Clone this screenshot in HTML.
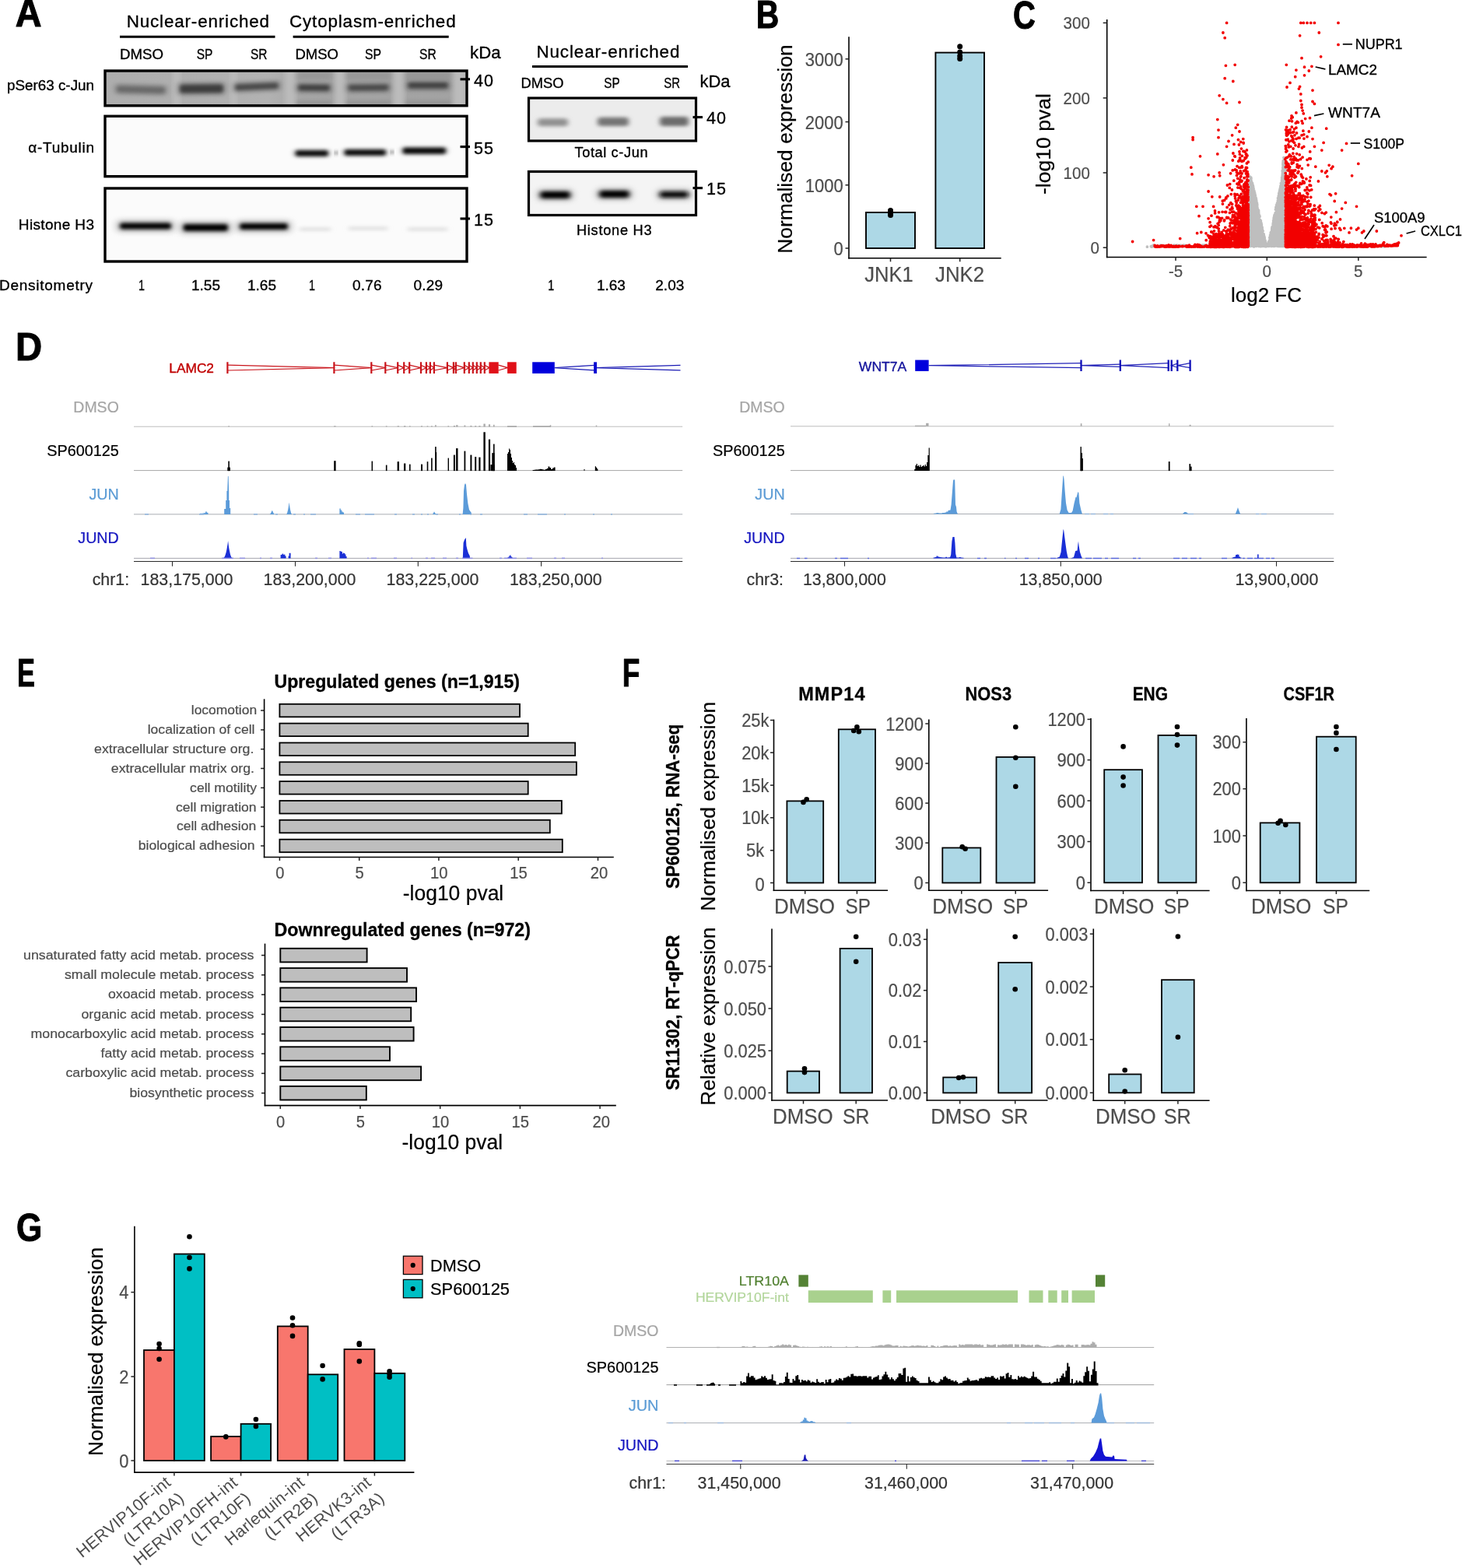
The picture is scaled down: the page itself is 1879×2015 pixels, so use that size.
<!DOCTYPE html>
<html lang="en"><head><meta charset="utf-8"><title>Figure</title>
<style>html,body{margin:0;padding:0;background:#fff}svg{display:block}text{font-family:"Liberation Sans",sans-serif}</style></head>
<body>
<svg width="1879" height="2015" viewBox="0 0 1879 2015">
<rect width="1879" height="2015" fill="#fff"/>
<text x="19.8" y="34.0" font-size="49.6" stroke="#000" stroke-width="1.0" stroke-linejoin="round" font-weight="bold" textLength="33.8" lengthAdjust="spacingAndGlyphs">A</text>
<text x="162.7" y="35.4" font-size="22.4" stroke="#000" stroke-width="0.35" stroke-linejoin="round" textLength="183.3" lengthAdjust="spacing">Nuclear-enriched</text>
<text x="372.0" y="35.4" font-size="22.4" stroke="#000" stroke-width="0.35" stroke-linejoin="round" textLength="213.6" lengthAdjust="spacing">Cytoplasm-enriched</text>
<line x1="154.0" y1="47.2" x2="353.5" y2="47.2" stroke="#000" stroke-width="3.1"/>
<line x1="376.6" y1="47.2" x2="576.7" y2="47.2" stroke="#000" stroke-width="3.1"/>
<text x="154.0" y="75.8" font-size="19" stroke="#000" stroke-width="0.35" stroke-linejoin="round" textLength="56.0" lengthAdjust="spacingAndGlyphs">DMSO</text>
<text x="252.7" y="75.8" font-size="19" stroke="#000" stroke-width="0.35" stroke-linejoin="round" textLength="20.7" lengthAdjust="spacingAndGlyphs">SP</text>
<text x="322.0" y="75.8" font-size="19" stroke="#000" stroke-width="0.35" stroke-linejoin="round" textLength="21.5" lengthAdjust="spacingAndGlyphs">SR</text>
<text x="379.5" y="75.8" font-size="19" stroke="#000" stroke-width="0.35" stroke-linejoin="round" textLength="55.5" lengthAdjust="spacingAndGlyphs">DMSO</text>
<text x="469.0" y="75.8" font-size="19" stroke="#000" stroke-width="0.35" stroke-linejoin="round" textLength="21.0" lengthAdjust="spacingAndGlyphs">SP</text>
<text x="539.0" y="75.8" font-size="19" stroke="#000" stroke-width="0.35" stroke-linejoin="round" textLength="21.7" lengthAdjust="spacingAndGlyphs">SR</text>
<text x="604.0" y="74.8" font-size="22.4" stroke="#000" stroke-width="0.35" stroke-linejoin="round" textLength="39.6" lengthAdjust="spacingAndGlyphs">kDa</text>
<defs><filter id="b1" x="-20%" y="-100%" width="140%" height="300%"><feGaussianBlur stdDeviation="2.4 2.0"/></filter><filter id="b2" x="-20%" y="-100%" width="140%" height="300%"><feGaussianBlur stdDeviation="3 2"/></filter><filter id="b3" x="-20%" y="-100%" width="140%" height="300%"><feGaussianBlur stdDeviation="4 3"/></filter><clipPath id="cA1"><rect x="135" y="91" width="465" height="45"/></clipPath><clipPath id="cA2"><rect x="135" y="149" width="465" height="78"/></clipPath><clipPath id="cA3"><rect x="135" y="242" width="465" height="94"/></clipPath><clipPath id="cA4"><rect x="679.5" y="126" width="215" height="55"/></clipPath><clipPath id="cA5"><rect x="679.5" y="220.5" width="215" height="56"/></clipPath><linearGradient id="gA1" x1="0" x2="1" y1="0" y2="0"><stop offset="0" stop-color="#adadad"/><stop offset="0.45" stop-color="#b2b2b2"/><stop offset="0.55" stop-color="#a6a6a6"/><stop offset="1" stop-color="#a2a2a2"/></linearGradient></defs>
<rect x="135.0" y="91.0" width="465.0" height="45.0" fill="url(#gA1)"/>
<g clip-path="url(#cA1)">
<rect x="222" y="88" width="10" height="52" fill="#bcbcbc" filter="url(#b2)"/>
<rect x="296" y="88" width="8" height="52" fill="#bcbcbc" filter="url(#b2)"/>
<rect x="366" y="88" width="14" height="52" fill="#bcbcbc" filter="url(#b2)"/>
<rect x="430" y="88" width="14" height="52" fill="#bcbcbc" filter="url(#b2)"/>
<rect x="505" y="88" width="15" height="52" fill="#bcbcbc" filter="url(#b2)"/>
<rect x="582" y="88" width="18" height="52" fill="#bcbcbc" filter="url(#b2)"/>
<rect x="146.0" y="107.6" width="70.0" height="15.2" rx="6" fill="#777" opacity="0.45" filter="url(#b2)" transform="rotate(1.5 181.0 115.2)"/>
<rect x="150.0" y="111.2" width="62.0" height="8.0" rx="4" fill="#666" opacity="0.95" filter="url(#b1)" transform="rotate(1.5 181.0 115.2)"/>
<rect x="227.0" y="104.8" width="64.0" height="18.4" rx="6" fill="#777" opacity="0.45" filter="url(#b2)" transform="rotate(-0.5 259.0 114)"/>
<rect x="231.0" y="108.4" width="56.0" height="11.2" rx="4" fill="#3c3c3c" opacity="1" filter="url(#b1)" transform="rotate(-0.5 259.0 114)"/>
<rect x="298.0" y="103.6" width="64.0" height="15.2" rx="6" fill="#777" opacity="0.45" filter="url(#b2)" transform="rotate(-2.5 330.0 111.2)"/>
<rect x="302.0" y="107.2" width="56.0" height="8.0" rx="4" fill="#484848" opacity="1" filter="url(#b1)" transform="rotate(-2.5 330.0 111.2)"/>
<rect x="379.0" y="105.2" width="49.0" height="15.2" rx="6" fill="#777" opacity="0.45" filter="url(#b2)" transform="rotate(0.5 403.5 112.8)"/>
<rect x="383.0" y="108.8" width="41.0" height="8.0" rx="4" fill="#404040" opacity="1" filter="url(#b1)" transform="rotate(0.5 403.5 112.8)"/>
<rect x="443.5" y="105.2" width="60.0" height="14.8" rx="6" fill="#777" opacity="0.45" filter="url(#b2)" transform="rotate(-0.5 473.5 112.6)"/>
<rect x="447.5" y="108.8" width="52.0" height="7.6" rx="4" fill="#484848" opacity="1" filter="url(#b1)" transform="rotate(-0.5 473.5 112.6)"/>
<rect x="520.0" y="102.2" width="60.0" height="15.2" rx="6" fill="#777" opacity="0.45" filter="url(#b2)" transform="rotate(0 550.0 109.8)"/>
<rect x="524.0" y="105.8" width="52.0" height="8.0" rx="4" fill="#424242" opacity="1" filter="url(#b1)" transform="rotate(0 550.0 109.8)"/>
<rect x="381" y="92" width="45" height="11" fill="#8e8e8e" opacity="0.55" filter="url(#b2)"/>
<rect x="381" y="129" width="45" height="6" fill="#8c8c8c" opacity="0.6" filter="url(#b1)"/>
<rect x="445" y="92" width="57" height="11" fill="#8e8e8e" opacity="0.55" filter="url(#b2)"/>
<rect x="445" y="129" width="57" height="6" fill="#8c8c8c" opacity="0.6" filter="url(#b1)"/>
<rect x="521" y="92" width="58" height="11" fill="#8e8e8e" opacity="0.55" filter="url(#b2)"/>
<rect x="521" y="129" width="58" height="6" fill="#8c8c8c" opacity="0.6" filter="url(#b1)"/>
</g>
<rect x="135.0" y="91.0" width="465.0" height="44.8" fill="none" stroke="#000" stroke-width="3.4"/>
<rect x="135.0" y="149.3" width="465.0" height="77.4" fill="#fbfbfb"/>
<g clip-path="url(#cA2)">
<rect x="377.0" y="191.7" width="47.5" height="10.6" rx="5" fill="#777" opacity="0.55" filter="url(#b2)"/>
<rect x="380.0" y="193.7" width="41.5" height="6.6" rx="3" fill="#000" filter="url(#b1)"/>
<rect x="440.0" y="190.7" width="58.5" height="10.6" rx="5" fill="#777" opacity="0.55" filter="url(#b2)"/>
<rect x="443.0" y="192.7" width="52.5" height="6.6" rx="3" fill="#000" filter="url(#b1)"/>
<rect x="515.0" y="188.3" width="60.5" height="11.0" rx="5" fill="#777" opacity="0.55" filter="url(#b2)"/>
<rect x="518.0" y="190.3" width="54.5" height="7.0" rx="3" fill="#000" filter="url(#b1)"/>
<circle cx="432" cy="196.5" r="2" fill="#333" filter="url(#b1)"/><circle cx="504" cy="195.5" r="2" fill="#333" filter="url(#b1)"/>
</g>
<rect x="135.0" y="149.3" width="465.0" height="77.4" fill="none" stroke="#000" stroke-width="3.4"/>
<rect x="135.0" y="242.0" width="465.0" height="94.0" fill="#fbfbfb"/>
<g clip-path="url(#cA3)">
<rect x="149.0" y="282.5" width="76.0" height="16.0" rx="6" fill="#888" opacity="0.5" filter="url(#b3)"/>
<rect x="154.0" y="286.5" width="66.0" height="8.0" rx="4" fill="#000" filter="url(#b1)"/>
<rect x="230.5" y="284.0" width="67.5" height="17.0" rx="6" fill="#888" opacity="0.5" filter="url(#b3)"/>
<rect x="235.5" y="288.0" width="57.5" height="9.0" rx="4" fill="#000" filter="url(#b1)"/>
<rect x="303.0" y="283.0" width="72.0" height="16.0" rx="6" fill="#888" opacity="0.5" filter="url(#b3)"/>
<rect x="308.0" y="287.0" width="62.0" height="8.0" rx="4" fill="#000" filter="url(#b1)"/>
<rect x="385" y="292.5" width="40" height="4" fill="#ddd" filter="url(#b2)"/>
<rect x="448" y="291.5" width="50" height="4" fill="#ddd" filter="url(#b2)"/>
<rect x="524" y="292.5" width="51" height="4" fill="#ddd" filter="url(#b2)"/>
</g>
<rect x="135.0" y="242.0" width="465.0" height="94.0" fill="none" stroke="#000" stroke-width="3.4"/>
<text x="9.0" y="115.7" font-size="19" stroke="#000" stroke-width="0.35" stroke-linejoin="round" textLength="112.0" lengthAdjust="spacingAndGlyphs">pSer63 c-Jun</text>
<text x="36.3" y="195.8" font-size="19" stroke="#000" stroke-width="0.35" stroke-linejoin="round" textLength="84.7" lengthAdjust="spacing">α-Tubulin</text>
<text x="23.8" y="294.8" font-size="19" stroke="#000" stroke-width="0.35" stroke-linejoin="round" textLength="97.2" lengthAdjust="spacing">Histone H3</text>
<text x="-1.0" y="373.0" font-size="19" stroke="#000" stroke-width="0.35" stroke-linejoin="round" textLength="120.0" lengthAdjust="spacing">Densitometry</text>
<text x="178.0" y="373.3" font-size="19" stroke="#000" stroke-width="0.35" stroke-linejoin="round" textLength="8.0" lengthAdjust="spacingAndGlyphs">1</text>
<text x="246.0" y="373.3" font-size="19" stroke="#000" stroke-width="0.35" stroke-linejoin="round" textLength="37.0" lengthAdjust="spacing">1.55</text>
<text x="318.0" y="373.3" font-size="19" stroke="#000" stroke-width="0.35" stroke-linejoin="round" textLength="37.0" lengthAdjust="spacing">1.65</text>
<text x="397.0" y="373.3" font-size="19" stroke="#000" stroke-width="0.35" stroke-linejoin="round" textLength="8.0" lengthAdjust="spacingAndGlyphs">1</text>
<text x="453.0" y="373.3" font-size="19" stroke="#000" stroke-width="0.35" stroke-linejoin="round" textLength="37.6" lengthAdjust="spacing">0.76</text>
<text x="531.4" y="373.3" font-size="19" stroke="#000" stroke-width="0.35" stroke-linejoin="round" textLength="37.6" lengthAdjust="spacing">0.29</text>
<line x1="591.5" y1="101.8" x2="604.0" y2="101.8" stroke="#000" stroke-width="3.1"/>
<text x="609.0" y="111.0" font-size="21.5" stroke="#000" stroke-width="0.35" stroke-linejoin="round" textLength="25.0" lengthAdjust="spacing">40</text>
<line x1="591.5" y1="188.6" x2="604.0" y2="188.6" stroke="#000" stroke-width="3.1"/>
<text x="609.0" y="197.8" font-size="21.5" stroke="#000" stroke-width="0.35" stroke-linejoin="round" textLength="25.0" lengthAdjust="spacing">55</text>
<line x1="591.5" y1="281.0" x2="604.0" y2="281.0" stroke="#000" stroke-width="3.1"/>
<text x="609.0" y="290.2" font-size="21.5" stroke="#000" stroke-width="0.35" stroke-linejoin="round" textLength="25.0" lengthAdjust="spacing">15</text>
<text x="689.4" y="73.8" font-size="22.4" stroke="#000" stroke-width="0.35" stroke-linejoin="round" textLength="184.0" lengthAdjust="spacing">Nuclear-enriched</text>
<line x1="684.0" y1="85.5" x2="884.0" y2="85.5" stroke="#000" stroke-width="3.1"/>
<text x="669.5" y="113.2" font-size="19" stroke="#000" stroke-width="0.35" stroke-linejoin="round" textLength="55.0" lengthAdjust="spacingAndGlyphs">DMSO</text>
<text x="776.3" y="113.2" font-size="19" stroke="#000" stroke-width="0.35" stroke-linejoin="round" textLength="20.3" lengthAdjust="spacingAndGlyphs">SP</text>
<text x="853.2" y="113.2" font-size="19" stroke="#000" stroke-width="0.35" stroke-linejoin="round" textLength="20.8" lengthAdjust="spacingAndGlyphs">SR</text>
<text x="899.5" y="112.0" font-size="22.4" stroke="#000" stroke-width="0.35" stroke-linejoin="round" textLength="39.0" lengthAdjust="spacingAndGlyphs">kDa</text>
<rect x="679.5" y="126.0" width="215.0" height="55.0" fill="#ececec"/>
<g clip-path="url(#cA4)">
<rect x="691.0" y="152.2" width="39.0" height="10.0" rx="4" fill="#919191" filter="url(#b2)"/>
<rect x="768.0" y="150.8" width="40.0" height="11.2" rx="4" fill="#747474" filter="url(#b2)"/>
<rect x="848.0" y="150.0" width="37.0" height="12.0" rx="4" fill="#6c6c6c" filter="url(#b2)"/>
</g>
<rect x="679.5" y="126.0" width="215.0" height="55.0" fill="none" stroke="#000" stroke-width="3.2"/>
<rect x="679.5" y="220.5" width="215.0" height="56.0" fill="#f4f4f4"/>
<g clip-path="url(#cA5)">
<rect x="690.5" y="242.9" width="46.0" height="15.2" rx="6" fill="#777" opacity="0.5" filter="url(#b3)"/>
<rect x="694.5" y="245.9" width="38.0" height="9.2" rx="4" fill="#000" filter="url(#b2)"/>
<rect x="766.5" y="242.1" width="46.0" height="14.8" rx="6" fill="#777" opacity="0.5" filter="url(#b3)"/>
<rect x="770.5" y="245.1" width="38.0" height="8.8" rx="4" fill="#000" filter="url(#b2)"/>
<rect x="844.0" y="243.0" width="44.5" height="14.0" rx="6" fill="#777" opacity="0.5" filter="url(#b3)"/>
<rect x="848.0" y="246.0" width="36.5" height="8.0" rx="4" fill="#111" filter="url(#b2)"/>
</g>
<rect x="679.5" y="220.5" width="215.0" height="56.0" fill="none" stroke="#000" stroke-width="3.2"/>
<line x1="890.5" y1="150.6" x2="903.0" y2="150.6" stroke="#000" stroke-width="3.1"/>
<text x="908.0" y="159.2" font-size="21.5" stroke="#000" stroke-width="0.35" stroke-linejoin="round" textLength="25.0" lengthAdjust="spacing">40</text>
<line x1="890.5" y1="241.6" x2="903.0" y2="241.6" stroke="#000" stroke-width="3.1"/>
<text x="908.0" y="250.2" font-size="21.5" stroke="#000" stroke-width="0.35" stroke-linejoin="round" textLength="25.0" lengthAdjust="spacing">15</text>
<text x="738.5" y="202.0" font-size="18.2" stroke="#000" stroke-width="0.35" stroke-linejoin="round" textLength="94.0" lengthAdjust="spacing">Total c-Jun</text>
<text x="741.0" y="302.4" font-size="18.2" stroke="#000" stroke-width="0.35" stroke-linejoin="round" textLength="96.5" lengthAdjust="spacing">Histone H3</text>
<text x="704.3" y="373.3" font-size="19" stroke="#000" stroke-width="0.35" stroke-linejoin="round" textLength="8.0" lengthAdjust="spacingAndGlyphs">1</text>
<text x="766.9" y="373.3" font-size="19" stroke="#000" stroke-width="0.35" stroke-linejoin="round" textLength="37.0" lengthAdjust="spacing">1.63</text>
<text x="842.3" y="373.3" font-size="19" stroke="#000" stroke-width="0.35" stroke-linejoin="round" textLength="37.0" lengthAdjust="spacing">2.03</text>
<text x="971.8" y="36.2" font-size="49.6" stroke="#000" stroke-width="1.0" stroke-linejoin="round" font-weight="bold" textLength="29.5" lengthAdjust="spacingAndGlyphs">B</text>
<rect x="1113.0" y="273.0" width="63.0" height="46.0" fill="#add8e6" stroke="#000" stroke-width="1.9"/>
<rect x="1202.4" y="67.6" width="62.6" height="251.4" fill="#add8e6" stroke="#000" stroke-width="1.9"/>
<line x1="1091.0" y1="47.3" x2="1091.0" y2="332.6" stroke="#000" stroke-width="1.6"/>
<line x1="1090.2" y1="331.8" x2="1286.7" y2="331.8" stroke="#000" stroke-width="1.6"/>
<line x1="1086.5" y1="75.8" x2="1091.0" y2="75.8" stroke="#222" stroke-width="1.5"/>
<text x="1083.7" y="84.7" font-size="23.415000000000003" stroke="#4d4d4d" stroke-width="0.22" stroke-linejoin="round" text-anchor="end" textLength="48.9" lengthAdjust="spacingAndGlyphs" fill="#4d4d4d">3000</text>
<line x1="1086.5" y1="156.6" x2="1091.0" y2="156.6" stroke="#222" stroke-width="1.5"/>
<text x="1083.7" y="165.5" font-size="23.415000000000003" stroke="#4d4d4d" stroke-width="0.22" stroke-linejoin="round" text-anchor="end" textLength="48.9" lengthAdjust="spacingAndGlyphs" fill="#4d4d4d">2000</text>
<line x1="1086.5" y1="237.8" x2="1091.0" y2="237.8" stroke="#222" stroke-width="1.5"/>
<text x="1083.7" y="246.7" font-size="23.415000000000003" stroke="#4d4d4d" stroke-width="0.22" stroke-linejoin="round" text-anchor="end" textLength="48.9" lengthAdjust="spacingAndGlyphs" fill="#4d4d4d">1000</text>
<line x1="1086.5" y1="319.0" x2="1091.0" y2="319.0" stroke="#222" stroke-width="1.5"/>
<text x="1083.7" y="327.9" font-size="23.415000000000003" stroke="#4d4d4d" stroke-width="0.22" stroke-linejoin="round" text-anchor="end" textLength="12.2" lengthAdjust="spacingAndGlyphs" fill="#4d4d4d">0</text>
<line x1="1144.5" y1="331.8" x2="1144.5" y2="336.3" stroke="#222" stroke-width="1.5"/>
<line x1="1233.7" y1="331.8" x2="1233.7" y2="336.3" stroke="#222" stroke-width="1.5"/>
<text x="1142.5" y="361.6" font-size="27" stroke="#4d4d4d" stroke-width="0.22" stroke-linejoin="round" text-anchor="middle" textLength="62.5" lengthAdjust="spacingAndGlyphs" fill="#4d4d4d">JNK1</text>
<text x="1233.5" y="361.6" font-size="27" stroke="#4d4d4d" stroke-width="0.22" stroke-linejoin="round" text-anchor="middle" textLength="63.0" lengthAdjust="spacingAndGlyphs" fill="#4d4d4d">JNK2</text>
<circle cx="1144.5" cy="270.5" r="3.5" fill="#000"/>
<circle cx="1144.5" cy="273.8" r="3.5" fill="#000"/>
<circle cx="1144.5" cy="276.5" r="3.5" fill="#000"/>
<circle cx="1233.7" cy="59.8" r="3.5" fill="#000"/>
<circle cx="1233.7" cy="67.0" r="3.5" fill="#000"/>
<circle cx="1233.7" cy="72.0" r="3.5" fill="#000"/>
<circle cx="1233.7" cy="75.5" r="3.5" fill="#000"/>
<text font-size="26.4" stroke="#000" stroke-width="0.22" stroke-linejoin="round" textLength="268.5" lengthAdjust="spacingAndGlyphs" transform="translate(1017.5,325.7) rotate(-90)">Normalised expression</text>
<text x="1301.9" y="36.6" font-size="49.6" stroke="#000" stroke-width="1.0" stroke-linejoin="round" font-weight="bold" textLength="28.9" lengthAdjust="spacingAndGlyphs">C</text>
<path d="M1606.8 272.2h0M1606.3 265.6h0M1607.0 234.8h0M1615.3 301.0h0M1608.3 246.7h0M1620.0 311.9h0M1608.8 237.2h0M1612.6 300.0h0M1609.6 278.9h0M1606.8 245.1h0M1612.7 279.3h0M1611.1 278.3h0M1617.7 305.3h0M1615.2 294.7h0M1609.0 270.6h0M1606.3 286.7h0M1625.0 311.6h0M1616.5 286.3h0M1606.8 289.7h0M1620.5 315.9h0M1614.4 286.7h0M1605.9 268.1h0M1609.3 237.1h0M1606.8 295.7h0M1608.4 248.9h0M1614.5 305.0h0M1607.3 267.0h0M1618.2 306.1h0M1624.5 304.3h0M1611.9 264.0h0M1613.8 306.1h0M1609.5 247.5h0M1610.9 270.2h0M1605.5 264.3h0M1614.0 277.5h0M1617.4 282.2h0M1614.6 262.5h0M1607.8 283.7h0M1606.9 232.7h0M1610.3 241.2h0M1605.4 240.2h0M1607.8 259.3h0M1606.0 305.3h0M1611.3 257.8h0M1625.2 315.9h0M1616.3 270.1h0M1607.4 235.8h0M1606.0 312.1h0M1617.7 314.6h0M1611.5 259.6h0M1609.3 296.0h0M1617.8 296.7h0M1624.3 315.2h0M1610.7 273.2h0M1606.1 251.7h0M1611.5 288.9h0M1627.2 315.5h0M1610.6 247.0h0M1610.0 245.0h0M1620.0 307.6h0M1620.6 298.5h0M1607.4 286.0h0M1609.6 297.6h0M1613.2 298.6h0M1614.8 311.8h0M1608.4 240.2h0M1608.8 301.0h0M1613.6 276.0h0M1617.7 310.6h0M1615.5 305.0h0M1611.3 252.9h0M1611.0 279.4h0M1611.5 264.3h0M1608.5 308.5h0M1613.7 267.8h0M1619.0 307.9h0M1615.2 309.2h0M1617.1 274.4h0M1605.5 298.5h0M1609.4 269.2h0M1613.0 273.2h0M1618.4 297.2h0M1607.9 277.0h0M1611.2 251.5h0M1618.5 295.0h0M1617.3 288.9h0M1616.0 274.6h0M1616.6 311.3h0M1621.7 305.5h0M1618.5 311.5h0M1608.2 266.4h0M1607.1 248.2h0M1607.1 286.8h0M1623.7 307.3h0M1609.0 291.0h0M1626.0 313.6h0M1610.5 312.3h0M1614.7 270.4h0M1609.2 265.4h0M1610.0 255.2h0M1605.8 256.4h0M1606.9 315.2h0M1623.8 314.0h0M1607.9 250.5h0M1606.3 296.7h0M1615.3 308.6h0M1608.9 309.3h0M1618.7 289.6h0M1607.5 231.8h0M1607.1 311.0h0M1620.2 298.7h0M1607.4 303.6h0M1607.0 304.2h0M1618.3 310.0h0M1608.0 241.1h0M1606.6 244.7h0M1612.7 254.0h0M1609.8 269.3h0M1616.9 301.7h0M1614.6 272.2h0M1621.4 315.0h0M1613.4 301.5h0M1614.8 257.9h0M1606.7 238.3h0M1607.1 293.2h0M1607.4 302.3h0M1612.0 248.4h0M1612.2 267.9h0M1609.1 266.7h0M1611.5 313.1h0M1611.1 313.5h0M1612.6 258.7h0M1605.4 260.9h0M1616.5 271.8h0M1610.1 272.0h0M1605.5 250.4h0M1607.5 262.5h0M1612.5 247.5h0M1622.1 305.7h0M1614.5 255.9h0M1606.4 301.7h0M1622.5 299.7h0M1608.7 273.7h0M1617.2 301.7h0M1624.2 300.9h0M1619.0 306.9h0M1621.3 289.0h0M1608.5 259.0h0M1607.9 301.8h0M1618.4 283.1h0M1620.0 287.8h0M1617.1 274.7h0M1607.2 250.5h0M1622.7 314.4h0M1616.6 288.1h0M1608.9 249.4h0M1606.8 250.8h0M1621.1 288.9h0M1605.8 267.9h0M1624.5 313.7h0M1610.3 311.7h0M1610.3 278.9h0M1608.7 273.7h0M1610.8 307.4h0M1605.5 270.8h0M1608.7 257.5h0M1612.8 302.2h0M1605.5 294.1h0M1614.1 261.9h0M1613.8 265.1h0M1607.8 301.7h0M1612.1 310.8h0M1611.2 250.5h0M1614.1 312.6h0M1620.1 308.8h0M1612.4 293.1h0M1609.3 241.1h0M1610.3 308.1h0M1626.5 316.2h0M1611.0 249.8h0M1618.7 306.4h0M1615.1 273.7h0M1614.2 257.0h0M1606.9 251.6h0M1617.1 283.2h0M1611.7 248.9h0M1614.7 266.7h0M1606.2 290.4h0M1614.5 310.0h0M1624.7 303.6h0M1608.0 240.5h0M1617.6 288.0h0M1620.5 295.4h0M1616.1 276.2h0M1606.3 297.0h0M1610.8 309.4h0M1608.4 249.2h0M1620.2 289.4h0M1608.0 232.9h0M1617.6 279.0h0M1612.4 268.0h0M1610.9 248.8h0M1617.0 287.3h0M1621.0 309.8h0M1613.3 264.4h0M1610.6 295.0h0M1612.3 312.2h0M1610.6 264.1h0M1620.9 311.9h0M1608.8 262.0h0M1610.4 314.2h0M1606.8 262.0h0M1622.5 316.3h0M1609.7 310.8h0M1614.1 256.4h0M1611.9 258.2h0M1613.7 300.5h0M1606.6 269.2h0M1614.1 309.3h0M1609.9 259.4h0M1615.0 299.6h0M1606.2 232.2h0M1622.8 307.4h0M1613.3 251.1h0M1611.5 291.1h0M1612.8 251.4h0M1605.5 294.6h0M1610.9 269.3h0M1615.4 271.0h0M1612.9 259.1h0M1610.0 294.3h0M1606.2 276.3h0M1613.0 314.8h0M1626.0 315.5h0M1607.7 271.4h0M1610.9 264.1h0M1619.9 287.2h0M1622.8 302.8h0M1611.2 248.7h0M1609.0 306.1h0M1614.6 315.9h0M1616.5 300.3h0M1625.0 308.9h0M1606.4 253.0h0M1608.2 243.6h0M1611.5 296.6h0M1619.3 282.4h0M1610.5 259.8h0M1608.7 244.9h0M1611.4 280.5h0M1605.7 256.0h0M1606.9 235.7h0M1614.6 276.1h0M1609.2 289.2h0M1612.6 312.3h0M1612.7 277.6h0M1613.7 264.1h0M1625.6 316.3h0M1605.6 307.7h0M1615.3 300.4h0M1614.9 306.0h0M1605.8 276.2h0M1620.3 308.4h0M1607.5 282.6h0M1614.1 272.0h0M1608.8 252.1h0M1617.6 309.9h0M1608.0 270.7h0M1624.2 313.6h0M1610.0 238.0h0M1627.4 314.4h0M1614.8 302.7h0M1610.5 262.6h0M1608.3 248.8h0M1622.3 307.3h0M1606.4 277.2h0M1615.2 279.0h0M1615.3 285.9h0M1615.8 266.0h0M1606.0 282.3h0M1623.2 296.8h0M1608.4 265.3h0M1607.6 266.4h0M1622.5 296.6h0M1625.4 316.2h0M1622.5 299.9h0M1609.9 314.9h0M1616.9 312.7h0M1623.8 310.3h0M1606.9 258.2h0M1617.1 309.4h0M1610.3 250.2h0M1606.3 243.0h0M1609.2 310.8h0M1621.3 307.1h0M1609.3 297.2h0M1608.1 274.3h0M1618.9 306.0h0M1607.9 315.9h0M1613.8 295.4h0M1620.3 315.1h0M1619.1 286.3h0M1606.2 240.0h0M1617.4 307.2h0M1608.5 247.0h0M1605.5 258.5h0M1607.9 258.7h0M1610.6 279.1h0M1608.6 310.9h0M1607.6 284.0h0M1605.7 284.6h0M1611.2 307.9h0M1606.4 274.4h0M1606.8 296.7h0M1605.7 276.2h0M1610.1 281.3h0M1617.2 284.3h0M1612.6 253.6h0M1606.5 306.6h0M1605.6 302.6h0M1613.2 294.0h0M1621.6 302.6h0M1611.6 284.4h0M1611.5 247.8h0M1622.7 311.6h0M1611.0 308.2h0M1620.1 288.9h0M1620.9 314.7h0M1616.4 302.1h0M1621.7 303.7h0M1615.6 291.8h0M1610.4 282.6h0M1607.2 308.5h0M1607.9 310.2h0M1621.7 292.9h0M1606.9 279.7h0M1613.9 300.1h0M1624.5 306.8h0M1607.0 304.7h0M1626.7 311.5h0M1607.9 245.1h0M1608.0 229.7h0M1620.2 300.8h0M1607.7 235.4h0M1612.9 264.7h0M1605.9 249.7h0M1612.0 291.0h0M1614.0 255.5h0M1606.1 263.7h0M1615.6 296.1h0M1613.5 290.0h0M1605.4 244.8h0M1623.2 314.6h0M1605.5 270.7h0M1616.9 298.3h0M1609.7 271.1h0M1613.5 301.4h0M1611.5 311.5h0M1612.0 245.9h0M1608.0 283.9h0M1607.3 297.5h0M1621.7 297.4h0M1614.8 262.1h0M1610.2 250.3h0M1614.3 306.1h0M1610.9 268.1h0M1617.8 294.5h0M1613.5 256.0h0M1609.0 302.4h0M1620.8 293.3h0M1609.4 266.1h0M1608.4 268.2h0M1609.9 253.7h0M1621.8 302.5h0M1609.0 240.6h0M1611.2 256.0h0M1607.8 313.2h0M1607.8 261.2h0M1610.0 284.0h0M1607.9 245.2h0M1614.7 297.8h0M1608.7 280.9h0M1614.8 293.3h0M1618.8 294.0h0M1622.2 305.8h0M1612.7 283.1h0M1607.7 264.3h0M1615.3 267.5h0M1621.1 310.3h0M1609.7 285.5h0M1616.8 314.3h0M1606.3 275.5h0M1609.2 296.9h0M1607.8 278.3h0M1618.0 291.1h0M1617.3 284.1h0M1615.0 311.9h0M1610.3 288.2h0M1614.6 295.2h0M1608.3 315.2h0M1611.8 262.5h0M1605.7 264.3h0M1615.2 289.4h0M1610.6 293.3h0M1610.5 298.7h0M1608.4 296.5h0M1616.3 277.2h0M1610.7 313.3h0M1613.6 284.1h0M1605.5 291.5h0M1612.0 248.6h0M1612.4 269.7h0M1615.4 283.9h0M1606.7 301.1h0M1608.7 301.4h0M1605.7 312.2h0M1607.8 239.4h0M1610.9 296.4h0M1609.3 306.8h0M1619.6 296.9h0M1621.0 307.0h0M1623.8 302.1h0M1610.0 288.9h0M1617.8 293.3h0M1615.6 306.0h0M1616.9 271.4h0M1618.0 304.2h0M1605.6 302.2h0M1616.3 277.2h0M1620.9 302.2h0M1614.2 264.3h0M1620.3 283.8h0M1606.1 281.4h0M1621.3 310.4h0M1613.1 314.9h0M1617.3 270.2h0M1613.3 304.1h0M1613.9 269.3h0M1617.7 295.9h0M1610.3 265.7h0M1615.3 276.4h0M1617.2 314.3h0M1620.7 297.8h0M1613.1 255.1h0M1612.4 279.4h0M1620.2 297.1h0M1606.3 291.6h0M1606.6 253.6h0M1605.6 243.7h0M1620.7 297.6h0M1619.8 283.0h0M1623.5 308.8h0M1612.5 264.5h0M1612.8 265.3h0M1620.4 310.6h0M1606.7 277.6h0M1606.3 237.3h0M1605.7 261.4h0M1619.2 311.0h0M1605.5 288.1h0M1608.3 313.5h0M1607.5 304.8h0M1606.6 296.2h0M1622.0 303.6h0M1620.1 290.4h0M1616.1 310.5h0M1611.3 313.3h0M1605.8 285.1h0M1612.7 292.2h0M1609.3 304.1h0M1614.0 278.3h0M1615.6 287.5h0M1608.8 298.3h0M1613.9 284.6h0M1614.4 297.3h0M1606.8 314.2h0M1621.8 301.0h0M1613.2 281.1h0M1615.4 306.5h0M1614.2 288.2h0M1619.4 307.2h0M1605.5 250.3h0M1615.3 279.4h0M1624.4 306.4h0M1606.4 301.6h0M1624.3 304.6h0M1621.4 308.8h0M1618.3 298.3h0M1610.1 294.1h0M1619.6 287.6h0M1611.4 294.2h0M1607.5 299.2h0M1618.9 307.3h0M1616.5 279.6h0M1609.8 243.9h0M1609.6 289.7h0M1613.9 277.4h0M1614.8 273.1h0M1607.9 283.5h0M1606.2 315.7h0M1624.5 313.3h0M1610.1 242.9h0M1607.4 231.2h0M1618.4 304.9h0M1616.1 311.8h0M1608.2 312.9h0M1611.4 277.4h0M1620.3 312.6h0M1627.9 315.8h0M1611.4 258.3h0M1620.5 315.2h0M1606.7 239.6h0M1623.0 311.1h0M1619.2 294.8h0M1607.9 255.7h0M1606.3 310.1h0M1610.6 310.6h0M1608.7 266.8h0M1607.7 310.2h0M1608.8 304.9h0M1611.6 263.6h0M1609.0 251.0h0M1609.3 270.8h0M1612.8 307.8h0M1608.1 314.6h0M1606.7 307.1h0M1611.4 244.7h0M1613.9 315.8h0M1607.7 252.6h0M1609.7 265.7h0M1609.6 295.9h0M1607.3 234.5h0M1611.8 245.1h0M1619.7 290.3h0M1625.0 304.4h0M1609.8 301.4h0M1614.1 280.1h0M1605.5 273.4h0M1615.8 273.0h0M1608.2 290.9h0M1624.4 304.5h0M1612.9 290.6h0M1614.3 294.2h0M1606.8 305.1h0M1617.4 274.3h0M1611.3 300.1h0M1606.1 235.3h0M1605.8 280.5h0M1606.5 237.7h0M1616.9 271.6h0M1619.2 304.1h0M1608.8 278.1h0M1624.7 310.9h0M1614.5 264.4h0M1614.6 311.3h0M1611.0 256.7h0M1615.6 314.9h0M1624.2 308.7h0M1624.4 302.9h0M1606.7 273.1h0M1611.2 264.6h0M1615.5 272.0h0M1605.9 239.1h0M1624.3 306.2h0M1618.1 309.8h0M1612.5 284.8h0M1608.2 280.1h0M1611.7 268.6h0M1608.3 238.4h0M1612.3 263.2h0M1612.1 248.5h0M1607.5 275.7h0M1618.7 285.1h0M1610.1 290.5h0M1616.2 275.9h0M1612.7 248.4h0M1610.6 272.7h0M1614.3 279.3h0M1605.7 258.3h0M1612.1 315.4h0M1612.3 296.1h0M1606.9 261.5h0M1615.7 292.8h0M1608.0 246.8h0M1609.0 256.9h0M1613.6 287.4h0M1619.8 303.1h0M1617.0 313.2h0M1623.7 305.1h0M1616.0 267.8h0M1614.5 276.6h0M1614.4 255.6h0M1623.8 303.0h0M1609.7 253.9h0M1608.8 278.4h0M1615.4 308.5h0M1618.0 316.4h0M1617.5 273.1h0M1613.8 280.1h0M1613.6 311.9h0M1607.7 260.3h0M1614.8 277.1h0M1618.8 305.7h0M1615.7 282.8h0M1617.8 300.0h0M1609.4 255.2h0M1624.5 315.7h0M1609.1 252.7h0M1617.3 272.0h0M1609.8 243.0h0M1613.6 316.0h0M1615.0 297.5h0M1612.6 288.7h0M1605.5 254.0h0M1617.0 276.4h0M1611.6 284.8h0M1617.8 316.3h0M1608.2 240.7h0M1607.7 241.9h0M1617.6 300.6h0M1619.7 299.2h0M1609.4 250.6h0M1607.7 307.9h0M1606.7 306.7h0M1619.0 312.9h0M1615.7 282.4h0M1612.8 307.5h0M1619.5 313.0h0M1617.0 312.0h0M1611.1 261.7h0M1612.6 305.3h0M1616.7 297.9h0M1611.1 242.2h0M1608.3 300.9h0M1609.9 252.1h0M1609.0 290.1h0M1607.6 250.9h0M1615.7 301.8h0M1613.6 291.6h0M1614.2 312.8h0M1610.3 312.1h0M1617.4 275.4h0M1611.7 296.0h0M1614.4 285.7h0M1609.5 303.2h0M1612.9 286.2h0M1608.0 277.2h0M1613.8 271.6h0M1608.4 291.1h0M1612.0 262.9h0M1608.5 251.5h0M1606.1 287.7h0M1615.0 285.9h0M1608.1 308.7h0M1609.2 244.4h0M1612.5 260.8h0M1606.3 254.6h0M1615.5 288.2h0M1606.5 248.6h0M1608.0 297.8h0M1610.3 308.9h0M1622.8 301.2h0M1622.6 301.3h0M1606.7 289.4h0M1615.4 272.6h0M1621.8 299.1h0M1611.5 275.7h0M1606.8 258.8h0M1611.0 248.3h0M1612.4 306.2h0M1608.7 277.3h0M1613.2 300.0h0M1618.2 295.0h0M1609.4 286.6h0M1623.3 301.4h0M1608.1 252.6h0M1606.8 251.9h0M1610.0 289.7h0M1613.0 268.8h0M1607.4 291.1h0M1608.0 270.6h0M1620.0 310.7h0M1606.1 296.3h0M1609.7 284.0h0M1625.1 310.0h0M1609.3 297.2h0M1614.0 276.2h0M1614.0 301.4h0M1618.6 283.1h0M1626.5 311.6h0M1616.9 271.5h0M1609.1 253.5h0M1615.7 313.8h0M1607.5 230.2h0M1612.0 286.1h0M1613.3 266.1h0M1620.9 300.9h0M1612.3 266.5h0M1613.0 268.0h0M1625.6 314.3h0M1612.3 278.0h0M1613.4 306.2h0M1606.1 243.6h0M1607.4 286.0h0M1614.1 278.8h0M1615.1 274.3h0M1608.1 242.8h0M1608.0 304.2h0M1616.8 276.4h0M1610.7 278.1h0M1608.0 272.8h0M1615.7 304.3h0M1618.2 290.9h0M1607.8 301.3h0M1610.9 260.1h0M1605.8 280.1h0M1610.4 253.6h0M1609.3 293.7h0M1613.4 295.3h0M1621.3 300.9h0M1608.3 260.2h0M1622.6 311.9h0M1618.2 298.8h0M1608.0 309.8h0M1609.9 266.8h0M1608.0 298.6h0M1609.7 276.5h0M1612.2 288.4h0M1621.5 299.3h0M1617.1 305.1h0M1609.7 300.2h0M1607.2 256.2h0M1610.5 307.0h0M1609.4 259.1h0M1616.3 278.5h0M1614.5 258.4h0M1605.6 278.7h0M1616.1 315.3h0M1606.5 239.7h0M1611.8 271.6h0M1611.5 277.8h0M1617.7 312.7h0M1618.5 295.9h0M1620.2 283.7h0M1623.9 305.1h0M1612.5 295.3h0M1606.8 256.9h0M1612.9 315.5h0M1611.1 247.7h0M1605.6 305.0h0M1616.0 266.7h0M1612.4 254.3h0M1607.3 242.7h0M1618.9 315.4h0M1613.7 296.3h0M1615.4 304.7h0M1607.0 270.2h0M1609.2 250.7h0M1619.5 304.3h0M1622.5 313.2h0M1624.3 305.4h0M1609.8 274.9h0M1613.0 294.0h0M1606.8 263.9h0M1606.5 282.9h0M1613.2 271.1h0M1619.7 291.7h0M1609.1 239.4h0M1618.0 279.5h0M1618.3 285.7h0M1622.0 295.3h0M1623.4 314.5h0M1617.6 311.2h0M1616.5 285.6h0M1606.1 238.7h0M1606.8 271.7h0M1608.9 242.6h0M1622.6 309.5h0M1613.0 307.9h0M1607.9 292.6h0M1606.9 284.7h0M1614.8 304.3h0M1606.8 277.4h0M1615.0 309.3h0M1610.6 249.3h0M1611.5 265.6h0M1610.8 244.9h0M1612.4 316.0h0M1610.5 277.8h0M1609.1 304.2h0M1622.9 300.6h0M1612.0 256.4h0M1616.7 306.7h0M1609.2 288.0h0M1618.9 306.0h0M1610.3 306.1h0M1613.8 296.7h0M1625.5 316.1h0M1608.0 314.2h0M1605.6 308.6h0M1608.9 292.8h0M1607.7 241.8h0M1613.3 309.2h0M1622.1 305.9h0M1610.9 297.9h0M1605.9 315.7h0M1612.8 305.6h0M1608.2 270.4h0M1608.6 265.1h0M1609.6 288.3h0M1608.9 293.0h0M1613.7 271.2h0M1610.4 313.6h0M1606.4 272.4h0M1614.9 276.7h0M1618.1 276.0h0M1621.5 315.0h0M1615.2 314.1h0M1614.4 261.3h0M1619.6 309.9h0M1611.3 281.6h0M1612.8 314.0h0M1605.4 293.7h0M1619.2 316.1h0M1610.9 283.2h0M1617.7 281.7h0M1610.6 281.7h0M1611.6 308.3h0M1616.4 291.5h0M1610.6 239.4h0M1617.6 274.0h0M1609.4 300.5h0M1616.1 284.2h0M1624.7 307.0h0M1614.3 301.5h0M1609.0 249.2h0M1607.8 258.7h0M1614.6 316.3h0M1616.6 298.4h0M1614.1 257.2h0M1610.1 277.9h0M1606.8 242.6h0M1620.2 303.9h0M1610.1 264.7h0M1614.9 284.9h0M1614.4 278.7h0M1614.1 286.5h0M1617.7 271.3h0M1606.0 279.9h0M1616.2 268.2h0M1616.5 306.7h0M1615.7 270.8h0M1617.3 300.8h0M1621.0 293.2h0M1608.2 246.4h0M1607.2 300.1h0M1607.8 234.5h0M1606.7 287.9h0M1606.7 288.8h0M1615.2 279.1h0M1613.2 273.2h0M1605.6 315.5h0M1611.8 250.2h0M1612.7 249.5h0M1606.6 254.0h0M1616.2 270.6h0M1606.6 254.9h0M1611.8 298.2h0M1612.2 290.5h0M1616.0 310.7h0M1615.8 305.6h0M1606.8 265.6h0M1621.1 287.3h0M1607.8 235.2h0M1623.7 312.1h0M1615.1 285.9h0M1611.4 308.1h0M1606.7 289.2h0M1606.4 301.8h0M1612.3 247.5h0M1624.0 314.8h0M1614.3 284.2h0M1610.6 275.7h0M1607.6 268.4h0M1626.9 316.2h0M1612.2 257.9h0M1616.7 304.3h0M1607.5 239.2h0M1611.7 306.9h0M1619.4 313.6h0M1613.4 311.6h0M1613.2 267.0h0M1611.2 293.4h0M1609.6 297.5h0M1618.3 297.5h0M1606.2 272.8h0M1607.7 284.8h0M1608.5 278.6h0M1613.6 260.3h0M1609.4 311.3h0M1613.1 302.4h0M1608.9 235.0h0M1617.0 274.8h0M1608.2 268.7h0M1609.2 274.8h0M1610.0 262.9h0M1610.2 238.0h0M1611.0 305.0h0M1617.1 306.7h0M1605.8 311.5h0M1616.8 297.8h0M1618.7 288.6h0M1610.8 294.1h0M1609.0 250.4h0M1606.1 262.0h0M1619.3 297.1h0M1611.1 280.5h0M1619.8 288.8h0M1611.1 292.6h0M1610.0 246.4h0M1613.1 314.4h0M1616.6 271.3h0M1623.6 308.3h0M1610.1 282.8h0M1607.6 291.1h0M1624.7 310.9h0M1611.3 302.0h0M1610.8 244.4h0M1616.9 308.3h0M1621.4 290.5h0M1614.5 297.1h0M1620.6 301.8h0M1613.3 280.1h0M1605.5 270.6h0M1605.8 236.5h0M1613.7 302.6h0M1607.5 251.0h0M1620.8 299.2h0M1608.2 288.0h0M1606.4 300.6h0M1609.7 251.0h0M1610.6 306.6h0M1619.6 307.0h0M1614.6 271.5h0M1609.5 311.6h0M1616.0 299.4h0M1611.3 258.3h0M1607.8 276.3h0M1614.2 310.1h0M1607.2 282.7h0M1615.8 312.8h0M1613.8 286.1h0M1617.6 287.5h0M1613.9 314.4h0M1606.7 301.7h0M1615.8 294.2h0M1608.8 279.5h0M1614.6 293.8h0M1614.3 313.2h0M1618.8 300.9h0M1608.7 273.0h0M1612.4 261.0h0M1609.8 254.4h0M1612.9 266.0h0M1607.9 250.0h0M1614.6 261.3h0M1610.2 308.4h0M1615.9 301.9h0M1620.3 296.6h0M1618.4 286.9h0M1613.9 309.1h0M1613.7 311.2h0M1611.6 248.5h0M1607.0 275.9h0M1615.0 299.3h0M1608.0 254.2h0M1620.4 313.6h0M1620.2 288.9h0M1613.4 261.9h0M1609.7 305.0h0M1617.8 273.5h0M1621.0 307.7h0M1608.5 257.1h0M1607.0 263.8h0M1617.1 303.2h0M1614.8 278.2h0M1611.8 302.6h0M1623.8 302.0h0M1608.9 287.0h0M1622.7 300.5h0M1620.5 305.6h0M1608.5 289.9h0M1619.5 300.7h0M1611.8 245.8h0M1621.2 314.3h0M1605.5 283.2h0M1608.6 251.3h0M1606.8 266.7h0M1618.3 299.2h0M1606.3 301.0h0M1608.0 246.8h0M1613.1 277.7h0M1610.5 298.0h0M1610.3 302.1h0M1606.1 296.6h0M1606.1 272.0h0M1620.1 291.8h0M1617.3 279.6h0M1610.7 304.7h0M1616.0 288.0h0M1609.9 292.8h0M1610.0 289.9h0M1610.0 250.5h0M1618.5 289.7h0M1606.9 245.1h0M1605.7 304.3h0M1611.6 258.6h0M1609.2 283.5h0M1606.4 242.4h0M1613.7 307.5h0M1607.8 236.2h0M1609.0 296.5h0M1616.4 315.7h0M1616.5 300.5h0M1608.4 236.4h0M1610.3 249.3h0M1605.9 308.4h0M1622.0 311.6h0M1624.3 302.3h0M1610.4 279.3h0M1607.1 255.7h0M1620.0 306.2h0M1616.7 284.1h0M1610.2 248.5h0M1607.8 279.8h0M1608.4 244.6h0M1616.1 279.3h0M1620.2 290.2h0M1621.1 290.8h0M1611.0 285.0h0M1608.7 308.4h0M1611.0 315.4h0M1610.7 261.9h0M1623.8 300.7h0M1620.2 293.3h0M1606.3 235.0h0M1611.0 310.3h0M1610.5 287.0h0M1609.8 299.2h0M1609.2 272.7h0M1607.9 297.4h0M1626.1 309.0h0M1605.5 303.2h0M1618.4 300.5h0M1617.1 282.4h0M1619.3 298.5h0M1607.2 231.5h0M1622.4 303.0h0M1614.0 253.8h0M1619.5 314.6h0M1607.2 236.8h0M1614.9 281.6h0M1620.5 309.0h0M1622.5 298.3h0M1621.3 303.1h0M1615.5 305.6h0M1609.6 311.4h0M1615.7 290.2h0M1611.3 253.6h0M1613.5 255.8h0M1607.6 266.4h0M1624.9 316.0h0M1611.2 263.7h0M1605.9 247.4h0M1626.1 309.4h0M1613.1 295.9h0M1623.5 306.6h0M1607.9 300.9h0M1612.7 283.0h0M1614.0 274.9h0M1617.8 285.1h0M1618.0 311.0h0M1614.9 308.8h0M1621.5 313.6h0M1607.5 245.7h0M1612.1 308.1h0M1605.7 250.0h0M1622.1 315.6h0M1609.5 266.0h0M1621.4 288.7h0M1611.2 249.7h0M1606.1 288.8h0M1610.3 249.9h0M1619.2 285.6h0M1619.3 289.1h0M1608.0 271.0h0M1611.8 295.8h0M1609.6 235.6h0M1612.5 263.4h0M1605.6 243.7h0M1608.8 235.3h0M1605.8 303.3h0M1608.4 313.2h0M1613.9 291.6h0M1608.6 297.5h0M1611.3 259.5h0M1611.2 298.2h0M1612.1 260.8h0M1609.9 246.3h0M1614.4 259.5h0M1620.9 301.8h0M1616.1 290.6h0M1607.6 237.2h0M1610.8 266.2h0M1608.2 232.7h0M1613.8 268.8h0M1607.1 246.6h0M1625.7 313.2h0M1611.0 241.9h0M1607.4 250.5h0M1610.2 286.2h0M1606.0 268.9h0M1610.9 271.5h0M1619.5 285.2h0M1608.8 298.9h0M1610.7 280.4h0M1609.9 294.0h0M1619.0 311.1h0M1614.8 287.7h0M1605.7 311.9h0M1610.8 269.5h0M1617.3 311.9h0M1616.9 315.8h0M1610.7 313.1h0M1612.9 263.2h0M1613.4 286.7h0M1606.0 260.2h0M1609.2 301.1h0M1605.4 281.2h0M1611.4 267.5h0M1618.5 290.6h0M1608.6 248.2h0M1608.2 313.0h0M1608.9 238.9h0M1617.6 278.9h0M1610.9 241.7h0M1614.9 306.5h0M1620.8 304.0h0M1606.6 308.9h0M1607.8 228.2h0M1612.2 252.6h0M1615.2 274.2h0M1608.1 248.5h0M1624.1 307.5h0M1607.2 307.3h0M1610.9 259.5h0M1617.6 287.5h0M1607.1 293.3h0M1621.1 298.5h0M1605.6 269.4h0M1621.2 290.4h0M1610.8 265.3h0M1614.9 313.1h0M1620.9 295.6h0M1608.4 246.6h0M1610.4 250.5h0M1606.2 238.8h0M1614.9 264.4h0M1607.2 279.0h0M1613.7 290.0h0M1614.0 313.2h0M1623.3 301.8h0M1620.4 283.7h0M1621.8 313.5h0M1610.0 295.5h0M1612.4 249.6h0M1625.2 305.3h0M1605.8 274.7h0M1609.5 289.2h0M1605.5 247.3h0M1611.6 290.6h0M1608.1 310.7h0M1613.2 273.6h0M1612.9 264.1h0M1606.7 234.1h0M1609.2 234.8h0M1620.0 289.3h0M1611.5 297.8h0M1606.6 240.4h0M1607.6 279.3h0M1609.9 290.3h0M1608.6 243.9h0M1611.4 264.7h0M1617.8 291.8h0M1606.1 291.8h0M1610.6 252.8h0M1620.3 288.8h0M1619.7 307.7h0M1610.2 254.6h0M1609.1 247.0h0M1623.4 301.0h0M1622.1 312.8h0M1612.8 291.5h0M1606.7 281.4h0M1607.5 231.0h0M1608.2 272.2h0M1607.0 261.4h0M1612.8 269.5h0M1622.0 295.9h0M1614.1 266.8h0M1616.0 283.9h0M1608.4 268.5h0M1607.0 294.1h0M1607.4 262.0h0M1607.6 313.3h0M1606.6 252.5h0M1607.9 232.9h0M1609.2 274.4h0M1609.5 295.4h0M1608.3 248.4h0M1611.5 293.2h0M1616.4 312.6h0M1616.3 291.0h0M1609.9 312.8h0M1607.9 299.8h0M1611.4 268.8h0M1609.4 293.6h0M1615.2 300.5h0M1605.7 295.3h0M1619.5 307.5h0M1611.6 259.5h0M1614.1 258.3h0M1610.7 308.4h0M1615.0 283.8h0M1611.1 309.3h0M1624.2 315.7h0M1622.4 294.5h0M1606.5 304.9h0M1613.3 297.0h0M1623.6 304.8h0M1610.4 257.2h0M1607.1 232.7h0M1624.1 312.4h0M1612.6 283.5h0M1612.7 305.2h0M1619.1 301.2h0M1617.5 270.1h0M1615.1 305.8h0M1613.9 259.3h0M1608.3 308.9h0M1606.2 279.8h0M1615.5 291.1h0M1617.6 300.4h0M1610.6 293.6h0M1626.0 315.9h0M1615.5 260.8h0M1622.0 310.2h0M1610.1 253.7h0M1613.1 292.5h0M1609.8 275.8h0M1617.1 286.7h0M1608.8 312.7h0M1623.1 304.7h0M1613.8 309.7h0M1617.1 307.4h0M1626.4 312.5h0M1617.3 310.5h0M1620.1 298.9h0M1615.3 280.8h0M1611.5 251.4h0M1615.2 272.8h0M1605.5 257.2h0M1622.1 293.9h0M1610.9 249.6h0M1619.5 307.9h0M1610.1 279.3h0M1622.2 294.0h0M1611.8 302.0h0M1607.4 232.9h0M1608.7 268.0h0M1620.3 316.3h0M1613.2 295.6h0M1611.1 244.5h0M1609.2 263.5h0M1609.2 246.3h0M1607.4 244.0h0M1612.8 272.0h0M1609.7 269.7h0M1615.7 314.1h0M1616.7 311.6h0M1621.8 313.6h0M1614.8 258.4h0M1609.0 304.4h0M1613.7 283.3h0M1618.3 286.2h0M1622.5 312.0h0M1608.8 259.5h0M1619.2 287.5h0M1613.3 311.6h0M1609.7 237.0h0M1606.0 255.7h0M1616.6 271.2h0M1613.9 307.1h0M1613.6 274.5h0M1614.4 281.4h0M1614.0 261.5h0M1613.9 308.7h0M1613.2 300.5h0M1609.1 288.7h0M1605.9 244.0h0M1606.8 299.1h0M1608.8 247.1h0M1606.8 250.3h0M1626.6 311.8h0M1618.3 309.5h0M1607.5 309.8h0M1622.8 303.8h0M1619.3 314.5h0M1608.0 241.2h0M1609.6 281.4h0M1621.1 313.8h0M1613.8 314.7h0M1615.5 261.8h0M1611.3 247.5h0M1628.1 316.1h0M1609.6 240.3h0M1613.6 292.9h0M1606.8 274.3h0M1615.7 297.7h0M1613.3 262.2h0M1608.7 242.3h0M1614.3 288.7h0M1605.5 298.8h0M1605.5 298.4h0M1615.1 286.8h0M1618.7 292.1h0M1614.9 313.0h0M1623.8 300.5h0M1612.8 294.7h0M1611.5 281.6h0M1609.1 303.8h0M1608.9 295.1h0M1618.8 308.2h0M1607.7 271.0h0M1614.0 309.4h0M1627.4 316.4h0M1615.4 278.0h0M1616.0 304.3h0M1614.8 312.1h0M1611.2 299.9h0M1606.2 269.6h0M1607.4 303.2h0M1616.2 268.8h0M1622.2 292.2h0M1613.4 310.5h0M1609.7 238.9h0M1609.7 271.6h0M1607.7 308.8h0M1616.2 300.6h0M1609.2 288.1h0M1609.3 238.9h0M1616.4 271.0h0M1611.7 259.7h0M1618.3 295.1h0M1627.8 314.9h0M1608.7 279.0h0M1606.1 245.0h0M1608.3 252.2h0M1613.9 312.0h0M1613.8 281.0h0M1612.4 313.8h0M1611.1 314.1h0M1621.4 310.0h0M1606.6 265.0h0M1615.1 307.8h0M1619.2 300.8h0M1605.7 244.8h0M1609.6 301.5h0M1607.8 310.4h0M1611.6 305.8h0M1624.8 314.9h0M1608.0 293.7h0M1613.9 286.1h0M1627.6 316.0h0M1613.8 307.6h0M1609.1 240.0h0M1619.1 298.6h0M1609.1 271.8h0M1618.8 277.0h0M1615.0 275.5h0M1607.6 269.5h0M1614.4 256.8h0M1621.0 301.7h0M1616.0 271.9h0M1607.3 256.4h0M1607.5 285.0h0M1617.3 310.9h0M1612.5 255.8h0M1606.5 237.6h0M1609.1 282.8h0M1606.8 272.2h0M1610.6 262.4h0M1621.4 316.0h0M1613.2 250.5h0M1614.8 288.5h0M1607.1 275.4h0M1607.7 271.8h0M1621.4 289.3h0M1618.9 314.4h0M1606.5 290.9h0M1619.0 291.6h0M1613.5 289.2h0M1614.0 290.7h0M1611.9 314.6h0M1607.5 291.9h0M1609.0 305.0h0M1614.3 287.0h0M1613.7 305.3h0M1610.0 273.3h0M1614.1 272.5h0M1611.9 271.8h0M1611.2 309.9h0M1612.2 262.8h0M1621.9 300.2h0M1616.7 292.4h0M1610.4 267.3h0M1613.8 254.2h0M1613.8 294.5h0M1610.9 297.2h0M1620.7 287.4h0M1620.2 289.0h0M1621.0 313.5h0M1611.7 270.4h0M1622.0 307.1h0M1615.7 264.5h0M1612.7 314.2h0M1609.7 240.8h0M1612.0 309.5h0M1625.3 306.7h0M1608.2 307.8h0M1615.7 262.4h0M1605.9 261.7h0M1614.1 295.1h0M1613.2 287.7h0M1605.9 287.3h0M1610.1 303.5h0M1619.1 278.3h0M1613.0 284.6h0M1608.3 245.7h0M1612.7 264.1h0M1613.9 307.8h0M1608.1 315.3h0M1611.0 303.7h0M1611.1 279.4h0M1611.7 296.4h0M1616.6 315.4h0M1606.7 260.8h0M1610.7 282.8h0M1623.5 302.4h0M1611.5 294.3h0M1615.7 315.9h0M1607.5 268.1h0M1607.6 234.8h0M1614.0 265.5h0M1617.3 271.0h0M1614.1 304.1h0M1610.3 305.5h0M1613.8 256.8h0M1608.1 285.7h0M1613.1 302.6h0M1613.3 264.1h0M1620.9 286.4h0M1615.8 263.1h0M1610.8 297.7h0M1616.1 301.4h0M1614.2 292.6h0M1606.1 246.4h0M1609.4 284.6h0M1616.7 282.1h0M1608.6 254.4h0M1619.8 296.8h0M1615.7 301.3h0M1618.6 294.3h0M1613.9 266.9h0M1627.2 314.0h0M1605.8 306.7h0M1615.7 301.3h0M1606.0 256.9h0M1607.0 233.1h0M1609.1 252.9h0M1611.9 309.4h0M1607.5 309.8h0M1618.3 281.7h0M1610.0 312.6h0M1612.0 293.6h0M1610.6 246.1h0M1617.3 271.7h0M1606.0 294.4h0M1622.8 305.4h0M1613.5 292.5h0M1644.0 248.4h0M1650.1 255.9h0M1640.5 292.1h0M1636.9 295.0h0M1643.5 257.1h0M1634.6 297.1h0M1641.6 270.8h0M1646.8 235.3h0M1648.8 292.0h0M1644.5 295.3h0M1638.9 279.1h0M1650.9 223.5h0M1633.9 301.2h0M1640.5 297.8h0M1646.6 267.2h0M1646.9 236.9h0M1642.1 276.2h0M1641.5 285.9h0M1637.4 292.3h0M1645.0 291.3h0M1651.9 225.8h0M1638.3 308.6h0M1638.9 290.0h0M1648.1 256.4h0M1649.5 248.6h0M1644.1 266.0h0M1648.9 210.9h0M1637.3 302.9h0M1643.3 274.3h0M1648.4 255.7h0M1645.3 285.4h0M1644.0 277.3h0M1647.1 236.9h0M1641.4 294.5h0M1651.3 245.8h0M1651.3 238.7h0M1643.8 297.3h0M1637.9 288.5h0M1649.1 225.1h0M1639.0 289.3h0M1650.6 304.8h0M1639.1 306.9h0M1650.2 214.3h0M1647.8 249.6h0M1650.7 248.6h0M1642.6 300.9h0M1644.9 269.2h0M1640.5 284.4h0M1649.5 233.2h0M1651.6 304.2h0M1651.8 310.0h0M1634.7 295.2h0M1652.0 276.1h0M1647.6 265.8h0M1639.5 283.7h0M1643.8 280.7h0M1651.1 246.7h0M1644.9 286.8h0M1643.9 248.0h0M1642.0 260.9h0M1633.1 310.8h0M1651.2 291.0h0M1651.8 255.2h0M1648.3 229.4h0M1646.0 283.8h0M1650.6 297.4h0M1649.2 232.5h0M1647.1 256.3h0M1647.3 298.5h0M1648.4 278.6h0M1633.9 299.1h0M1636.4 299.2h0M1651.1 228.0h0M1642.3 259.6h0M1651.3 244.5h0M1651.8 303.6h0M1647.6 281.6h0M1641.5 295.1h0M1642.1 291.2h0M1643.4 270.6h0M1650.2 295.0h0M1650.3 244.4h0M1645.2 308.7h0M1643.8 277.8h0M1650.6 291.1h0M1646.4 238.2h0M1647.6 230.3h0M1644.6 304.2h0M1650.8 316.2h0M1639.1 292.8h0M1651.4 221.8h0M1638.3 311.3h0M1638.4 299.3h0M1646.9 269.1h0M1643.8 259.8h0M1651.9 225.0h0M1638.6 297.8h0M1645.0 312.7h0M1648.2 269.0h0M1647.4 270.4h0M1649.0 315.0h0M1649.2 278.1h0M1635.2 307.4h0M1648.0 304.5h0M1646.5 272.5h0M1650.3 266.8h0M1650.0 266.7h0M1645.7 313.0h0M1643.2 256.6h0M1643.5 263.0h0M1645.1 310.5h0M1649.1 208.6h0M1643.8 293.6h0M1641.0 271.3h0M1651.0 291.2h0M1650.9 230.2h0M1636.8 294.0h0M1646.8 309.2h0M1640.2 309.3h0M1650.3 209.2h0M1645.0 268.4h0M1647.8 296.0h0M1633.8 309.6h0M1647.6 228.1h0M1646.6 290.5h0M1643.5 297.3h0M1651.7 239.4h0M1648.1 307.5h0M1644.7 299.2h0M1649.4 229.6h0M1645.0 279.0h0M1646.6 236.9h0M1646.7 255.3h0M1649.2 220.4h0M1644.2 302.0h0M1645.4 291.8h0M1641.1 282.1h0M1648.8 275.1h0M1650.2 309.6h0M1648.8 231.2h0M1640.4 290.0h0M1651.8 257.0h0M1637.6 298.1h0M1649.5 244.9h0M1646.0 307.7h0M1650.0 305.8h0M1650.3 256.6h0M1651.2 217.7h0M1650.2 275.3h0M1649.0 249.2h0M1648.5 295.8h0M1637.4 296.9h0M1651.5 227.2h0M1642.1 304.0h0M1650.7 274.5h0M1651.6 249.3h0M1632.7 309.6h0M1642.5 264.1h0M1639.1 314.2h0M1636.8 291.6h0M1649.4 228.9h0M1646.9 252.5h0M1641.2 262.9h0M1644.3 280.9h0M1637.6 307.3h0M1647.8 236.4h0M1647.7 253.8h0M1645.4 241.7h0M1647.5 270.2h0M1651.4 278.9h0M1641.1 275.1h0M1634.1 298.6h0M1649.0 291.6h0M1636.9 289.1h0M1642.1 295.4h0M1651.7 245.2h0M1646.7 237.9h0M1641.5 288.5h0M1646.5 274.8h0M1639.0 285.9h0M1641.2 270.4h0M1645.7 268.1h0M1635.0 303.3h0M1650.6 234.3h0M1646.2 281.6h0M1650.8 311.6h0M1638.7 304.9h0M1649.7 233.0h0M1646.8 284.9h0M1636.7 307.1h0M1647.2 266.3h0M1650.3 303.6h0M1648.2 242.0h0M1640.3 278.1h0M1638.6 314.6h0M1643.2 300.6h0M1646.5 255.8h0M1650.4 240.6h0M1638.0 311.7h0M1636.7 312.7h0M1649.5 224.8h0M1641.4 309.8h0M1646.8 287.8h0M1651.0 213.5h0M1647.0 284.8h0M1638.3 287.9h0M1637.7 294.0h0M1639.7 295.0h0M1644.5 250.6h0M1651.4 310.4h0M1651.0 211.2h0M1645.1 285.3h0M1650.2 252.1h0M1642.6 295.3h0M1650.2 232.8h0M1651.9 286.7h0M1649.6 278.1h0M1638.3 310.4h0M1630.0 316.3h0M1631.1 311.2h0M1648.3 285.8h0M1649.1 250.0h0M1639.4 276.1h0M1642.0 303.9h0M1651.8 226.5h0M1650.2 257.4h0M1649.2 281.8h0M1645.7 288.8h0M1642.6 290.8h0M1647.9 294.1h0M1651.5 215.4h0M1645.6 287.3h0M1643.8 291.3h0M1640.7 266.3h0M1650.2 276.2h0M1644.0 269.4h0M1640.2 288.7h0M1651.4 212.1h0M1649.1 309.6h0M1649.5 297.8h0M1645.0 293.2h0M1648.8 300.3h0M1651.7 283.9h0M1644.2 256.1h0M1649.5 308.8h0M1634.5 308.4h0M1639.0 295.1h0M1636.4 310.2h0M1650.9 239.4h0M1649.7 260.9h0M1635.1 291.6h0M1638.9 306.0h0M1646.4 248.1h0M1646.8 305.4h0M1638.6 307.5h0M1634.6 314.0h0M1641.0 280.1h0M1637.1 282.0h0M1645.3 251.5h0M1647.1 292.3h0M1645.0 303.4h0M1647.9 269.0h0M1651.6 288.2h0M1651.6 231.2h0M1649.4 235.9h0M1647.5 314.1h0M1643.7 280.0h0M1630.7 314.8h0M1638.9 308.6h0M1643.4 277.2h0M1649.1 214.5h0M1641.6 285.2h0M1649.5 255.5h0M1635.6 299.5h0M1644.7 292.9h0M1636.4 308.9h0M1648.9 307.5h0M1646.5 263.3h0M1647.1 267.5h0M1645.2 293.1h0M1647.3 302.9h0M1646.5 281.3h0M1639.4 295.0h0M1640.7 287.4h0M1649.3 242.3h0M1644.9 248.1h0M1648.8 289.0h0M1635.1 303.4h0M1647.4 236.8h0M1651.2 206.3h0M1647.6 262.5h0M1641.6 263.7h0M1644.4 275.3h0M1647.5 281.3h0M1650.4 207.7h0M1641.1 290.2h0M1649.7 287.6h0M1635.2 312.0h0M1647.0 279.9h0M1640.1 293.4h0M1637.2 303.0h0M1644.7 253.5h0M1641.8 294.2h0M1641.0 312.0h0M1645.4 258.0h0M1648.5 218.9h0M1636.6 283.7h0M1647.9 244.6h0M1651.9 276.2h0M1649.9 298.0h0M1636.8 313.7h0M1651.0 285.2h0M1651.7 297.6h0M1651.1 227.2h0M1644.4 266.2h0M1645.8 280.9h0M1645.4 255.9h0M1648.8 302.7h0M1648.6 295.5h0M1651.7 214.5h0M1636.6 306.1h0M1632.8 312.6h0M1642.5 296.5h0M1645.8 314.7h0M1650.5 213.7h0M1637.4 316.4h0M1641.2 311.6h0M1650.8 232.1h0M1642.2 309.0h0M1650.8 302.4h0M1634.7 296.0h0M1650.7 231.0h0M1650.2 210.0h0M1652.0 293.6h0M1639.4 293.0h0M1651.3 308.1h0M1640.8 314.4h0M1645.7 278.7h0M1648.4 248.7h0M1641.7 299.2h0M1633.4 300.4h0M1650.2 252.2h0M1634.7 294.5h0M1648.8 303.0h0M1646.3 270.5h0M1642.4 314.3h0M1651.7 239.0h0M1639.3 307.2h0M1646.4 256.0h0M1639.7 280.5h0M1641.5 304.7h0M1651.9 265.7h0M1643.4 286.5h0M1652.0 246.7h0M1650.6 251.9h0M1643.9 301.2h0M1651.6 209.3h0M1646.1 274.2h0M1650.4 278.6h0M1648.7 249.3h0M1651.1 242.8h0M1643.2 264.0h0M1636.2 303.0h0M1646.9 246.6h0M1638.9 315.5h0M1650.1 307.1h0M1645.9 282.1h0M1648.1 279.0h0M1634.9 307.5h0M1630.3 314.0h0M1649.8 295.3h0M1647.6 292.4h0M1648.3 297.0h0M1648.7 215.6h0M1651.6 249.4h0M1646.7 293.8h0M1642.3 315.1h0M1646.8 308.2h0M1651.2 211.2h0M1652.0 258.7h0M1645.1 261.5h0M1646.6 240.4h0M1638.3 287.2h0M1645.1 303.7h0M1635.9 299.1h0M1645.9 267.6h0M1645.8 272.5h0M1648.0 272.9h0M1643.4 308.8h0M1639.9 306.2h0M1642.2 275.0h0M1642.4 291.9h0M1651.6 292.7h0M1645.9 258.4h0M1649.7 254.3h0M1649.5 215.8h0M1640.4 266.2h0M1643.1 279.1h0M1643.4 273.0h0M1648.9 305.7h0M1633.4 300.5h0M1647.8 297.3h0M1637.6 309.2h0M1643.6 274.9h0M1640.9 299.7h0M1649.4 277.1h0M1642.5 262.6h0M1641.9 270.8h0M1650.8 247.2h0M1648.3 315.1h0M1646.6 263.6h0M1645.4 275.0h0M1651.1 313.2h0M1645.2 285.0h0M1651.8 316.4h0M1647.4 232.1h0M1644.3 258.7h0M1650.6 253.1h0M1641.8 313.1h0M1636.2 287.0h0M1640.2 293.1h0M1651.2 252.2h0M1642.1 312.4h0M1643.7 270.0h0M1648.0 240.2h0M1641.2 268.6h0M1635.3 307.2h0M1649.5 227.3h0M1651.6 215.0h0M1647.0 283.6h0M1649.5 242.8h0M1647.7 255.9h0M1649.5 256.6h0M1632.5 302.2h0M1642.1 300.9h0M1634.9 307.6h0M1645.6 260.2h0M1642.9 300.6h0M1650.9 270.0h0M1645.4 263.5h0M1635.9 297.5h0M1650.6 307.7h0M1651.7 209.7h0M1649.8 217.7h0M1640.5 312.8h0M1649.4 253.5h0M1640.8 292.0h0M1646.2 250.4h0M1650.3 227.4h0M1649.2 227.9h0M1651.4 242.5h0M1640.7 263.7h0M1648.1 281.1h0M1643.5 312.9h0M1651.3 301.0h0M1646.5 256.0h0M1651.9 270.5h0M1643.3 300.2h0M1651.4 231.9h0M1634.9 301.3h0M1649.6 266.3h0M1642.9 272.2h0M1646.7 261.1h0M1647.3 264.5h0M1637.0 312.4h0M1641.9 300.0h0M1642.2 315.1h0M1639.7 283.6h0M1647.8 255.4h0M1646.5 259.1h0M1648.2 305.3h0M1650.6 230.2h0M1639.0 280.2h0M1647.1 279.9h0M1642.1 307.9h0M1641.6 307.2h0M1650.5 257.8h0M1650.3 289.3h0M1645.0 270.3h0M1643.9 259.2h0M1648.2 270.9h0M1649.8 264.3h0M1650.3 301.1h0M1643.8 294.4h0M1647.6 241.0h0M1650.9 272.7h0M1649.1 213.9h0M1644.0 276.0h0M1649.8 289.9h0M1641.4 309.2h0M1651.6 263.7h0M1649.7 258.3h0M1645.3 254.6h0M1635.0 313.3h0M1640.0 301.6h0M1645.1 273.0h0M1640.0 278.1h0M1635.9 299.5h0M1642.0 260.4h0M1645.3 258.3h0M1629.6 316.1h0M1649.9 276.8h0M1635.3 294.1h0M1643.9 271.2h0M1648.2 264.1h0M1646.4 298.2h0M1649.1 280.5h0M1649.2 209.8h0M1637.1 280.6h0M1650.6 305.3h0M1651.3 233.5h0M1640.4 311.6h0M1646.5 243.5h0M1635.2 308.7h0M1650.9 275.9h0M1642.9 262.3h0M1648.9 304.5h0M1646.9 276.1h0M1651.4 224.2h0M1641.8 286.6h0M1651.3 296.6h0M1647.1 310.5h0M1645.4 264.6h0M1647.9 294.3h0M1643.4 278.6h0M1636.3 300.4h0M1646.9 235.1h0M1630.5 310.8h0M1648.6 262.9h0M1643.4 252.3h0M1639.4 311.6h0M1647.3 251.4h0M1638.5 288.5h0M1635.3 311.2h0M1650.3 236.2h0M1644.3 249.0h0M1645.5 276.7h0M1649.9 228.6h0M1647.6 279.3h0M1644.0 252.4h0M1650.8 244.6h0M1646.8 301.0h0M1644.7 260.2h0M1651.0 312.3h0M1649.1 310.2h0M1631.7 313.8h0M1649.1 272.5h0M1643.2 251.9h0M1642.1 302.3h0M1635.2 297.1h0M1640.9 295.7h0M1635.8 293.9h0M1645.2 258.8h0M1650.6 246.7h0M1649.3 268.3h0M1633.1 309.0h0M1648.3 245.2h0M1642.8 265.2h0M1643.9 272.1h0M1651.8 277.5h0M1651.0 257.9h0M1648.2 256.4h0M1643.1 283.5h0M1650.9 235.7h0M1644.6 247.4h0M1649.5 296.5h0M1646.5 270.6h0M1634.8 306.0h0M1651.3 310.8h0M1636.6 296.1h0M1644.5 298.2h0M1647.4 253.9h0M1637.9 293.1h0M1644.0 263.7h0M1646.3 279.6h0M1641.6 310.7h0M1640.5 263.7h0M1644.8 308.4h0M1646.5 264.1h0M1649.2 301.2h0M1647.5 256.9h0M1648.7 223.2h0M1645.6 253.3h0M1635.8 301.3h0M1645.2 243.3h0M1644.1 258.4h0M1651.1 225.5h0M1649.8 252.8h0M1646.1 272.5h0M1649.9 271.5h0M1645.1 294.8h0M1649.0 266.0h0M1646.1 289.6h0M1641.1 278.3h0M1648.5 314.9h0M1637.3 311.1h0M1636.8 286.5h0M1640.2 312.6h0M1648.4 221.4h0M1650.1 304.5h0M1641.9 262.3h0M1646.6 267.6h0M1648.5 260.1h0M1644.9 248.4h0M1645.5 268.8h0M1643.4 264.4h0M1649.6 243.5h0M1649.2 286.2h0M1649.9 273.2h0M1649.3 236.7h0M1645.3 300.5h0M1649.3 209.9h0M1648.2 230.3h0M1647.4 280.6h0M1639.6 305.3h0M1647.4 315.9h0M1651.1 267.6h0M1645.8 278.7h0M1634.8 298.7h0M1648.4 281.8h0M1644.8 260.3h0M1642.1 278.3h0M1651.3 225.4h0M1634.7 296.4h0M1647.3 301.4h0M1634.7 308.7h0M1650.9 264.3h0M1634.5 311.7h0M1648.1 292.1h0M1642.3 281.1h0M1636.3 286.7h0M1649.4 216.6h0M1646.2 293.0h0M1651.8 272.6h0M1637.7 313.8h0M1634.8 311.4h0M1649.3 280.9h0M1633.0 315.4h0M1645.6 259.9h0M1642.7 292.0h0M1646.8 279.0h0M1641.3 269.3h0M1649.5 234.2h0M1650.1 216.2h0M1637.1 305.6h0M1648.8 314.1h0M1651.8 236.6h0M1649.2 206.7h0M1647.5 298.6h0M1633.9 306.8h0M1649.0 274.2h0M1644.8 273.1h0M1646.9 260.9h0M1642.5 258.3h0M1646.3 263.0h0M1640.9 301.7h0M1640.6 268.7h0M1640.6 280.8h0M1649.2 261.0h0M1647.0 279.8h0M1652.0 286.0h0M1637.4 282.1h0M1650.3 220.1h0M1643.4 311.8h0M1637.5 302.5h0M1647.4 238.5h0M1639.5 285.4h0M1649.6 307.0h0M1646.3 302.6h0M1651.2 276.8h0M1651.6 218.4h0M1651.3 287.5h0M1647.6 287.8h0M1632.8 307.4h0M1647.1 234.6h0M1651.3 220.1h0M1647.1 264.2h0M1647.3 240.4h0M1645.6 260.0h0M1648.5 282.5h0M1645.5 280.3h0M1643.6 281.5h0M1649.6 243.3h0M1640.8 276.5h0M1650.3 276.3h0M1640.7 290.0h0M1646.1 303.4h0M1639.4 298.8h0M1646.1 291.4h0M1651.1 271.7h0M1638.1 303.9h0M1644.2 288.5h0M1642.0 288.2h0M1631.8 316.1h0M1642.2 270.4h0M1645.2 285.1h0M1640.1 289.9h0M1643.6 306.2h0M1638.5 278.5h0M1648.9 210.6h0M1640.6 293.1h0M1650.6 241.1h0M1645.2 309.3h0M1641.7 311.2h0M1638.7 277.2h0M1641.6 312.0h0M1651.5 282.9h0M1651.7 247.6h0M1640.5 288.3h0M1647.6 286.3h0M1637.6 283.5h0M1649.1 212.3h0M1650.9 310.7h0M1643.0 298.2h0M1650.6 253.2h0M1646.9 276.2h0M1642.8 280.7h0M1651.3 230.8h0M1647.8 312.1h0M1644.4 252.3h0M1649.7 243.4h0M1649.1 266.4h0M1649.6 304.7h0M1645.3 253.3h0M1636.0 296.9h0M1641.4 314.5h0M1651.9 242.8h0M1651.0 311.5h0M1641.0 266.5h0M1640.0 289.2h0M1650.2 273.3h0M1644.9 264.8h0M1651.6 245.4h0M1643.6 308.0h0M1642.3 257.7h0M1636.5 315.9h0M1636.6 298.8h0M1647.6 293.0h0M1651.0 308.6h0M1651.9 217.7h0M1634.9 292.6h0M1636.6 308.4h0M1635.9 299.1h0M1649.4 313.6h0M1645.8 267.8h0M1646.3 256.0h0M1651.1 314.0h0M1642.6 261.3h0M1646.8 262.6h0M1650.8 207.5h0M1646.1 251.3h0M1648.3 278.6h0M1651.1 268.3h0M1642.6 313.6h0M1647.4 240.6h0M1650.5 277.7h0M1650.8 271.5h0M1646.1 270.2h0M1646.0 253.6h0M1649.1 272.7h0M1646.1 295.5h0M1646.9 303.3h0M1644.7 290.9h0M1636.4 316.0h0M1646.4 298.6h0M1632.0 306.4h0M1645.4 281.6h0M1638.0 300.2h0M1649.4 209.7h0M1644.0 260.1h0M1641.3 298.3h0M1643.7 309.8h0M1644.6 306.8h0M1636.2 307.5h0M1647.2 312.7h0M1646.3 246.6h0M1640.9 291.6h0M1642.0 284.2h0M1645.9 245.6h0M1644.6 305.5h0M1640.0 298.0h0M1637.9 276.7h0M1632.3 314.1h0M1640.4 285.6h0M1630.8 314.3h0M1642.4 254.5h0M1644.7 261.2h0M1646.2 273.3h0M1640.0 288.9h0M1650.6 242.1h0M1648.5 228.2h0M1647.9 253.0h0M1644.8 273.8h0M1650.4 234.2h0M1637.4 310.5h0M1651.6 216.6h0M1644.4 303.4h0M1637.2 285.3h0M1651.2 314.0h0M1638.5 275.6h0M1649.3 303.4h0M1649.7 281.8h0M1645.9 293.0h0M1645.8 316.4h0M1636.4 295.0h0M1651.3 243.7h0M1633.9 316.2h0M1651.6 255.6h0M1648.6 247.7h0M1638.6 293.9h0M1651.3 288.5h0M1645.1 296.7h0M1650.1 311.2h0M1651.9 237.1h0M1650.4 203.6h0M1637.1 291.7h0M1644.4 279.0h0M1648.1 289.1h0M1639.8 266.3h0M1647.4 258.5h0M1645.9 286.2h0M1636.5 290.9h0M1637.5 279.1h0M1637.5 305.0h0M1650.6 291.0h0M1650.3 209.1h0M1649.5 267.5h0M1652.0 284.8h0M1645.5 288.2h0M1648.6 302.5h0M1639.4 314.3h0M1643.3 313.8h0M1649.9 222.1h0M1646.7 245.5h0M1642.6 266.4h0M1646.9 258.4h0M1643.7 316.2h0M1649.6 262.0h0M1643.8 297.1h0M1649.5 246.1h0M1651.7 246.6h0M1645.6 297.3h0M1638.3 299.1h0M1630.1 315.3h0M1647.1 266.0h0M1646.5 302.1h0M1648.6 275.5h0M1639.1 275.3h0M1646.0 243.2h0M1646.0 287.8h0M1648.4 265.1h0M1642.2 280.5h0M1641.5 305.9h0M1649.9 304.6h0M1642.1 297.1h0M1650.6 221.5h0M1649.2 306.2h0M1646.3 274.9h0M1642.3 260.4h0M1644.0 258.8h0M1638.0 297.8h0M1644.5 312.4h0M1637.0 292.4h0M1643.8 279.6h0M1649.5 302.1h0M1647.2 247.0h0M1639.4 310.9h0M1633.3 298.8h0M1640.7 293.7h0M1645.5 287.2h0M1650.5 284.5h0M1639.7 292.6h0M1638.3 314.5h0M1649.0 238.7h0M1641.2 269.1h0M1639.2 295.7h0M1645.1 295.7h0M1641.4 268.8h0M1648.6 265.7h0M1646.0 286.7h0M1643.2 306.7h0M1649.1 238.9h0M1630.4 312.6h0M1646.3 257.2h0M1649.5 218.7h0M1645.5 305.9h0M1649.6 299.2h0M1648.5 245.4h0M1650.4 237.3h0M1636.9 313.6h0M1644.8 251.6h0M1635.5 310.7h0M1638.5 313.4h0M1649.7 210.4h0M1647.1 270.1h0M1635.3 297.5h0M1638.7 314.7h0M1641.7 310.1h0M1650.4 245.0h0M1644.8 285.3h0M1644.7 289.2h0M1638.4 316.0h0M1645.8 250.9h0M1642.9 300.7h0M1649.5 239.0h0M1644.7 276.1h0M1647.4 295.0h0M1643.3 296.1h0M1631.6 310.4h0M1635.8 309.3h0M1640.5 309.7h0M1635.8 304.2h0M1645.6 267.1h0M1650.8 303.2h0M1646.2 264.4h0M1637.7 296.2h0M1648.3 287.6h0M1651.7 308.1h0M1649.7 207.0h0M1649.9 316.4h0M1644.0 314.5h0M1647.4 256.1h0M1647.9 309.5h0M1637.4 282.6h0M1650.5 214.1h0M1643.4 275.6h0M1641.5 272.5h0M1648.2 272.7h0M1649.2 207.9h0M1646.3 259.8h0M1648.5 316.4h0M1651.9 248.5h0M1641.7 270.2h0M1637.3 286.5h0M1646.9 281.5h0M1650.1 221.8h0M1644.8 254.7h0M1641.0 298.2h0M1636.1 288.5h0M1645.4 249.5h0M1645.0 266.5h0M1646.1 310.7h0M1647.5 232.3h0M1649.8 237.8h0M1651.0 268.6h0M1651.4 303.3h0M1646.9 244.3h0M1639.4 269.2h0M1647.5 249.6h0M1649.7 226.7h0M1647.3 264.4h0M1637.5 279.0h0M1649.0 297.0h0M1651.2 312.6h0M1638.0 315.2h0M1649.5 278.7h0M1645.4 252.6h0M1645.3 302.4h0M1650.6 224.0h0M1647.7 248.2h0M1635.4 302.9h0M1646.1 259.7h0M1649.1 209.3h0M1649.8 212.7h0M1641.6 264.3h0M1649.3 238.4h0M1649.2 270.5h0M1646.3 246.5h0M1642.0 306.6h0M1644.8 305.9h0M1639.6 292.2h0M1645.3 306.6h0M1647.6 231.2h0M1645.4 257.9h0M1639.4 303.0h0M1647.5 263.1h0M1651.4 214.0h0M1649.8 213.4h0M1642.1 273.4h0M1639.1 303.6h0M1646.8 256.8h0M1647.7 251.6h0M1638.4 300.0h0M1650.3 281.3h0M1652.0 240.2h0M1648.9 243.9h0M1650.0 243.8h0M1650.9 266.8h0M1650.4 281.4h0M1647.9 266.8h0M1648.1 275.3h0M1646.5 262.3h0M1636.2 315.6h0M1646.7 279.7h0M1648.3 281.7h0M1637.7 311.4h0M1649.8 278.8h0M1648.1 270.0h0M1639.6 294.0h0M1649.6 248.9h0M1648.2 255.5h0M1649.6 207.2h0M1643.8 275.2h0M1651.7 212.5h0M1647.7 293.2h0M1648.5 274.4h0M1647.9 263.0h0M1644.4 297.5h0M1638.2 289.7h0M1644.6 263.1h0M1642.7 262.0h0M1651.4 287.6h0M1649.0 223.0h0M1645.5 245.2h0M1645.0 281.9h0M1638.2 310.5h0M1649.6 239.9h0M1649.4 218.4h0M1645.9 280.5h0M1645.4 264.6h0M1650.4 295.7h0M1644.0 296.7h0M1644.2 274.4h0M1650.1 245.0h0M1632.0 311.0h0M1646.5 304.6h0M1651.7 251.9h0M1651.3 226.1h0M1635.3 297.0h0M1647.9 309.8h0M1650.3 220.0h0M1646.0 264.6h0M1651.1 315.1h0M1637.9 288.0h0M1641.3 304.6h0M1647.6 249.8h0M1639.1 302.5h0M1651.6 237.0h0M1641.3 276.2h0M1638.5 297.2h0M1641.7 285.2h0M1642.1 281.8h0M1640.6 312.8h0M1648.7 248.6h0M1646.6 254.8h0M1645.5 315.5h0M1646.2 260.7h0M1646.0 258.5h0M1650.5 315.1h0M1642.0 265.9h0M1650.4 229.6h0M1642.6 290.8h0M1646.5 285.2h0M1651.4 264.7h0M1650.2 278.5h0M1644.9 289.0h0M1651.2 306.2h0M1638.8 308.2h0M1651.9 241.3h0M1638.2 283.3h0M1648.9 243.8h0M1635.6 309.0h0M1649.1 296.4h0M1647.8 306.8h0M1646.5 251.9h0M1649.1 219.5h0M1641.8 291.0h0M1645.1 297.2h0M1649.0 234.5h0M1649.7 297.4h0M1650.2 217.9h0M1638.6 297.5h0M1649.0 250.0h0M1645.2 266.0h0M1645.6 307.0h0M1642.8 264.0h0M1641.4 269.9h0M1643.3 303.4h0M1642.9 290.3h0M1650.4 269.7h0M1648.0 264.9h0M1639.9 283.7h0M1647.2 304.4h0M1640.8 310.2h0M1633.2 299.5h0M1640.9 290.4h0M1633.9 311.5h0M1642.6 279.4h0M1642.7 307.8h0M1649.3 234.5h0M1644.8 266.9h0M1635.3 306.5h0M1644.9 243.7h0M1648.9 211.8h0M1648.1 237.2h0M1651.0 212.2h0M1649.8 208.3h0M1642.7 313.3h0M1645.5 306.7h0M1636.9 311.4h0M1649.8 233.3h0M1646.7 307.1h0M1646.7 267.6h0M1650.1 251.5h0M1635.1 302.2h0M1634.8 304.7h0M1647.4 267.2h0M1651.1 312.2h0M1635.2 309.3h0M1649.9 295.9h0M1633.7 302.4h0M1643.1 263.8h0M1633.8 298.0h0M1651.4 295.2h0M1650.4 313.3h0M1638.4 292.1h0M1651.8 240.3h0M1649.1 212.8h0M1640.8 270.6h0M1648.3 239.3h0M1642.9 311.1h0M1651.4 266.6h0M1645.7 279.9h0M1644.4 245.9h0M1645.4 242.1h0M1651.4 262.2h0M1641.5 295.2h0M1639.2 273.4h0M1638.7 293.0h0M1646.1 244.3h0M1651.7 215.5h0M1634.6 308.6h0M1638.8 279.9h0M1646.9 313.6h0M1649.6 213.2h0M1635.0 303.9h0M1642.9 286.2h0M1644.5 251.6h0M1639.4 308.4h0M1641.0 269.0h0M1644.2 257.1h0M1640.2 277.9h0M1642.7 316.4h0M1651.4 295.3h0M1644.1 283.3h0M1644.4 249.0h0M1642.4 271.2h0M1640.5 307.9h0M1645.2 252.9h0M1643.8 289.5h0M1646.7 247.7h0M1649.4 246.5h0M1649.5 282.8h0M1650.5 284.3h0M1648.7 302.0h0M1639.7 301.9h0M1634.1 305.6h0M1647.4 310.6h0M1650.9 313.1h0M1651.9 306.0h0M1640.1 277.6h0M1649.9 251.2h0M1650.1 293.3h0M1652.0 295.9h0M1640.5 287.4h0M1644.7 252.4h0M1649.1 291.5h0M1650.4 291.2h0M1648.1 294.3h0M1644.2 253.1h0M1642.0 262.3h0M1646.0 290.5h0M1638.8 290.1h0M1648.0 281.2h0M1647.5 312.7h0M1639.3 291.0h0M1645.8 240.7h0M1647.6 275.3h0M1642.8 289.7h0M1643.1 314.9h0M1644.9 255.0h0M1642.5 266.8h0M1647.3 295.7h0M1651.2 280.5h0M1645.1 276.3h0M1650.7 287.6h0M1649.6 233.6h0M1646.0 288.9h0M1644.1 270.2h0M1642.3 312.8h0M1649.8 273.5h0M1649.3 255.0h0M1647.4 270.3h0M1639.3 315.2h0M1651.4 284.5h0M1639.7 275.3h0M1647.0 248.2h0M1651.5 306.7h0M1637.3 284.6h0M1645.1 262.1h0M1640.3 278.7h0M1638.5 314.5h0M1642.0 281.6h0M1647.2 300.9h0M1645.8 262.8h0M1651.8 306.2h0M1649.8 231.8h0M1648.9 260.9h0M1639.2 313.4h0M1645.2 246.0h0M1649.1 245.3h0M1641.8 294.9h0M1650.9 308.7h0M1648.3 239.6h0M1648.1 275.4h0M1645.0 264.3h0M1650.8 292.5h0M1648.2 314.3h0M1636.7 306.0h0M1643.5 292.2h0M1646.7 262.4h0M1650.7 233.5h0M1649.4 294.7h0M1637.7 278.2h0M1648.6 223.1h0M1642.2 277.1h0M1646.9 298.7h0M1651.4 254.0h0M1651.4 208.2h0M1646.1 238.8h0M1645.5 258.7h0M1649.9 211.2h0M1638.0 278.6h0M1633.5 312.2h0M1640.5 287.8h0M1647.1 286.1h0M1650.9 273.0h0M1645.8 271.4h0M1641.9 301.9h0M1637.9 307.5h0M1650.1 284.5h0M1650.0 300.7h0M1650.0 295.8h0M1635.5 293.7h0M1644.7 249.4h0M1638.7 280.2h0M1641.0 310.9h0M1640.0 314.8h0M1640.4 315.8h0M1651.2 243.9h0M1649.6 280.9h0M1635.1 314.1h0M1631.8 305.1h0M1646.4 265.6h0M1651.6 263.1h0M1649.8 217.1h0M1645.9 270.6h0M1649.3 240.3h0M1639.5 295.1h0M1648.4 276.2h0M1646.5 249.4h0M1647.3 312.6h0M1638.6 316.1h0M1640.4 298.3h0M1649.6 218.4h0M1644.4 294.3h0M1636.5 295.7h0M1640.0 277.0h0M1645.8 239.1h0M1650.0 265.1h0M1643.1 289.7h0M1643.6 310.7h0M1651.0 286.6h0M1642.2 300.7h0M1646.8 239.8h0M1644.0 274.5h0M1649.5 282.7h0M1649.9 272.1h0M1643.8 303.7h0M1646.1 274.6h0M1645.4 299.0h0M1639.0 298.3h0M1649.4 249.0h0M1633.9 315.3h0M1648.7 250.1h0M1649.1 306.0h0M1648.7 285.1h0M1641.9 260.5h0M1645.4 270.8h0M1651.4 222.5h0M1649.7 288.4h0M1639.0 299.1h0M1642.2 313.1h0M1634.4 299.0h0M1644.0 307.4h0M1649.4 303.2h0M1645.0 298.2h0M1643.5 265.2h0M1651.5 310.4h0M1634.3 298.4h0M1651.4 216.2h0M1651.0 239.5h0M1650.6 274.5h0M1650.0 287.1h0M1649.5 278.0h0M1634.9 315.0h0M1635.2 293.5h0M1645.9 275.6h0M1648.0 307.7h0M1651.4 238.2h0M1646.9 237.1h0M1647.6 289.5h0M1633.6 311.3h0M1651.6 281.9h0M1633.0 304.0h0M1642.6 274.8h0M1647.0 253.6h0M1646.9 306.6h0M1651.4 223.8h0M1637.2 292.9h0M1636.5 309.5h0M1645.6 296.8h0M1644.4 284.1h0M1647.5 228.6h0M1634.8 293.0h0M1644.2 247.7h0M1643.9 296.2h0M1644.6 300.8h0M1644.2 291.1h0M1648.2 270.1h0M1648.0 232.6h0M1649.6 297.5h0M1647.5 301.1h0M1645.0 262.7h0M1649.8 206.2h0M1641.3 294.8h0M1650.3 291.5h0M1651.9 236.2h0M1648.3 272.9h0M1641.5 260.9h0M1649.5 242.3h0M1651.5 265.5h0M1647.3 253.9h0M1649.5 250.0h0M1638.2 287.0h0M1649.0 316.3h0M1648.0 250.6h0M1646.7 241.9h0M1646.8 282.7h0M1640.4 297.4h0M1647.0 269.6h0M1638.0 282.2h0M1645.0 301.3h0M1650.4 232.9h0M1651.1 267.8h0M1650.0 229.9h0M1642.0 283.9h0M1645.7 274.6h0M1644.7 275.1h0M1650.0 262.9h0M1637.5 314.4h0M1638.2 294.1h0M1643.7 248.5h0M1648.8 219.6h0M1648.6 251.9h0M1647.2 247.1h0M1634.7 304.4h0M1643.6 284.7h0M1640.9 283.3h0M1651.0 286.8h0M1651.3 241.9h0M1635.7 303.2h0M1648.1 303.8h0M1650.8 225.0h0M1639.9 305.7h0M1643.9 310.4h0M1648.8 258.5h0M1642.1 298.5h0M1646.4 263.6h0M1641.6 267.6h0M1645.3 305.3h0M1636.7 294.5h0M1649.7 264.2h0M1651.6 264.0h0M1651.0 281.1h0M1650.4 230.3h0M1651.9 263.1h0M1645.3 308.3h0M1649.4 272.3h0M1640.6 281.3h0M1640.3 286.8h0M1646.9 253.2h0M1644.9 244.0h0M1632.9 304.1h0M1639.7 299.0h0M1648.4 230.3h0M1634.0 303.6h0M1650.5 255.2h0M1638.6 311.7h0M1648.8 308.2h0M1650.2 264.1h0M1649.3 311.7h0M1634.2 313.1h0M1635.1 316.0h0M1650.6 242.2h0M1639.9 296.3h0M1647.5 304.8h0M1640.7 309.0h0M1643.0 301.9h0M1650.1 267.3h0M1647.2 294.5h0M1639.0 280.9h0M1644.8 252.2h0M1640.8 294.8h0M1649.3 315.0h0M1637.3 279.4h0M1641.6 299.6h0M1634.7 294.0h0M1642.5 290.8h0M1642.4 272.3h0M1647.7 245.6h0M1645.3 264.8h0M1644.3 300.9h0M1650.1 219.5h0M1645.4 306.9h0M1635.1 304.6h0M1643.4 270.8h0M1644.0 311.5h0M1643.9 279.3h0M1650.0 255.5h0M1638.0 280.5h0M1649.1 280.6h0M1650.3 291.5h0M1651.0 230.5h0M1650.8 235.6h0M1635.9 308.2h0M1651.6 288.7h0M1636.9 296.3h0M1634.3 300.4h0M1639.1 299.5h0M1639.3 310.9h0M1651.4 308.7h0M1648.1 219.5h0M1645.3 315.2h0M1630.6 314.3h0M1636.4 313.0h0M1643.8 278.5h0M1644.7 313.1h0M1644.0 299.5h0M1640.5 315.4h0M1642.4 310.5h0M1645.0 300.4h0M1651.2 240.0h0M1632.8 307.0h0M1642.8 303.1h0M1638.4 277.3h0M1650.6 251.1h0M1645.6 293.5h0M1644.7 252.4h0M1634.4 316.3h0M1638.7 304.9h0M1649.5 234.9h0M1650.9 217.4h0M1640.3 274.9h0M1649.6 281.0h0M1648.2 277.8h0M1646.3 257.7h0M1650.3 207.4h0M1649.9 242.8h0M1641.4 293.3h0M1651.0 227.0h0M1650.4 260.0h0M1648.6 233.0h0M1642.5 282.9h0M1642.1 268.9h0M1635.9 311.1h0M1644.3 313.5h0M1648.5 230.1h0M1650.7 254.2h0M1642.0 276.1h0M1643.1 302.7h0M1649.7 238.0h0M1649.5 238.0h0M1651.9 278.1h0M1637.7 312.2h0M1643.5 264.1h0M1631.6 309.0h0M1642.1 272.7h0M1637.8 289.1h0M1640.9 280.6h0M1637.6 293.2h0M1650.0 238.1h0M1649.3 283.5h0M1638.0 298.2h0M1650.5 222.9h0M1651.7 293.1h0M1638.3 286.8h0M1639.4 299.7h0M1640.6 305.5h0M1650.6 257.2h0M1645.8 274.3h0M1641.0 271.2h0M1636.7 284.2h0M1646.3 294.0h0M1651.7 309.9h0M1645.1 255.4h0M1645.3 290.1h0M1649.4 308.2h0M1641.8 289.7h0M1642.7 306.1h0M1646.8 278.6h0M1641.4 303.9h0M1642.8 280.9h0M1651.3 227.2h0M1649.6 240.0h0M1636.2 315.8h0M1639.1 295.9h0M1650.9 263.2h0M1648.3 315.4h0M1647.2 245.9h0M1649.5 289.8h0M1641.3 262.0h0M1649.3 226.0h0M1650.4 307.2h0M1651.2 234.2h0M1651.4 281.2h0M1650.6 292.3h0M1636.3 294.7h0M1650.1 277.3h0M1651.9 275.2h0M1639.8 304.7h0M1641.7 275.0h0M1651.9 281.9h0M1648.1 225.8h0M1648.5 245.5h0M1648.6 229.1h0M1645.6 292.4h0M1651.6 276.9h0M1642.4 269.8h0M1650.1 266.9h0M1651.1 256.6h0M1649.3 306.9h0M1641.9 309.0h0M1649.5 272.6h0M1640.8 287.8h0M1639.3 282.9h0M1645.8 268.9h0M1643.3 302.6h0M1641.1 274.9h0M1644.2 247.7h0M1640.9 274.0h0M1650.3 277.3h0M1649.3 258.0h0M1639.3 281.2h0M1641.4 316.1h0M1634.0 316.4h0M1651.5 286.1h0M1651.4 303.9h0M1641.6 314.8h0M1634.3 302.9h0M1633.9 303.1h0M1636.5 294.4h0M1645.4 308.9h0M1636.1 296.2h0M1649.2 237.6h0M1636.0 313.2h0M1651.5 247.6h0M1645.3 254.8h0M1637.7 286.1h0M1643.0 276.6h0M1648.4 313.7h0M1648.3 298.7h0M1640.7 287.8h0M1649.9 305.5h0M1645.6 260.5h0M1648.6 315.3h0M1645.9 300.3h0M1646.5 286.0h0M1650.0 291.2h0M1649.0 305.7h0M1641.3 290.6h0M1645.7 261.4h0M1639.0 311.2h0M1647.3 267.3h0M1651.7 218.9h0M1646.6 264.9h0M1642.3 301.5h0M1632.8 304.9h0M1651.7 224.1h0M1634.9 309.9h0M1648.3 311.0h0M1642.3 315.8h0M1629.8 313.3h0M1651.3 264.0h0M1649.0 209.2h0M1648.2 223.8h0M1641.0 283.4h0M1650.6 302.2h0M1639.5 309.4h0M1641.4 303.1h0M1648.5 219.8h0M1650.1 218.7h0M1650.3 207.8h0M1644.1 263.1h0M1642.6 308.0h0M1634.0 315.8h0M1642.0 294.6h0M1634.6 316.2h0M1645.5 255.9h0M1633.8 302.6h0M1641.8 315.3h0M1649.3 287.7h0M1648.1 283.8h0M1646.5 289.9h0M1644.9 244.1h0M1650.6 219.2h0M1648.2 287.1h0M1648.4 295.0h0M1647.5 272.7h0M1650.5 250.7h0M1646.9 238.9h0M1645.3 269.9h0M1648.9 276.1h0M1648.6 275.1h0M1646.3 235.5h0M1644.2 277.0h0M1643.8 274.3h0M1649.4 308.3h0M1650.8 316.0h0M1646.0 267.1h0M1641.1 263.2h0M1650.7 312.7h0M1647.6 307.6h0M1641.2 295.7h0M1644.4 255.5h0M1632.4 308.7h0M1649.0 257.8h0M1646.2 259.5h0M1641.7 278.3h0M1643.5 287.4h0M1637.0 289.8h0M1648.5 310.9h0M1647.7 296.2h0M1635.6 300.7h0M1647.3 291.9h0M1651.7 220.8h0M1647.4 269.1h0M1649.0 286.4h0M1650.7 235.3h0M1641.7 267.2h0M1638.8 284.3h0M1635.4 312.9h0M1644.5 312.7h0M1645.7 305.9h0M1633.3 315.3h0M1644.1 316.4h0M1644.3 280.2h0M1641.4 264.2h0M1650.1 291.2h0M1630.2 315.7h0M1649.9 217.8h0M1641.8 310.2h0M1646.6 269.6h0M1642.7 303.9h0M1642.1 268.2h0M1640.3 306.8h0M1639.6 287.2h0M1632.4 309.0h0M1647.0 264.5h0M1649.5 272.6h0M1643.7 250.8h0M1648.2 253.4h0M1644.6 255.2h0M1643.9 250.0h0M1638.3 313.6h0M1643.2 313.8h0M1647.9 299.4h0M1647.4 243.4h0M1650.0 257.6h0M1648.9 216.6h0M1648.7 303.9h0M1651.3 246.2h0M1650.1 293.9h0M1641.0 285.5h0M1648.2 278.5h0M1649.0 256.4h0M1638.7 275.7h0M1644.6 315.8h0M1646.3 316.1h0M1648.2 223.7h0M1641.7 271.3h0M1641.6 270.3h0M1644.3 302.0h0M1644.6 277.3h0M1651.0 230.9h0M1642.1 296.7h0M1640.6 295.5h0M1651.6 253.9h0M1641.4 270.4h0M1648.5 254.1h0M1748.7 316.4h0M1598.5 316.2h0M1568.0 314.9h0M1623.8 314.9h0M1567.6 316.7h0M1770.4 315.3h0M1527.4 315.6h0M1613.3 315.1h0M1720.9 315.2h0M1640.2 315.4h0M1672.6 315.1h0M1626.5 316.7h0M1482.3 315.2h0M1499.1 316.6h0M1679.8 315.4h0M1749.1 315.2h0M1624.8 316.4h0M1658.8 315.0h0M1491.5 315.2h0M1762.9 316.8h0M1568.0 314.9h0M1669.0 315.3h0M1746.7 316.8h0M1713.5 316.5h0M1712.4 316.6h0M1592.0 316.4h0M1481.1 316.3h0M1611.6 317.0h0M1714.5 315.8h0M1690.8 316.1h0M1663.6 314.9h0M1545.2 315.4h0M1689.7 316.8h0M1667.1 316.5h0M1669.4 315.1h0M1554.4 316.1h0M1705.0 315.7h0M1687.2 315.6h0M1572.4 315.2h0M1602.3 316.1h0M1510.4 316.8h0M1479.8 316.4h0M1582.0 316.9h0M1563.8 314.9h0M1685.8 315.6h0M1724.4 316.3h0M1610.5 316.3h0M1683.0 315.5h0M1536.1 316.2h0M1649.1 314.9h0M1526.2 315.8h0M1504.4 316.0h0M1596.7 315.5h0M1704.0 316.4h0M1497.5 316.1h0M1777.1 316.1h0M1774.7 315.3h0M1544.0 315.5h0M1548.1 315.2h0M1554.2 315.9h0M1722.4 316.5h0M1489.3 316.5h0M1670.0 315.4h0M1479.3 316.7h0M1517.9 315.4h0M1569.1 316.6h0M1762.8 316.8h0M1733.8 316.7h0M1619.9 315.0h0M1548.2 315.1h0M1512.3 315.1h0M1573.6 314.9h0M1566.4 316.7h0M1550.3 315.9h0M1734.3 314.9h0M1696.9 316.0h0M1486.4 316.8h0M1717.5 315.1h0M1767.6 316.1h0M1669.1 315.3h0M1486.5 316.4h0M1692.7 315.2h0M1487.5 316.1h0M1570.3 315.6h0M1739.5 316.1h0M1512.9 316.3h0M1694.9 316.1h0M1765.3 315.9h0M1673.6 315.0h0M1568.2 315.5h0M1607.1 315.9h0M1511.9 316.3h0M1493.7 315.4h0M1654.0 314.9h0M1576.6 316.6h0M1698.2 315.6h0M1527.7 316.5h0M1739.8 315.0h0M1603.6 316.0h0M1686.6 315.3h0M1725.6 316.1h0M1718.5 316.9h0M1683.7 316.3h0M1567.1 315.4h0M1590.1 316.6h0M1657.3 315.4h0M1749.9 315.9h0M1772.9 316.2h0M1699.3 315.6h0M1776.8 315.9h0M1680.7 315.7h0M1635.2 315.2h0M1588.5 315.7h0M1701.6 315.2h0M1537.0 316.2h0M1620.3 316.7h0M1483.1 315.8h0M1728.4 316.5h0M1583.8 315.9h0M1597.2 314.8h0M1501.8 315.3h0M1740.7 315.2h0M1563.5 316.0h0M1687.8 316.2h0M1570.6 315.6h0M1481.2 316.5h0M1591.2 315.5h0M1539.8 315.9h0M1522.5 315.5h0M1509.0 315.2h0M1636.6 315.5h0M1509.7 316.7h0M1495.2 315.7h0M1565.8 315.0h0M1566.6 315.8h0M1685.4 315.4h0M1591.9 316.8h0M1669.0 315.8h0M1541.3 316.5h0M1758.3 315.4h0M1734.2 315.6h0M1621.9 314.9h0M1550.6 315.4h0M1538.5 316.6h0M1764.5 315.5h0M1719.5 315.5h0M1652.8 315.3h0M1751.9 315.9h0M1655.6 316.5h0M1635.4 315.9h0M1692.2 315.9h0M1651.4 315.5h0M1523.3 315.3h0M1770.6 316.1h0M1482.8 315.2h0M1653.4 315.9h0M1776.0 316.8h0M1498.8 316.6h0M1774.2 316.4h0M1765.2 315.7h0M1667.3 316.3h0M1717.9 316.4h0M1725.0 315.6h0M1717.5 316.1h0M1767.6 315.5h0M1664.4 316.7h0M1706.8 316.3h0M1521.3 315.2h0M1573.3 316.2h0M1487.1 316.3h0M1513.5 315.3h0M1561.1 316.0h0M1694.2 316.9h0M1546.3 315.0h0M1736.3 316.1h0M1754.9 316.4h0M1516.6 315.6h0M1543.5 315.8h0M1563.5 316.7h0M1747.9 315.2h0M1779.2 316.9h0M1593.6 316.7h0M1763.0 316.4h0M1586.9 316.2h0M1708.9 315.6h0M1620.8 315.0h0M1524.4 316.5h0M1570.5 316.3h0M1606.9 316.4h0M1563.5 315.0h0M1678.9 315.4h0M1539.0 315.8h0M1627.1 316.8h0M1687.8 315.8h0M1610.4 316.1h0M1516.4 315.5h0M1659.6 316.9h0M1658.8 315.3h0M1769.5 316.6h0M1544.5 315.6h0M1474.4 317.2h0M1480.2 317.2h0M1606.0 226.8h0M1607.1 233.5h0M1649.9 202.7h0M1650.6 210.4h0M1649.5 217.1h0" stroke="#bebebe" stroke-width="3.7" stroke-linecap="round" fill="none"/>
<path d="M1652.5 276.7h0M1654.0 267.6h0M1661.2 275.0h0M1658.1 310.2h0M1652.5 292.1h0M1652.4 297.1h0M1662.8 313.8h0M1656.3 295.7h0M1653.4 311.7h0M1658.9 312.7h0M1653.4 311.0h0M1671.7 252.5h0M1653.1 293.6h0M1656.0 317.3h0M1654.3 287.9h0M1652.4 226.4h0M1654.6 305.9h0M1673.3 313.9h0M1653.3 299.7h0M1654.9 307.1h0M1658.4 231.7h0M1656.0 316.9h0M1655.6 262.9h0M1656.3 316.4h0M1654.3 310.8h0M1655.3 307.1h0M1660.1 281.5h0M1652.6 313.7h0M1664.4 258.0h0M1663.2 312.6h0M1660.6 315.9h0M1660.2 311.0h0M1665.2 264.7h0M1656.7 280.9h0M1672.7 253.6h0M1659.6 290.6h0M1655.4 285.0h0M1653.3 300.5h0M1652.9 315.4h0M1660.0 302.2h0M1653.9 232.3h0M1654.7 295.8h0M1657.0 312.3h0M1687.9 277.2h0M1668.0 307.9h0M1669.3 248.7h0M1672.3 312.5h0M1653.5 315.7h0M1652.9 283.3h0M1652.6 300.2h0M1655.4 280.6h0M1652.6 281.4h0M1674.6 308.0h0M1655.9 279.2h0M1654.8 264.1h0M1691.9 310.9h0M1656.8 313.6h0M1658.0 303.8h0M1677.6 280.7h0M1686.5 270.2h0M1664.6 304.3h0M1660.0 314.7h0M1655.3 244.8h0M1679.8 312.7h0M1657.1 303.2h0M1659.1 292.2h0M1654.4 257.0h0M1656.5 275.1h0M1661.3 204.9h0M1657.4 292.5h0M1662.7 310.7h0M1652.6 269.8h0M1660.6 278.2h0M1663.6 311.7h0M1667.1 288.7h0M1672.6 294.8h0M1666.4 316.5h0M1653.5 294.9h0M1660.0 304.1h0M1652.8 255.5h0M1652.8 254.8h0M1654.1 282.9h0M1658.6 310.4h0M1655.1 310.2h0M1657.6 308.8h0M1657.8 308.6h0M1653.2 283.7h0M1654.4 232.5h0M1655.9 309.4h0M1661.2 251.3h0M1655.5 280.0h0M1655.1 170.1h0M1654.8 317.1h0M1652.3 295.6h0M1659.2 308.5h0M1656.0 303.0h0M1655.5 312.1h0M1657.8 286.5h0M1652.5 256.7h0M1654.4 299.6h0M1654.0 285.9h0M1655.9 293.1h0M1656.0 297.7h0M1652.9 202.9h0M1656.2 306.6h0M1665.5 308.1h0M1663.3 302.3h0M1653.1 293.5h0M1654.6 311.7h0M1684.6 238.4h0M1656.8 270.6h0M1660.1 307.8h0M1653.2 293.1h0M1653.8 277.6h0M1658.6 311.0h0M1662.8 219.1h0M1656.9 217.0h0M1656.6 305.7h0M1669.9 296.9h0M1675.1 313.1h0M1652.6 282.3h0M1652.5 310.9h0M1656.3 245.0h0M1660.8 283.8h0M1653.3 242.2h0M1666.4 238.7h0M1664.5 295.4h0M1660.8 314.4h0M1659.5 305.6h0M1655.2 307.4h0M1652.9 270.2h0M1657.8 312.9h0M1675.1 307.1h0M1657.5 309.4h0M1654.8 310.8h0M1661.9 304.8h0M1666.2 306.7h0M1653.2 300.7h0M1652.9 313.4h0M1657.5 293.5h0M1654.0 312.5h0M1657.5 301.2h0M1656.9 286.1h0M1652.7 272.4h0M1660.8 313.4h0M1655.1 307.6h0M1670.3 302.8h0M1661.1 315.6h0M1652.6 310.8h0M1659.5 301.1h0M1666.8 268.3h0M1660.0 148.8h0M1675.0 256.3h0M1652.9 303.5h0M1653.4 290.9h0M1657.2 315.4h0M1652.9 300.1h0M1659.2 303.2h0M1656.8 289.2h0M1660.7 282.7h0M1656.1 312.8h0M1666.6 317.0h0M1653.9 312.1h0M1658.6 290.1h0M1653.0 297.3h0M1658.3 284.7h0M1652.8 280.7h0M1654.5 304.2h0M1653.2 264.9h0M1659.1 269.9h0M1657.4 314.8h0M1655.9 315.8h0M1653.0 270.8h0M1652.3 304.0h0M1652.6 276.5h0M1685.3 317.2h0M1655.5 210.8h0M1654.3 307.5h0M1683.0 244.8h0M1655.7 286.1h0M1663.4 305.6h0M1652.3 304.7h0M1660.6 221.9h0M1656.4 302.9h0M1655.6 291.2h0M1652.4 247.7h0M1674.0 317.3h0M1652.3 307.3h0M1653.4 275.8h0M1666.6 295.4h0M1672.6 310.7h0M1653.8 304.2h0M1656.5 311.8h0M1670.2 278.1h0M1654.7 310.8h0M1654.6 303.7h0M1659.8 275.0h0M1673.4 315.8h0M1653.8 304.4h0M1673.7 300.6h0M1661.2 267.2h0M1656.6 304.5h0M1662.8 288.7h0M1687.1 309.1h0M1673.9 299.0h0M1666.6 288.6h0M1658.1 262.4h0M1652.9 308.7h0M1657.0 268.7h0M1653.7 274.5h0M1652.9 305.8h0M1656.7 281.9h0M1657.5 263.5h0M1660.6 304.2h0M1657.5 304.0h0M1666.8 307.7h0M1653.7 310.1h0M1654.3 270.3h0M1660.5 310.1h0M1656.1 253.2h0M1675.1 310.9h0M1672.6 316.5h0M1698.9 307.0h0M1674.0 317.3h0M1660.5 243.6h0M1664.4 293.7h0M1653.5 310.4h0M1672.5 260.0h0M1654.0 306.0h0M1659.0 307.8h0M1654.0 259.5h0M1653.1 289.3h0M1655.9 299.9h0M1666.7 278.7h0M1664.0 272.8h0M1652.3 310.8h0M1661.5 259.4h0M1657.7 254.7h0M1652.9 309.5h0M1664.4 272.6h0M1654.1 293.9h0M1656.3 279.5h0M1655.9 307.1h0M1662.4 283.8h0M1655.4 282.0h0M1654.4 298.1h0M1653.7 306.0h0M1656.1 315.5h0M1654.9 305.7h0M1655.1 297.8h0M1668.5 263.5h0M1654.7 314.0h0M1652.9 255.6h0M1662.3 279.4h0M1669.1 303.4h0M1653.6 315.4h0M1655.9 276.0h0M1652.9 301.6h0M1652.9 311.2h0M1658.0 287.9h0M1672.4 307.0h0M1654.1 316.4h0M1653.7 317.2h0M1652.3 314.7h0M1657.7 300.6h0M1669.0 299.0h0M1652.9 313.6h0M1660.8 205.1h0M1662.0 310.5h0M1655.3 301.6h0M1656.3 308.6h0M1653.5 317.4h0M1667.2 211.5h0M1679.2 304.4h0M1660.5 311.5h0M1655.1 272.0h0M1657.6 310.5h0M1656.9 295.7h0M1653.8 301.1h0M1670.9 301.1h0M1684.9 281.1h0M1653.2 245.8h0M1660.6 301.3h0M1653.7 287.2h0M1653.8 300.3h0M1653.4 302.8h0M1676.4 291.9h0M1657.3 290.4h0M1659.8 291.6h0M1654.6 311.3h0M1658.8 241.7h0M1666.8 298.9h0M1654.7 292.6h0M1652.6 298.4h0M1663.1 219.3h0M1652.9 311.7h0M1656.9 291.1h0M1675.7 314.9h0M1653.2 299.1h0M1663.4 317.4h0M1655.6 282.4h0M1656.1 312.5h0M1652.8 276.9h0M1657.3 295.9h0M1660.4 276.7h0M1655.9 305.1h0M1670.0 315.9h0M1662.8 300.4h0M1657.6 309.9h0M1672.4 307.7h0M1655.0 316.4h0M1667.9 267.1h0M1652.6 313.6h0M1654.7 317.4h0M1657.1 263.7h0M1661.2 298.0h0M1679.5 307.7h0M1655.0 309.3h0M1658.8 300.1h0M1653.2 298.6h0M1676.2 257.6h0M1659.2 260.9h0M1657.0 298.4h0M1660.7 311.7h0M1658.6 298.1h0M1654.8 298.3h0M1653.7 288.5h0M1653.1 301.1h0M1652.7 295.8h0M1653.0 268.0h0M1652.4 270.7h0M1654.8 229.0h0M1655.1 313.7h0M1660.1 310.1h0M1664.1 299.4h0M1654.5 292.4h0M1654.0 309.3h0M1652.9 310.4h0M1654.0 313.2h0M1656.1 301.0h0M1658.6 295.1h0M1660.4 290.7h0M1656.8 262.5h0M1653.3 308.9h0M1652.4 248.7h0M1667.2 303.1h0M1665.3 294.4h0M1671.1 251.3h0M1655.1 308.8h0M1656.1 228.0h0M1656.7 305.2h0M1652.4 304.2h0M1670.6 302.5h0M1663.4 252.6h0M1671.8 280.1h0M1657.1 307.9h0M1672.1 271.0h0M1661.9 316.5h0M1659.6 284.4h0M1653.3 306.8h0M1656.5 309.8h0M1653.1 313.4h0M1663.4 302.6h0M1654.6 309.8h0M1655.0 291.8h0M1661.1 302.0h0M1661.1 293.6h0M1664.0 280.5h0M1655.3 314.7h0M1664.8 313.0h0M1670.4 306.1h0M1653.4 283.7h0M1653.7 305.2h0M1656.3 289.2h0M1657.4 286.7h0M1663.4 219.4h0M1659.1 302.1h0M1657.1 305.9h0M1664.9 295.4h0M1660.7 268.8h0M1660.7 255.3h0M1656.5 283.7h0M1667.5 298.9h0M1664.4 308.7h0M1653.5 263.0h0M1657.9 223.8h0M1658.7 309.6h0M1653.2 252.2h0M1654.3 313.0h0M1657.6 281.7h0M1658.3 316.8h0M1663.0 285.7h0M1655.0 244.4h0M1657.1 276.1h0M1652.9 307.6h0M1662.2 284.9h0M1660.8 284.1h0M1652.5 262.3h0M1652.6 310.2h0M1654.8 298.2h0M1653.0 302.0h0M1653.3 306.4h0M1655.2 314.7h0M1663.7 317.3h0M1653.9 253.7h0M1655.9 234.1h0M1654.9 297.1h0M1657.6 303.2h0M1684.4 303.4h0M1663.5 297.8h0M1655.3 264.2h0M1658.7 277.7h0M1657.3 303.3h0M1661.2 313.3h0M1656.8 311.8h0M1666.4 273.7h0M1655.8 273.7h0M1657.8 287.5h0M1654.2 275.5h0M1659.7 152.0h0M1654.4 303.3h0M1662.9 309.6h0M1662.5 263.5h0M1653.6 280.6h0M1654.7 309.0h0M1655.3 274.6h0M1659.4 304.2h0M1660.4 270.0h0M1653.8 260.4h0M1657.5 289.0h0M1666.2 311.3h0M1656.7 282.5h0M1652.4 303.9h0M1657.8 301.0h0M1657.2 265.8h0M1653.1 281.4h0M1654.6 315.7h0M1656.6 314.2h0M1656.6 312.9h0M1656.4 314.0h0M1691.4 311.4h0M1656.4 291.4h0M1660.2 314.2h0M1665.5 304.8h0M1652.9 302.0h0M1659.1 305.3h0M1661.5 307.4h0M1664.2 240.3h0M1664.2 316.3h0M1656.1 296.3h0M1655.7 312.3h0M1658.5 314.5h0M1653.6 302.6h0M1692.9 304.2h0M1676.1 285.9h0M1659.6 247.4h0M1658.4 279.4h0M1656.8 272.3h0M1671.5 317.3h0M1659.5 316.0h0M1662.2 301.8h0M1653.3 264.7h0M1654.3 251.4h0M1655.7 294.6h0M1656.4 276.8h0M1655.4 297.4h0M1654.1 306.3h0M1653.1 309.5h0M1654.6 284.4h0M1653.4 313.4h0M1677.7 288.6h0M1652.9 260.4h0M1662.3 291.0h0M1675.3 296.2h0M1652.9 300.2h0M1657.9 266.4h0M1652.8 316.1h0M1653.0 305.2h0M1671.7 274.4h0M1652.6 292.4h0M1653.7 310.8h0M1655.0 310.0h0M1654.7 310.9h0M1655.2 292.4h0M1658.1 280.5h0M1654.6 317.4h0M1658.3 307.4h0M1653.9 303.0h0M1672.9 291.8h0M1661.2 316.9h0M1657.8 283.4h0M1666.4 276.9h0M1652.6 191.4h0M1652.4 275.8h0M1656.8 242.0h0M1673.0 278.5h0M1652.9 288.1h0M1653.2 302.2h0M1653.3 307.8h0M1652.6 295.8h0M1652.9 310.1h0M1662.9 308.2h0M1658.4 260.4h0M1659.4 268.9h0M1671.3 310.1h0M1653.7 169.2h0M1669.9 307.0h0M1670.6 315.6h0M1654.1 260.7h0M1653.0 261.1h0M1654.0 275.8h0M1653.2 298.1h0M1658.3 294.6h0M1666.3 317.2h0M1661.0 262.9h0M1657.5 310.4h0M1663.5 302.0h0M1654.4 275.4h0M1662.5 268.0h0M1652.4 295.0h0M1652.5 290.1h0M1653.3 275.0h0M1652.4 284.4h0M1654.0 112.0h0M1656.8 297.2h0M1665.6 308.6h0M1677.3 308.1h0M1652.5 308.7h0M1655.5 291.9h0M1652.8 250.3h0M1662.9 278.7h0M1683.7 316.6h0M1660.4 262.2h0M1653.7 302.9h0M1653.8 243.1h0M1656.8 267.0h0M1654.3 291.6h0M1661.9 306.1h0M1654.5 315.6h0M1659.2 303.0h0M1653.8 307.0h0M1655.0 314.3h0M1658.6 313.3h0M1654.0 305.3h0M1683.7 282.5h0M1654.0 264.5h0M1672.0 306.6h0M1663.5 289.5h0M1658.0 250.4h0M1660.1 288.1h0M1671.8 300.6h0M1661.3 299.9h0M1667.0 214.6h0M1654.3 311.8h0M1653.0 316.0h0M1654.8 301.4h0M1653.8 284.6h0M1662.3 266.6h0M1657.8 277.7h0M1663.5 280.6h0M1655.0 293.5h0M1664.6 310.0h0M1658.8 314.7h0M1656.4 312.2h0M1653.1 255.0h0M1655.1 226.6h0M1661.7 292.6h0M1656.9 288.0h0M1664.0 312.1h0M1657.8 309.1h0M1653.7 311.1h0M1663.2 240.0h0M1656.3 312.7h0M1653.6 307.6h0M1655.5 256.0h0M1657.5 298.7h0M1659.2 312.6h0M1655.5 301.4h0M1652.7 307.7h0M1658.2 291.5h0M1654.5 316.0h0M1658.2 313.3h0M1652.3 222.6h0M1661.5 238.5h0M1655.0 275.7h0M1665.7 289.6h0M1652.5 308.9h0M1655.6 301.5h0M1658.3 312.3h0M1655.9 314.6h0M1665.3 310.7h0M1657.3 293.3h0M1652.6 295.4h0M1663.7 310.3h0M1659.3 281.0h0M1658.1 305.4h0M1657.3 286.4h0M1656.3 279.7h0M1662.0 278.0h0M1656.3 313.6h0M1653.6 308.0h0M1658.1 316.4h0M1654.9 313.6h0M1657.7 311.7h0M1664.5 316.3h0M1655.4 278.5h0M1664.9 303.9h0M1672.4 257.3h0M1658.1 306.6h0M1653.8 284.5h0M1652.7 288.0h0M1654.1 312.2h0M1659.0 303.9h0M1652.7 313.6h0M1663.3 304.0h0M1662.9 290.4h0M1652.3 306.1h0M1658.7 310.1h0M1653.3 83.3h0M1655.0 287.2h0M1656.4 188.9h0M1654.1 317.3h0M1659.7 284.1h0M1665.0 314.8h0M1653.6 299.6h0M1654.6 314.2h0M1653.3 316.9h0M1656.2 314.0h0M1652.5 315.3h0M1660.8 288.2h0M1655.2 271.0h0M1652.6 302.6h0M1671.3 316.6h0M1653.4 299.3h0M1655.3 316.2h0M1665.2 273.0h0M1658.5 302.6h0M1658.0 298.2h0M1658.2 307.0h0M1664.2 297.0h0M1654.2 292.8h0M1662.9 298.3h0M1655.0 295.5h0M1660.5 312.4h0M1667.6 303.0h0M1656.1 297.0h0M1662.3 312.8h0M1653.7 298.9h0M1652.4 301.7h0M1653.2 311.8h0M1655.5 252.9h0M1658.9 308.7h0M1659.4 297.6h0M1652.3 301.5h0M1660.8 270.7h0M1657.4 304.4h0M1656.4 268.8h0M1656.3 295.6h0M1662.3 259.5h0M1658.4 296.6h0M1653.0 304.6h0M1653.8 275.5h0M1660.1 314.0h0M1658.4 258.3h0M1665.6 304.6h0M1655.5 296.4h0M1656.1 212.4h0M1665.7 253.5h0M1718.7 315.0h0M1672.9 305.3h0M1654.4 291.7h0M1655.9 311.4h0M1678.3 312.4h0M1652.9 303.8h0M1664.6 271.0h0M1656.5 303.3h0M1653.3 272.1h0M1662.3 311.1h0M1660.1 253.8h0M1655.4 310.6h0M1661.9 290.0h0M1655.0 283.0h0M1653.7 299.2h0M1662.6 305.9h0M1653.2 285.7h0M1660.4 291.1h0M1669.0 304.8h0M1657.3 300.8h0M1665.9 306.6h0M1654.2 304.9h0M1664.5 279.0h0M1653.7 269.2h0M1683.1 306.3h0M1663.2 284.1h0M1659.0 310.6h0M1652.3 259.7h0M1655.1 268.2h0M1665.9 262.1h0M1661.6 280.8h0M1664.4 236.0h0M1670.0 257.0h0M1655.0 245.0h0M1652.9 312.3h0M1666.5 295.3h0M1674.0 306.6h0M1652.8 313.5h0M1667.4 270.5h0M1656.2 287.6h0M1652.5 238.5h0M1654.6 311.8h0M1657.0 299.4h0M1657.0 281.6h0M1653.7 272.4h0M1655.0 303.5h0M1668.3 279.4h0M1661.5 272.6h0M1656.1 305.9h0M1657.5 263.8h0M1653.6 283.3h0M1656.8 234.8h0M1661.0 244.5h0M1656.0 300.3h0M1654.3 311.5h0M1654.9 311.3h0M1659.2 293.9h0M1661.7 278.1h0M1677.0 296.5h0M1659.0 296.4h0M1656.8 306.2h0M1654.9 306.5h0M1657.3 301.2h0M1657.9 286.3h0M1683.1 292.9h0M1685.5 307.2h0M1658.9 293.0h0M1656.5 300.4h0M1654.2 202.4h0M1652.8 270.8h0M1656.9 305.9h0M1654.9 233.9h0M1655.1 293.3h0M1656.1 286.9h0M1658.0 296.3h0M1653.1 317.4h0M1657.4 308.7h0M1661.8 306.9h0M1652.6 313.2h0M1655.1 288.2h0M1660.9 266.7h0M1674.2 294.7h0M1652.6 286.6h0M1655.4 291.3h0M1653.6 303.6h0M1654.2 285.5h0M1673.0 305.0h0M1657.2 289.0h0M1662.5 305.4h0M1654.5 287.5h0M1654.9 298.3h0M1659.3 294.8h0M1677.8 305.8h0M1654.0 303.1h0M1668.3 262.3h0M1652.7 312.7h0M1654.2 274.5h0M1660.6 313.0h0M1663.3 260.3h0M1664.2 305.8h0M1664.3 309.5h0M1671.2 313.8h0M1655.8 307.7h0M1664.4 276.5h0M1657.6 295.9h0M1654.7 292.7h0M1652.6 281.2h0M1674.2 300.6h0M1656.7 292.8h0M1655.6 242.1h0M1654.0 298.9h0M1660.6 278.6h0M1654.9 314.4h0M1660.5 314.3h0M1667.3 269.5h0M1657.2 254.4h0M1662.9 286.0h0M1654.4 315.5h0M1653.1 315.3h0M1660.2 283.3h0M1672.8 304.3h0M1655.5 261.2h0M1663.3 205.7h0M1652.3 228.8h0M1656.0 272.0h0M1653.9 295.7h0M1662.1 281.4h0M1660.6 315.5h0M1669.6 316.6h0M1664.4 294.1h0M1659.1 310.9h0M1663.2 277.0h0M1654.3 241.5h0M1656.1 261.4h0M1654.1 304.7h0M1653.9 317.2h0M1653.4 313.4h0M1657.4 299.2h0M1653.1 246.4h0M1659.4 297.1h0M1654.5 302.6h0M1669.3 302.3h0M1657.2 244.4h0M1655.9 262.8h0M1652.8 282.6h0M1653.2 309.0h0M1652.9 256.7h0M1668.1 272.7h0M1657.1 314.8h0M1657.4 252.0h0M1683.2 232.5h0M1661.1 289.9h0M1652.3 301.2h0M1652.4 316.4h0M1660.3 276.3h0M1655.0 313.3h0M1654.5 310.7h0M1658.0 309.0h0M1654.1 289.9h0M1656.5 315.7h0M1655.7 308.7h0M1663.6 310.3h0M1659.5 285.8h0M1656.1 316.9h0M1657.7 314.9h0M1654.2 243.5h0M1653.6 226.9h0M1653.5 317.3h0M1652.5 265.4h0M1668.2 309.0h0M1655.3 306.2h0M1659.3 307.7h0M1656.7 287.7h0M1654.5 314.0h0M1659.7 287.8h0M1652.3 301.8h0M1665.5 292.2h0M1660.2 210.3h0M1653.9 303.7h0M1653.4 252.2h0M1658.5 258.4h0M1659.8 306.2h0M1661.0 309.1h0M1657.2 289.7h0M1662.8 310.1h0M1662.2 295.6h0M1659.2 315.3h0M1657.5 315.4h0M1659.3 272.8h0M1655.7 301.8h0M1659.2 294.6h0M1679.7 264.9h0M1660.4 305.8h0M1652.7 285.6h0M1654.1 283.0h0M1659.7 261.3h0M1652.7 299.2h0M1655.2 306.1h0M1654.4 266.6h0M1656.6 295.1h0M1653.2 294.7h0M1659.3 314.4h0M1655.2 309.3h0M1657.9 315.8h0M1681.0 304.0h0M1670.6 317.2h0M1662.1 251.8h0M1656.4 304.7h0M1659.1 307.7h0M1654.3 247.4h0M1659.5 298.3h0M1656.6 272.4h0M1661.8 308.7h0M1654.9 303.0h0M1652.7 302.5h0M1653.1 286.5h0M1655.1 306.8h0M1654.0 309.9h0M1654.1 255.5h0M1656.5 295.4h0M1655.0 229.7h0M1658.7 312.8h0M1689.8 279.2h0M1654.0 302.0h0M1669.2 275.3h0M1663.1 293.1h0M1653.8 287.8h0M1658.4 313.5h0M1652.7 296.7h0M1669.8 306.7h0M1659.4 315.0h0M1667.1 255.1h0M1654.8 281.6h0M1661.8 301.9h0M1667.2 316.8h0M1654.7 314.6h0M1664.6 279.5h0M1654.1 287.1h0M1657.3 294.0h0M1656.1 294.1h0M1658.1 307.1h0M1655.5 313.1h0M1659.3 268.6h0M1654.1 292.5h0M1655.8 312.4h0M1652.7 317.1h0M1661.9 314.0h0M1654.6 297.6h0M1653.8 293.1h0M1656.8 310.9h0M1660.3 288.7h0M1673.5 306.4h0M1662.8 290.0h0M1658.2 317.1h0M1654.9 302.0h0M1652.6 315.2h0M1664.5 314.8h0M1658.1 310.3h0M1657.5 303.8h0M1654.5 300.6h0M1654.6 234.6h0M1656.6 314.3h0M1661.8 313.0h0M1661.9 275.1h0M1670.3 297.1h0M1662.0 272.9h0M1664.2 291.4h0M1668.1 278.8h0M1655.7 304.9h0M1665.2 242.6h0M1655.6 244.1h0M1663.4 283.8h0M1655.2 308.9h0M1654.7 284.7h0M1656.7 310.9h0M1653.4 270.3h0M1653.8 312.8h0M1657.6 316.6h0M1655.9 311.6h0M1666.1 294.9h0M1657.1 300.0h0M1652.4 264.6h0M1658.1 273.6h0M1665.5 226.9h0M1668.8 255.7h0M1653.4 167.8h0M1681.8 288.4h0M1667.1 309.5h0M1656.3 314.9h0M1656.8 181.9h0M1660.9 300.4h0M1654.9 311.3h0M1656.2 308.4h0M1657.0 293.7h0M1655.9 292.2h0M1656.0 298.3h0M1657.0 264.8h0M1668.1 292.8h0M1662.3 307.8h0M1653.5 307.3h0M1653.3 276.3h0M1669.8 288.5h0M1654.0 314.2h0M1662.7 293.6h0M1653.4 173.5h0M1662.1 223.3h0M1681.1 274.0h0M1670.9 235.3h0M1653.5 305.9h0M1657.7 288.9h0M1653.4 309.0h0M1662.7 220.0h0M1656.8 240.3h0M1666.9 251.5h0M1653.7 304.2h0M1660.0 269.9h0M1664.8 314.5h0M1654.9 316.7h0M1657.3 314.3h0M1659.9 303.1h0M1664.0 306.9h0M1685.1 314.5h0M1652.9 298.2h0M1657.2 264.4h0M1652.5 312.4h0M1654.3 301.8h0M1664.4 286.7h0M1654.2 304.0h0M1662.5 294.8h0M1653.1 305.3h0M1652.4 300.6h0M1654.1 307.8h0M1655.2 260.4h0M1652.9 315.5h0M1653.3 302.1h0M1656.3 241.1h0M1661.4 309.2h0M1653.3 295.3h0M1664.9 310.9h0M1662.5 305.1h0M1674.5 228.3h0M1653.6 270.9h0M1658.6 304.0h0M1657.4 250.1h0M1656.9 294.2h0M1662.3 315.0h0M1658.2 309.7h0M1660.4 289.8h0M1662.0 268.7h0M1683.4 314.6h0M1654.1 299.1h0M1670.8 303.6h0M1653.9 296.8h0M1654.9 315.8h0M1663.9 300.6h0M1665.3 315.0h0M1655.2 314.6h0M1665.4 301.1h0M1658.8 316.7h0M1656.4 304.0h0M1660.9 310.4h0M1681.6 306.7h0M1657.4 299.8h0M1655.2 316.5h0M1652.6 247.4h0M1679.7 290.7h0M1653.3 312.0h0M1655.0 317.2h0M1655.2 308.6h0M1655.1 265.7h0M1658.0 106.4h0M1654.9 316.1h0M1662.4 280.6h0M1664.3 304.8h0M1664.1 315.2h0M1661.3 284.1h0M1658.2 290.6h0M1656.7 302.0h0M1656.8 291.2h0M1665.5 306.4h0M1658.0 303.9h0M1653.6 283.0h0M1652.3 257.4h0M1652.6 312.9h0M1661.9 301.8h0M1654.8 298.9h0M1671.1 288.2h0M1655.4 232.6h0M1654.2 315.3h0M1661.6 271.3h0M1663.5 303.6h0M1660.3 311.4h0M1654.5 235.9h0M1665.7 234.3h0M1657.9 282.4h0M1655.4 303.6h0M1670.8 278.7h0M1672.0 313.5h0M1656.0 246.1h0M1670.7 268.8h0M1667.6 309.3h0M1661.1 315.0h0M1656.3 312.0h0M1656.0 286.1h0M1660.2 256.5h0M1671.4 307.6h0M1655.1 302.5h0M1654.3 264.7h0M1663.4 286.7h0M1659.6 308.2h0M1654.6 276.9h0M1653.0 179.9h0M1653.4 311.5h0M1662.3 248.2h0M1653.5 237.3h0M1657.3 314.3h0M1657.8 310.6h0M1659.6 289.6h0M1665.0 245.2h0M1666.3 285.8h0M1661.5 259.6h0M1665.1 298.4h0M1672.2 224.2h0M1653.8 311.3h0M1659.0 295.4h0M1656.1 298.3h0M1653.9 302.6h0M1658.6 277.9h0M1660.9 315.1h0M1653.9 299.2h0M1662.7 308.9h0M1661.7 310.7h0M1663.7 298.1h0M1659.6 298.7h0M1669.9 310.0h0M1657.0 313.3h0M1670.5 311.4h0M1686.9 313.0h0M1686.0 314.5h0M1680.3 316.4h0M1674.2 303.6h0M1680.2 316.4h0M1688.6 314.4h0M1684.4 316.3h0M1689.4 310.0h0M1660.6 292.1h0M1682.0 304.6h0M1668.4 315.4h0M1676.2 298.2h0M1680.0 305.1h0M1654.6 311.6h0M1663.2 310.1h0M1677.4 308.5h0M1652.4 314.3h0M1663.0 312.4h0M1663.0 315.9h0M1660.6 311.1h0M1685.4 315.6h0M1688.4 306.7h0M1686.0 295.3h0M1680.6 292.0h0M1659.6 307.6h0M1665.8 316.3h0M1662.6 307.2h0M1657.3 317.0h0M1684.1 300.3h0M1653.4 315.8h0M1652.4 310.1h0M1689.3 316.5h0M1674.0 312.1h0M1679.7 308.8h0M1679.8 317.0h0M1689.0 301.9h0M1682.8 302.4h0M1666.6 290.3h0M1676.0 310.6h0M1653.8 311.2h0M1666.5 312.1h0M1665.2 298.2h0M1666.2 317.1h0M1661.7 299.0h0M1671.7 313.6h0M1685.2 274.3h0M1667.9 316.6h0M1664.4 316.9h0M1685.1 305.0h0M1664.4 307.1h0M1684.1 262.6h0M1658.8 311.7h0M1676.6 312.0h0M1672.2 311.7h0M1667.7 309.2h0M1667.1 314.5h0M1667.9 302.1h0M1658.1 311.4h0M1661.0 290.4h0M1652.6 313.7h0M1688.5 305.1h0M1661.1 304.1h0M1671.1 317.2h0M1663.0 312.6h0M1688.8 294.9h0M1673.0 306.6h0M1675.6 300.5h0M1666.2 307.1h0M1660.4 315.5h0M1662.3 312.7h0M1663.4 308.5h0M1653.8 314.2h0M1675.0 301.4h0M1681.9 312.2h0M1687.0 306.6h0M1682.1 317.0h0M1667.8 314.4h0M1683.9 303.1h0M1658.2 281.4h0M1660.0 316.7h0M1673.4 312.1h0M1686.4 305.0h0M1664.2 316.5h0M1663.3 317.3h0M1665.4 265.3h0M1684.1 309.7h0M1676.5 307.6h0M1681.8 299.4h0M1688.5 287.5h0M1665.2 286.6h0M1661.7 316.9h0M1685.2 277.6h0M1682.4 315.0h0M1669.1 299.9h0M1659.6 316.4h0M1665.6 313.6h0M1664.8 314.1h0M1654.9 307.3h0M1670.8 308.2h0M1664.5 293.5h0M1681.4 309.6h0M1666.7 297.9h0M1668.7 312.5h0M1670.9 317.3h0M1686.8 301.6h0M1656.8 315.7h0M1677.3 309.9h0M1667.5 312.7h0M1660.7 312.6h0M1661.2 315.9h0M1665.6 308.7h0M1689.5 305.3h0M1683.1 309.5h0M1680.9 307.6h0M1652.6 313.4h0M1657.2 305.9h0M1666.0 312.2h0M1658.1 281.2h0M1662.7 316.6h0M1666.2 314.2h0M1659.4 305.6h0M1687.9 316.8h0M1684.9 272.3h0M1672.8 302.8h0M1652.5 315.8h0M1682.1 305.6h0M1656.8 314.9h0M1655.1 301.6h0M1676.4 313.6h0M1673.5 310.9h0M1662.1 310.1h0M1652.6 304.8h0M1688.3 316.3h0M1668.7 308.7h0M1678.0 302.5h0M1664.6 303.4h0M1665.8 302.2h0M1671.4 309.2h0M1685.9 316.1h0M1671.0 313.7h0M1654.6 302.2h0M1659.7 316.3h0M1657.4 302.2h0M1678.8 314.0h0M1670.6 313.5h0M1663.1 284.6h0M1664.3 305.4h0M1675.6 311.6h0M1675.6 305.6h0M1673.9 301.9h0M1663.6 315.4h0M1669.6 301.8h0M1669.7 294.3h0M1658.6 309.2h0M1663.0 309.9h0M1681.0 314.0h0M1658.8 311.9h0M1663.7 315.6h0M1670.0 301.9h0M1673.4 308.8h0M1660.7 310.1h0M1680.4 313.9h0M1653.0 281.2h0M1671.3 282.5h0M1675.2 313.8h0M1659.0 289.5h0M1680.9 309.1h0M1653.0 314.4h0M1668.2 317.2h0M1670.0 311.5h0M1659.9 310.3h0M1688.1 296.3h0M1683.2 314.4h0M1661.0 311.3h0M1687.4 315.7h0M1655.1 298.1h0M1652.7 310.6h0M1689.2 309.2h0M1652.6 314.4h0M1680.5 306.2h0M1655.5 311.6h0M1670.4 316.3h0M1657.2 314.3h0M1667.3 285.8h0M1664.6 294.6h0M1653.0 311.5h0M1663.2 305.6h0M1675.1 314.6h0M1679.6 305.3h0M1684.8 305.8h0M1655.6 302.1h0M1688.2 296.0h0M1677.0 316.8h0M1684.8 311.0h0M1679.7 290.7h0M1687.5 294.8h0M1655.5 311.7h0M1684.5 308.1h0M1671.9 256.5h0M1653.4 313.3h0M1658.2 283.5h0M1674.2 315.0h0M1684.9 292.2h0M1670.4 286.3h0M1660.4 305.8h0M1689.6 315.4h0M1678.7 299.5h0M1684.8 314.9h0M1666.7 316.9h0M1671.3 297.2h0M1663.4 295.7h0M1662.2 311.5h0M1677.2 300.5h0M1687.7 313.5h0M1667.0 303.1h0M1682.2 301.7h0M1662.3 297.1h0M1681.0 308.7h0M1664.9 304.6h0M1654.9 303.9h0M1668.0 303.0h0M1674.4 313.5h0M1664.2 310.8h0M1657.4 315.0h0M1676.3 315.9h0M1686.8 310.2h0M1664.3 316.1h0M1662.7 312.9h0M1657.4 314.3h0M1688.5 288.9h0M1686.6 286.8h0M1678.7 282.5h0M1676.3 312.6h0M1658.6 307.0h0M1688.5 288.7h0M1688.9 312.0h0M1679.4 297.7h0M1685.0 309.6h0M1685.1 313.6h0M1683.3 312.2h0M1660.4 299.6h0M1682.1 307.5h0M1670.0 315.0h0M1683.9 306.6h0M1677.5 300.0h0M1653.3 301.4h0M1684.4 316.6h0M1654.1 297.0h0M1662.1 310.1h0M1687.2 315.9h0M1685.1 297.3h0M1668.7 301.5h0M1657.9 300.8h0M1682.7 304.3h0M1653.5 314.5h0M1677.2 299.3h0M1670.8 305.9h0M1669.4 308.9h0M1663.0 315.8h0M1685.0 309.7h0M1664.4 314.5h0M1664.9 310.5h0M1658.2 311.9h0M1665.4 313.0h0M1685.5 314.4h0M1680.4 287.5h0M1666.6 313.7h0M1677.7 287.9h0M1672.3 307.2h0M1656.3 314.2h0M1669.4 307.0h0M1666.6 304.0h0M1683.8 315.2h0M1672.1 317.1h0M1664.3 309.1h0M1683.4 315.9h0M1682.4 306.8h0M1671.7 316.5h0M1681.4 306.2h0M1660.9 269.6h0M1686.0 313.0h0M1660.4 302.5h0M1665.0 297.3h0M1662.7 297.9h0M1665.5 308.8h0M1664.1 307.9h0M1654.5 313.4h0M1665.6 308.7h0M1682.4 311.0h0M1688.1 316.4h0M1679.8 312.8h0M1660.3 313.9h0M1666.3 311.1h0M1670.7 301.6h0M1682.1 312.8h0M1681.2 308.6h0M1653.6 299.6h0M1685.5 307.4h0M1671.3 292.8h0M1689.1 309.0h0M1654.3 310.5h0M1659.9 311.5h0M1674.9 315.6h0M1654.7 311.0h0M1677.9 310.3h0M1688.9 313.9h0M1669.2 309.1h0M1660.5 288.4h0M1681.1 282.9h0M1666.8 310.8h0M1671.9 317.1h0M1662.0 306.9h0M1664.9 310.7h0M1667.7 315.0h0M1658.7 314.3h0M1654.4 314.7h0M1654.7 295.8h0M1676.5 310.9h0M1664.4 306.2h0M1665.1 298.9h0M1684.1 315.4h0M1671.7 313.4h0M1689.2 315.4h0M1653.7 315.5h0M1687.7 308.0h0M1679.9 311.1h0M1678.8 312.3h0M1672.0 307.1h0M1682.1 288.2h0M1676.3 299.7h0M1658.3 315.8h0M1669.5 315.3h0M1672.8 314.4h0M1686.3 317.1h0M1683.3 285.2h0M1667.5 300.9h0M1675.5 315.5h0M1671.8 316.8h0M1663.9 317.4h0M1659.1 295.3h0M1671.4 297.0h0M1669.6 314.3h0M1670.6 313.5h0M1659.7 315.6h0M1671.4 313.0h0M1656.8 308.2h0M1685.4 309.8h0M1665.0 310.9h0M1663.7 313.1h0M1681.5 312.6h0M1685.1 316.9h0M1664.1 316.1h0M1681.9 316.3h0M1673.4 310.8h0M1679.9 310.3h0M1663.1 286.8h0M1670.5 316.3h0M1672.7 310.6h0M1670.9 304.8h0M1665.8 307.3h0M1662.0 304.5h0M1682.2 310.1h0M1686.8 312.6h0M1666.4 302.9h0M1681.3 312.2h0M1669.0 308.3h0M1654.3 310.4h0M1684.1 316.8h0M1655.2 310.9h0M1675.2 313.2h0M1667.9 289.2h0M1689.6 276.2h0M1658.7 314.1h0M1662.2 293.0h0M1675.5 309.6h0M1655.5 301.4h0M1689.0 315.4h0M1684.0 315.4h0M1658.6 296.5h0M1677.6 312.0h0M1661.4 285.1h0M1665.2 304.0h0M1676.3 313.0h0M1688.9 312.5h0M1662.0 315.5h0M1653.6 311.9h0M1687.3 304.4h0M1665.3 314.4h0M1682.5 299.9h0M1664.0 315.2h0M1662.1 300.5h0M1670.2 306.3h0M1677.7 301.2h0M1677.2 315.3h0M1684.4 308.9h0M1678.1 305.9h0M1684.3 300.2h0M1686.8 299.7h0M1661.8 303.7h0M1665.5 303.4h0M1673.2 309.2h0M1655.8 316.1h0M1657.1 317.1h0M1684.9 292.7h0M1665.4 311.8h0M1673.8 305.6h0M1655.5 280.2h0M1653.4 316.9h0M1679.4 314.0h0M1676.3 309.5h0M1670.3 310.5h0M1682.9 312.7h0M1681.0 308.8h0M1685.5 317.0h0M1653.4 309.9h0M1669.4 316.1h0M1658.1 315.8h0M1685.8 309.5h0M1667.9 309.3h0M1668.6 311.0h0M1655.0 274.6h0M1674.3 304.6h0M1686.1 317.1h0M1654.5 315.5h0M1658.7 315.9h0M1667.0 299.4h0M1674.5 304.7h0M1671.0 290.8h0M1685.3 316.7h0M1677.6 286.2h0M1683.1 309.7h0M1667.2 317.2h0M1662.5 317.2h0M1654.9 302.3h0M1671.2 313.4h0M1679.0 314.1h0M1686.6 315.4h0M1659.7 315.6h0M1688.1 295.4h0M1659.9 290.2h0M1653.5 305.5h0M1669.5 315.5h0M1674.7 315.5h0M1672.1 303.7h0M1668.1 293.6h0M1685.9 316.1h0M1665.5 317.4h0M1663.6 316.8h0M1670.4 315.0h0M1687.1 301.3h0M1665.6 310.1h0M1683.1 317.2h0M1666.1 315.3h0M1660.2 315.6h0M1660.6 289.5h0M1661.3 307.1h0M1661.3 289.9h0M1685.9 310.6h0M1687.8 304.5h0M1686.0 310.4h0M1655.2 317.4h0M1683.9 284.0h0M1668.0 295.0h0M1686.3 314.2h0M1680.8 302.2h0M1677.4 315.4h0M1654.2 313.9h0M1662.4 310.4h0M1665.6 312.8h0M1664.1 316.6h0M1662.8 306.6h0M1662.8 294.5h0M1685.0 311.7h0M1663.4 307.0h0M1685.7 300.2h0M1660.2 315.7h0M1654.1 288.0h0M1662.8 312.9h0M1681.1 314.6h0M1683.1 314.6h0M1682.9 303.3h0M1656.4 314.4h0M1682.1 306.0h0M1668.1 316.7h0M1658.6 313.7h0M1670.8 307.0h0M1684.9 305.8h0M1673.2 310.2h0M1653.9 309.9h0M1668.4 296.9h0M1661.0 313.7h0M1661.7 307.0h0M1682.4 317.1h0M1666.8 306.1h0M1680.0 302.7h0M1658.5 304.7h0M1669.2 295.1h0M1659.6 298.9h0M1686.7 308.3h0M1658.6 313.7h0M1666.1 295.6h0M1658.7 312.5h0M1666.1 310.2h0M1661.0 317.3h0M1670.8 307.2h0M1681.8 304.5h0M1658.4 266.5h0M1652.9 315.9h0M1676.0 307.2h0M1666.9 306.1h0M1669.3 314.2h0M1664.1 312.3h0M1656.3 304.9h0M1658.6 309.0h0M1687.1 300.4h0M1683.0 316.0h0M1660.8 314.8h0M1677.8 275.7h0M1660.3 310.9h0M1663.1 304.6h0M1652.7 293.1h0M1663.6 316.1h0M1683.3 304.4h0M1681.9 295.9h0M1669.3 312.3h0M1682.1 311.0h0M1661.4 308.1h0M1668.7 303.0h0M1685.0 301.5h0M1654.9 309.7h0M1678.8 315.7h0M1659.0 296.9h0M1662.4 305.9h0M1677.2 307.6h0M1655.2 315.6h0M1683.2 313.0h0M1663.6 311.0h0M1653.6 305.1h0M1681.3 282.2h0M1664.1 305.8h0M1687.5 297.4h0M1669.6 285.3h0M1672.7 309.4h0M1673.9 316.0h0M1667.0 310.8h0M1681.9 309.5h0M1665.3 280.7h0M1655.2 316.1h0M1665.4 277.0h0M1669.8 312.8h0M1683.2 315.4h0M1682.4 317.4h0M1674.6 288.5h0M1675.0 315.2h0M1660.3 300.9h0M1662.3 290.0h0M1668.4 317.1h0M1679.7 304.0h0M1666.2 311.1h0M1686.7 317.1h0M1668.5 313.6h0M1675.8 311.8h0M1664.3 311.2h0M1664.3 315.1h0M1662.7 313.5h0M1662.6 313.4h0M1678.0 315.4h0M1688.1 317.3h0M1663.3 304.5h0M1676.9 314.3h0M1662.9 304.9h0M1666.4 300.9h0M1686.4 316.5h0M1677.6 315.4h0M1673.5 294.3h0M1676.1 296.1h0M1665.0 314.7h0M1672.6 313.5h0M1672.0 315.1h0M1660.1 308.3h0M1656.5 315.4h0M1655.7 305.8h0M1658.2 314.8h0M1684.5 310.4h0M1669.8 314.0h0M1671.7 302.3h0M1665.8 316.6h0M1659.2 305.4h0M1670.3 290.0h0M1660.6 305.0h0M1666.9 314.7h0M1679.2 314.1h0M1660.6 311.9h0M1668.3 317.3h0M1689.3 312.8h0M1665.9 316.8h0M1657.8 316.1h0M1655.0 309.8h0M1676.6 298.1h0M1662.1 300.9h0M1659.7 315.8h0M1685.0 303.7h0M1654.6 315.3h0M1658.4 307.7h0M1668.4 287.7h0M1683.8 314.6h0M1662.5 310.8h0M1667.5 301.4h0M1659.5 296.9h0M1674.4 312.9h0M1688.6 313.7h0M1681.3 283.2h0M1685.8 274.9h0M1668.9 302.4h0M1683.6 314.5h0M1669.3 291.4h0M1681.7 314.3h0M1681.4 316.9h0M1667.1 309.2h0M1673.9 308.1h0M1677.2 316.3h0M1659.9 310.9h0M1666.4 306.0h0M1657.3 310.5h0M1668.1 315.9h0M1686.4 289.7h0M1688.5 315.1h0M1653.2 305.6h0M1686.2 313.7h0M1663.4 300.8h0M1673.1 308.7h0M1679.0 310.4h0M1683.1 309.6h0M1670.4 293.4h0M1670.6 305.7h0M1672.2 289.7h0M1655.1 314.7h0M1658.5 296.6h0M1688.9 315.9h0M1663.0 315.2h0M1675.0 305.1h0M1661.9 299.6h0M1669.3 310.9h0M1666.0 311.8h0M1688.7 314.6h0M1665.5 277.4h0M1663.9 317.2h0M1685.0 312.8h0M1676.6 314.4h0M1657.0 315.6h0M1681.1 310.0h0M1677.2 304.3h0M1673.8 306.1h0M1659.5 316.0h0M1668.7 298.7h0M1660.7 302.2h0M1683.4 304.1h0M1656.3 316.7h0M1682.7 315.6h0M1653.1 308.9h0M1678.5 299.8h0M1679.1 308.6h0M1665.8 290.5h0M1662.3 311.8h0M1656.5 309.1h0M1678.1 310.5h0M1680.8 308.0h0M1684.7 306.8h0M1680.9 314.7h0M1687.6 308.9h0M1672.9 313.1h0M1684.0 307.6h0M1673.1 308.2h0M1681.8 270.4h0M1659.7 283.8h0M1662.9 312.2h0M1679.9 300.5h0M1665.1 314.3h0M1672.2 311.3h0M1667.4 314.4h0M1652.7 289.7h0M1665.4 292.2h0M1675.8 317.0h0M1659.0 313.2h0M1659.7 317.0h0M1681.1 311.0h0M1658.0 310.5h0M1677.8 299.0h0M1668.6 315.7h0M1653.7 308.8h0M1672.1 263.0h0M1672.2 305.6h0M1661.1 314.8h0M1659.4 298.5h0M1673.9 314.8h0M1665.8 315.1h0M1653.1 299.4h0M1681.2 314.2h0M1665.2 290.0h0M1662.2 305.4h0M1686.7 314.4h0M1681.7 314.2h0M1689.1 316.5h0M1658.8 305.6h0M1665.2 311.7h0M1684.5 316.4h0M1660.7 308.0h0M1661.1 311.8h0M1660.5 307.5h0M1681.9 288.9h0M1663.6 301.8h0M1663.9 293.9h0M1688.2 305.2h0M1667.7 313.7h0M1659.2 295.6h0M1687.3 305.2h0M1686.8 313.9h0M1655.4 311.3h0M1689.8 308.6h0M1683.7 307.1h0M1667.7 311.1h0M1661.3 313.0h0M1688.4 291.3h0M1675.3 305.2h0M1664.4 307.3h0M1686.2 317.4h0M1688.9 316.2h0M1667.5 304.0h0M1661.3 287.8h0M1681.1 316.6h0M1681.6 315.7h0M1682.3 313.7h0M1671.1 313.0h0M1657.8 312.4h0M1688.4 313.8h0M1682.5 300.4h0M1674.2 308.0h0M1688.7 312.0h0M1682.7 311.2h0M1664.5 259.0h0M1657.5 286.0h0M1680.2 316.2h0M1679.3 283.5h0M1681.0 291.7h0M1678.5 304.4h0M1686.4 290.3h0M1666.1 316.2h0M1666.5 317.0h0M1686.3 312.3h0M1689.0 317.0h0M1669.5 308.4h0M1666.2 305.1h0M1685.7 310.0h0M1664.5 301.9h0M1656.1 314.4h0M1670.8 297.6h0M1674.3 311.7h0M1675.8 289.7h0M1666.4 316.0h0M1672.5 316.7h0M1661.5 306.8h0M1669.2 316.1h0M1652.3 280.2h0M1684.0 307.5h0M1673.3 311.3h0M1688.7 268.7h0M1687.9 307.2h0M1677.0 290.6h0M1661.0 311.0h0M1673.6 314.0h0M1674.5 308.9h0M1687.0 311.6h0M1667.6 309.8h0M1653.3 295.9h0M1684.9 303.2h0M1662.0 308.1h0M1657.9 310.0h0M1672.0 306.2h0M1656.8 290.5h0M1655.7 304.5h0M1683.0 265.2h0M1661.2 314.0h0M1685.8 305.5h0M1656.5 308.3h0M1663.5 301.2h0M1656.2 304.6h0M1667.3 316.4h0M1661.8 301.2h0M1687.9 282.5h0M1653.8 295.5h0M1675.8 313.0h0M1653.7 304.8h0M1672.4 315.6h0M1672.4 317.3h0M1687.8 298.3h0M1679.8 265.7h0M1659.0 311.2h0M1688.2 293.5h0M1676.4 317.0h0M1670.9 309.7h0M1672.5 314.6h0M1660.6 314.4h0M1661.5 283.4h0M1658.6 315.8h0M1689.2 316.7h0M1653.5 312.9h0M1673.2 306.8h0M1684.9 291.9h0M1652.8 301.1h0M1660.5 308.2h0M1683.3 316.8h0M1672.7 289.9h0M1667.7 307.4h0M1681.1 313.4h0M1656.3 305.7h0M1653.1 290.4h0M1670.4 309.7h0M1657.6 310.1h0M1668.8 307.0h0M1655.8 314.6h0M1672.6 302.5h0M1687.6 312.9h0M1676.2 274.1h0M1683.7 313.5h0M1661.9 310.7h0M1671.1 316.7h0M1675.2 298.6h0M1659.0 308.0h0M1672.5 315.7h0M1684.5 316.6h0M1681.6 317.4h0M1685.8 314.8h0M1678.5 306.6h0M1677.6 302.6h0M1662.5 312.0h0M1674.5 305.0h0M1667.6 313.6h0M1675.8 317.2h0M1672.6 312.8h0M1678.0 314.0h0M1654.4 305.6h0M1664.3 317.4h0M1653.9 286.5h0M1671.2 316.6h0M1654.7 309.6h0M1663.0 314.8h0M1667.0 271.7h0M1668.6 310.9h0M1652.4 230.0h0M1652.3 253.9h0M1661.5 170.2h0M1666.4 307.6h0M1655.2 172.8h0M1657.2 244.9h0M1660.4 290.7h0M1660.9 246.0h0M1660.7 287.5h0M1660.6 176.0h0M1722.5 281.9h0M1679.2 293.7h0M1676.8 258.4h0M1652.3 253.3h0M1675.4 297.1h0M1719.9 312.4h0M1671.6 204.5h0M1676.9 309.9h0M1665.3 308.3h0M1680.4 280.0h0M1665.0 186.8h0M1699.2 286.7h0M1663.1 237.2h0M1665.2 304.6h0M1652.3 187.6h0M1698.9 273.4h0M1666.6 197.6h0M1659.8 293.0h0M1681.2 212.1h0M1667.6 269.6h0M1670.2 288.0h0M1662.7 313.0h0M1668.9 215.5h0M1660.4 226.9h0M1677.0 256.2h0M1655.9 269.0h0M1669.6 185.5h0M1652.7 308.5h0M1656.3 188.3h0M1655.5 253.7h0M1659.0 226.2h0M1662.7 295.3h0M1666.5 170.9h0M1689.6 286.1h0M1675.9 178.1h0M1675.5 265.3h0M1679.9 312.1h0M1668.2 298.8h0M1665.3 312.1h0M1658.6 261.1h0M1721.7 293.3h0M1683.5 294.9h0M1654.7 286.7h0M1673.5 270.8h0M1654.5 297.2h0M1674.1 158.4h0M1663.3 266.4h0M1694.8 266.5h0M1673.3 273.2h0M1684.2 299.9h0M1653.3 171.3h0M1673.6 312.2h0M1705.3 298.1h0M1663.8 312.4h0M1655.3 179.1h0M1675.3 271.6h0M1666.5 289.0h0M1654.0 291.4h0M1680.1 259.5h0M1680.9 311.0h0M1662.2 272.0h0M1652.7 243.2h0M1655.7 260.2h0M1679.7 313.3h0M1704.3 273.1h0M1660.8 310.8h0M1674.1 286.3h0M1670.1 292.9h0M1655.3 273.6h0M1656.9 260.8h0M1657.7 214.7h0M1688.9 270.0h0M1658.6 313.9h0M1678.4 291.7h0M1722.4 314.9h0M1670.2 198.9h0M1659.2 279.5h0M1657.9 316.9h0M1714.0 303.7h0M1695.7 292.9h0M1685.7 301.8h0M1657.3 268.2h0M1662.2 288.9h0M1655.9 315.7h0M1652.6 304.1h0M1656.6 170.7h0M1672.8 270.4h0M1653.7 285.1h0M1709.0 249.6h0M1695.2 301.2h0M1672.0 301.2h0M1671.6 272.9h0M1668.9 314.8h0M1657.2 291.3h0M1666.0 293.3h0M1661.1 267.2h0M1667.9 289.7h0M1660.3 253.8h0M1670.7 236.5h0M1670.9 310.4h0M1660.5 241.4h0M1675.7 188.4h0M1677.0 269.5h0M1670.0 298.9h0M1668.3 289.2h0M1659.9 299.1h0M1711.1 216.7h0M1659.1 262.1h0M1653.6 163.4h0M1658.1 166.7h0M1657.3 260.0h0M1674.3 267.2h0M1696.8 269.1h0M1664.5 284.0h0M1661.8 273.8h0M1685.2 316.8h0M1659.1 224.9h0M1654.4 179.7h0M1660.5 155.8h0M1657.4 198.8h0M1689.0 301.4h0M1667.9 222.3h0M1705.9 290.9h0M1694.4 232.9h0M1718.5 312.1h0M1663.7 251.2h0M1670.0 311.6h0M1668.4 157.3h0M1666.9 305.1h0M1662.5 311.9h0M1658.6 251.5h0M1655.6 261.5h0M1664.7 243.1h0M1658.4 301.7h0M1664.0 304.2h0M1667.7 285.9h0M1688.1 309.4h0M1666.4 296.6h0M1655.1 305.8h0M1667.7 270.9h0M1670.4 248.7h0M1704.4 308.4h0M1655.8 185.9h0M1653.9 228.9h0M1655.0 260.7h0M1654.8 306.4h0M1676.0 233.9h0M1655.3 288.6h0M1657.6 294.7h0M1683.1 238.0h0M1711.0 287.2h0M1654.9 289.2h0M1669.7 240.5h0M1679.7 247.9h0M1717.2 312.7h0M1660.8 270.3h0M1670.0 275.5h0M1657.7 287.9h0M1673.3 313.6h0M1685.2 314.0h0M1662.7 169.6h0M1656.1 257.5h0M1656.7 308.4h0M1670.1 177.2h0M1659.7 231.0h0M1690.4 310.1h0M1676.9 300.5h0M1661.8 306.8h0M1695.0 305.2h0M1661.8 181.3h0M1662.1 255.6h0M1668.9 220.5h0M1663.5 165.8h0M1652.5 166.8h0M1666.0 178.4h0M1655.5 310.3h0M1680.0 291.3h0M1658.4 170.5h0M1669.5 303.6h0M1668.5 260.0h0M1653.2 252.6h0M1669.4 305.3h0M1695.1 300.3h0M1667.7 293.6h0M1661.3 271.6h0M1657.8 276.5h0M1703.9 313.0h0M1680.0 205.3h0M1673.1 155.6h0M1680.9 261.8h0M1663.9 228.1h0M1706.9 312.0h0M1652.8 227.6h0M1654.9 270.4h0M1653.5 211.4h0M1654.6 308.2h0M1656.6 303.7h0M1690.8 214.2h0M1674.9 251.3h0M1662.9 302.0h0M1656.3 311.1h0M1654.0 289.4h0M1667.4 313.4h0M1667.8 273.7h0M1659.1 311.8h0M1662.0 179.2h0M1677.5 252.8h0M1659.0 303.6h0M1679.9 313.7h0M1663.9 287.0h0M1656.3 313.9h0M1659.0 252.1h0M1665.3 203.9h0M1657.1 288.8h0M1660.4 306.5h0M1658.5 263.5h0M1661.5 292.8h0M1680.5 253.2h0M1700.2 290.7h0M1668.7 260.8h0M1700.7 304.4h0M1688.3 287.8h0M1679.8 240.8h0M1658.7 247.7h0M1663.6 305.6h0M1660.0 307.5h0M1674.1 282.0h0M1670.0 309.8h0M1666.2 278.6h0M1668.2 277.1h0M1654.6 313.5h0M1660.4 308.6h0M1652.9 195.1h0M1656.2 298.5h0M1653.8 275.2h0M1666.4 303.3h0M1660.0 225.4h0M1673.8 227.8h0M1674.8 295.5h0M1655.0 316.8h0M1672.9 225.9h0M1675.1 266.9h0M1662.1 314.7h0M1663.5 309.8h0M1658.8 204.9h0M1668.9 177.2h0M1689.3 264.2h0M1703.9 312.7h0M1677.7 265.5h0M1667.3 309.8h0M1665.3 158.2h0M1675.8 172.8h0M1680.7 314.8h0M1661.9 181.9h0M1676.3 281.7h0M1663.7 283.1h0M1660.9 285.5h0M1664.2 256.1h0M1655.4 302.6h0M1671.0 266.8h0M1664.9 267.9h0M1658.9 259.0h0M1658.9 246.4h0M1659.1 275.5h0M1653.2 281.4h0M1663.6 250.8h0M1680.1 315.6h0M1659.6 296.9h0M1702.4 274.7h0M1703.6 295.2h0M1670.4 309.4h0M1676.4 301.5h0M1667.5 301.1h0M1665.8 284.3h0M1691.9 288.4h0M1679.6 303.1h0M1665.5 267.4h0M1659.3 276.9h0M1652.7 303.6h0M1659.8 231.0h0M1668.6 239.2h0M1654.1 296.8h0M1701.7 313.2h0M1655.9 250.5h0M1663.9 173.8h0M1688.8 280.9h0M1663.5 276.8h0M1664.7 218.9h0M1673.2 312.4h0M1683.7 194.9h0M1678.0 308.3h0M1695.0 312.3h0M1652.6 209.6h0M1674.4 232.9h0M1666.4 313.4h0M1653.0 225.7h0M1679.2 296.5h0M1679.4 294.0h0M1663.7 236.7h0M1674.2 259.3h0M1655.1 218.9h0M1680.8 249.2h0M1671.0 264.0h0M1719.5 310.3h0M1672.4 236.4h0M1664.3 294.5h0M1660.4 305.4h0M1682.8 283.3h0M1727.8 293.3h0M1667.3 310.8h0M1653.6 257.8h0M1654.7 232.3h0M1671.9 315.2h0M1689.3 269.9h0M1656.8 279.9h0M1673.4 190.0h0M1661.8 197.2h0M1705.3 219.8h0M1670.4 213.3h0M1653.7 208.9h0M1688.3 299.8h0M1687.8 299.5h0M1686.0 300.2h0M1667.5 255.0h0M1654.7 310.7h0M1660.3 275.5h0M1705.7 313.9h0M1675.4 311.4h0M1653.6 308.9h0M1694.7 270.8h0M1666.1 260.6h0M1670.7 311.5h0M1652.9 207.6h0M1653.7 251.2h0M1655.9 311.7h0M1653.5 269.2h0M1720.0 314.1h0M1663.2 292.2h0M1660.8 299.7h0M1655.1 167.3h0M1682.0 288.4h0M1674.4 273.1h0M1678.9 229.9h0M1653.3 234.4h0M1678.0 314.3h0M1666.7 205.9h0M1673.2 290.6h0M1684.3 204.0h0M1657.2 294.9h0M1684.7 253.5h0M1722.9 295.4h0M1661.3 311.3h0M1652.5 273.3h0M1662.9 311.8h0M1657.0 155.2h0M1678.0 294.9h0M1696.4 264.4h0M1673.9 252.8h0M1658.2 253.5h0M1652.3 283.1h0M1656.1 308.5h0M1676.5 286.7h0M1659.4 200.9h0M1671.5 251.3h0M1696.2 310.5h0M1663.5 313.0h0M1677.2 244.5h0M1652.9 280.8h0M1653.7 169.4h0M1669.8 300.7h0M1674.9 168.2h0M1691.4 298.3h0M1652.7 277.0h0M1658.0 220.7h0M1659.8 174.6h0M1701.9 291.6h0M1652.9 179.7h0M1688.7 312.1h0M1676.8 313.0h0M1659.5 291.9h0M1655.5 231.6h0M1706.1 308.4h0M1654.9 289.9h0M1684.4 299.9h0M1660.3 163.2h0M1669.9 287.1h0M1690.8 311.9h0M1656.5 239.1h0M1665.0 239.4h0M1683.9 264.3h0M1655.9 211.0h0M1657.3 310.1h0M1658.9 280.3h0M1665.5 309.8h0M1671.2 289.4h0M1685.7 243.8h0M1669.8 250.8h0M1716.6 248.8h0M1653.9 297.1h0M1659.4 303.4h0M1657.8 310.0h0M1668.9 188.4h0M1659.9 180.7h0M1690.2 282.7h0M1689.7 306.0h0M1670.0 254.7h0M1657.9 260.1h0M1681.6 286.5h0M1690.5 290.1h0M1678.8 310.0h0M1672.0 312.9h0M1652.8 256.0h0M1716.8 315.4h0M1663.5 204.2h0M1687.1 284.5h0M1668.5 268.7h0M1672.5 303.3h0M1657.2 263.6h0M1673.0 226.7h0M1658.3 301.5h0M1654.0 193.9h0M1652.8 317.2h0M1663.2 201.5h0M1726.8 310.7h0M1660.4 309.5h0M1654.9 299.6h0M1681.9 258.2h0M1674.9 235.3h0M1666.5 297.8h0M1683.0 304.7h0M1652.6 190.1h0M1686.8 300.2h0M1716.0 293.5h0M1667.0 296.3h0M1695.7 282.4h0M1658.7 288.9h0M1658.9 287.2h0M1704.2 289.9h0M1670.8 235.8h0M1653.5 236.7h0M1681.0 314.0h0M1702.6 295.4h0M1662.1 191.0h0M1725.0 317.4h0M1658.3 264.8h0M1658.9 221.3h0M1660.7 269.4h0M1662.2 209.1h0M1666.9 286.2h0M1690.9 294.4h0M1654.1 214.7h0M1693.5 316.2h0M1660.1 219.1h0M1676.3 274.4h0M1674.1 202.1h0M1668.5 288.0h0M1656.6 284.9h0M1684.2 227.8h0M1660.7 298.1h0M1724.4 316.8h0M1661.5 279.6h0M1674.8 315.9h0M1673.7 316.0h0M1656.6 270.3h0M1679.5 307.3h0M1672.2 316.8h0M1655.5 287.4h0M1653.8 174.2h0M1668.4 205.9h0M1664.1 261.5h0M1659.4 238.8h0M1687.9 295.6h0M1660.2 208.9h0M1682.9 203.7h0M1662.0 288.0h0M1665.5 257.0h0M1673.3 216.6h0M1670.9 300.7h0M1680.2 243.4h0M1686.3 313.5h0M1661.9 178.2h0M1661.6 305.3h0M1653.0 209.6h0M1652.8 280.3h0M1663.8 305.1h0M1663.7 224.8h0M1653.7 283.8h0M1673.0 262.3h0M1667.8 296.7h0M1664.6 294.8h0M1664.2 309.7h0M1687.1 308.5h0M1653.0 289.2h0M1652.4 214.7h0M1655.5 307.8h0M1660.8 282.3h0M1679.7 301.3h0M1671.0 278.9h0M1682.6 305.0h0M1710.8 279.1h0M1670.7 267.6h0M1672.1 316.8h0M1693.8 292.1h0M1656.4 281.6h0M1676.3 235.1h0M1656.9 278.6h0M1676.3 278.5h0M1738.5 317.2h0M1771.2 316.3h0M1697.9 313.9h0M1699.3 316.6h0M1765.0 316.2h0M1732.5 315.9h0M1716.4 316.1h0M1735.2 314.0h0M1782.1 316.0h0M1786.3 315.5h0M1726.7 317.1h0M1708.8 317.2h0M1713.7 316.8h0M1763.8 314.7h0M1764.5 313.8h0M1792.1 313.9h0M1721.1 317.2h0M1753.8 316.8h0M1796.0 315.7h0M1792.1 315.5h0M1763.3 315.8h0M1741.7 315.8h0M1780.7 316.2h0M1778.1 312.4h0M1779.0 315.5h0M1754.5 317.1h0M1750.5 316.9h0M1715.1 314.7h0M1717.8 317.0h0M1782.7 315.5h0M1784.7 316.0h0M1787.4 315.5h0M1785.5 315.2h0M1726.6 316.8h0M1701.8 316.5h0M1697.8 315.0h0M1717.7 316.9h0M1731.5 316.6h0M1789.9 315.9h0M1728.0 316.5h0M1745.6 315.2h0M1748.3 316.2h0M1762.2 316.6h0M1737.7 317.0h0M1702.1 314.1h0M1762.9 316.9h0M1781.1 315.8h0M1734.6 315.7h0M1722.0 316.1h0M1774.4 315.5h0M1707.8 317.1h0M1771.3 315.8h0M1729.1 314.6h0M1749.6 313.0h0M1709.7 315.5h0M1796.3 315.5h0M1711.6 316.6h0M1724.4 316.4h0M1701.3 317.2h0M1700.1 317.1h0M1726.7 315.7h0M1752.8 317.1h0M1754.3 313.2h0M1793.8 315.6h0M1765.3 316.9h0M1783.2 315.8h0M1758.1 314.9h0M1738.4 316.9h0M1696.0 316.2h0M1762.5 316.0h0M1698.9 316.8h0M1719.6 317.1h0M1701.9 317.0h0M1782.9 314.3h0M1755.7 316.9h0M1725.4 315.0h0M1704.8 317.1h0M1792.1 315.5h0M1793.1 315.5h0M1700.6 316.9h0M1782.8 314.3h0M1755.8 316.5h0M1737.4 316.8h0M1791.3 315.4h0M1701.6 316.4h0M1730.4 316.9h0M1792.0 314.8h0M1740.0 314.8h0M1709.8 317.0h0M1795.1 315.6h0M1770.1 316.4h0M1701.3 314.4h0M1767.7 316.5h0M1712.5 316.0h0M1771.3 316.4h0M1694.0 316.8h0M1748.9 316.9h0M1773.0 316.0h0M1713.3 316.5h0M1704.7 316.0h0M1795.3 315.5h0M1708.9 316.4h0M1716.2 317.1h0M1744.3 317.0h0M1763.4 316.3h0M1713.9 314.9h0M1748.8 315.7h0M1774.9 316.3h0M1713.9 316.9h0M1745.2 316.0h0M1703.1 316.9h0M1691.6 315.7h0M1790.4 315.0h0M1753.2 316.7h0M1725.2 316.8h0M1689.9 317.0h0M1741.5 316.8h0M1756.5 317.1h0M1731.5 314.7h0M1713.6 313.0h0M1690.1 313.9h0M1794.7 313.4h0M1797.6 312.0h0M1744.1 315.6h0M1709.4 315.6h0M1708.2 315.4h0M1772.9 315.5h0M1773.8 316.2h0M1777.3 314.0h0M1758.8 316.1h0M1715.2 316.7h0M1766.9 316.0h0M1749.2 317.1h0M1691.5 316.6h0M1778.7 311.7h0M1705.2 313.5h0M1720.2 313.7h0M1734.7 315.7h0M1751.5 316.2h0M1697.0 317.1h0M1787.8 316.0h0M1756.3 314.3h0M1758.8 316.4h0M1766.3 315.4h0M1721.4 317.1h0M1723.2 316.3h0M1713.2 316.8h0M1740.2 316.8h0M1759.8 314.5h0M1747.9 315.7h0M1715.0 315.1h0M1782.6 316.1h0M1691.6 316.7h0M1716.8 317.2h0M1707.5 315.6h0M1742.8 316.3h0M1743.6 317.1h0M1796.3 313.0h0M1738.2 314.0h0M1762.7 316.5h0M1702.5 313.0h0M1694.0 316.7h0M1725.0 316.0h0M1731.5 317.2h0M1732.1 317.2h0M1753.4 314.6h0M1761.8 314.0h0M1750.9 316.5h0M1751.6 317.2h0M1723.9 316.6h0M1748.3 315.0h0M1766.2 316.5h0M1796.4 314.8h0M1697.7 316.5h0M1721.7 316.7h0M1755.9 315.5h0M1768.0 314.0h0M1751.7 317.1h0M1753.2 315.2h0M1725.7 313.7h0M1697.5 316.3h0M1714.3 316.4h0M1715.6 316.5h0M1710.1 314.7h0M1789.4 315.3h0M1708.3 316.5h0M1711.9 314.7h0M1781.0 316.2h0M1705.6 316.2h0M1717.6 317.1h0M1708.6 317.2h0M1783.3 316.1h0M1697.6 316.9h0M1692.7 315.8h0M1772.5 315.9h0M1796.1 313.2h0M1752.6 317.1h0M1770.9 316.7h0M1793.1 314.3h0M1762.8 316.9h0M1777.0 315.0h0M1791.7 315.3h0M1730.2 315.2h0M1735.7 316.2h0M1771.3 316.5h0M1751.0 315.7h0M1796.0 315.4h0M1726.3 316.6h0M1707.8 317.2h0M1761.3 315.8h0M1735.0 317.1h0M1733.6 317.1h0M1757.4 317.2h0M1719.6 317.2h0M1744.2 314.8h0M1763.8 316.9h0M1704.7 316.2h0M1699.4 316.4h0M1693.9 317.1h0M1785.3 315.6h0M1724.5 317.2h0M1768.8 316.0h0M1767.1 316.8h0M1731.3 316.9h0M1690.8 316.7h0M1746.9 316.6h0M1767.8 316.3h0M1740.9 317.0h0M1733.6 317.0h0M1736.4 316.2h0M1705.0 314.7h0M1714.3 316.2h0M1717.1 289.2h0M1695.6 315.5h0M1706.1 309.1h0M1715.5 315.4h0M1714.2 317.1h0M1706.4 310.8h0M1701.4 309.3h0M1700.1 301.7h0M1703.2 313.4h0M1711.1 294.2h0M1715.3 287.2h0M1720.2 307.5h0M1689.4 301.5h0M1718.8 285.5h0M1703.4 316.4h0M1705.5 315.9h0M1698.8 315.5h0M1717.4 272.7h0M1716.8 306.2h0M1718.7 285.2h0M1703.1 311.8h0M1698.8 315.3h0M1716.5 313.0h0M1702.6 291.7h0M1709.8 316.8h0M1705.7 314.4h0M1715.2 306.9h0M1704.1 299.1h0M1719.5 310.9h0M1712.5 316.0h0M1721.1 317.1h0M1710.9 311.6h0M1692.1 316.3h0M1702.3 316.0h0M1714.7 289.8h0M1704.2 315.5h0M1690.1 306.9h0M1702.6 302.9h0M1699.3 313.7h0M1710.4 285.9h0M1704.0 298.4h0M1689.6 308.6h0M1715.2 310.5h0M1691.6 304.5h0M1722.0 312.0h0M1693.2 308.0h0M1690.8 268.6h0M1710.2 309.5h0M1691.2 311.9h0M1688.7 316.2h0M1705.2 313.4h0M1704.9 302.8h0M1690.2 280.0h0M1710.1 307.4h0M1690.0 276.4h0M1701.6 314.5h0M1712.6 309.4h0M1695.7 316.8h0M1593.5 270.2h0M1586.3 285.2h0M1601.4 246.4h0M1604.0 300.7h0M1593.9 295.8h0M1596.1 274.9h0M1602.5 226.9h0M1604.2 276.3h0M1604.3 314.6h0M1604.1 312.2h0M1600.1 302.6h0M1600.0 251.0h0M1602.2 316.3h0M1586.9 249.4h0M1600.3 315.0h0M1590.8 229.3h0M1602.0 312.6h0M1604.0 303.3h0M1603.0 305.9h0M1602.1 271.6h0M1601.6 312.9h0M1599.7 299.0h0M1603.9 299.9h0M1602.5 309.7h0M1600.8 253.8h0M1601.5 260.6h0M1600.6 307.7h0M1602.4 251.5h0M1593.9 241.4h0M1591.0 310.1h0M1604.2 284.9h0M1599.8 306.4h0M1602.9 280.6h0M1596.6 313.6h0M1602.3 306.9h0M1602.6 276.6h0M1604.2 306.4h0M1596.2 316.1h0M1601.4 215.5h0M1585.2 283.1h0M1596.4 290.1h0M1601.6 317.3h0M1603.8 297.3h0M1592.6 303.6h0M1600.6 314.1h0M1599.4 249.0h0M1583.0 316.6h0M1602.9 300.0h0M1601.0 246.6h0M1597.7 292.2h0M1603.3 285.8h0M1600.7 284.9h0M1604.3 304.2h0M1602.3 303.1h0M1600.7 273.3h0M1600.5 311.5h0M1600.9 293.7h0M1604.1 292.9h0M1600.1 288.4h0M1598.5 277.2h0M1603.9 307.2h0M1602.7 289.3h0M1593.0 305.1h0M1602.8 295.7h0M1592.6 280.2h0M1592.8 222.9h0M1602.7 238.0h0M1603.4 293.4h0M1603.2 314.8h0M1602.3 283.2h0M1598.2 313.2h0M1602.1 220.6h0M1599.7 269.2h0M1560.5 314.6h0M1604.1 267.9h0M1595.6 307.3h0M1595.8 284.1h0M1602.2 284.4h0M1596.3 297.6h0M1600.3 311.7h0M1603.9 316.3h0M1595.7 260.2h0M1601.1 314.9h0M1591.6 295.6h0M1599.8 281.3h0M1603.0 239.4h0M1600.0 291.0h0M1602.1 293.9h0M1588.7 312.9h0M1603.1 283.5h0M1597.9 298.7h0M1597.1 296.3h0M1603.1 307.6h0M1602.4 305.0h0M1603.5 250.3h0M1602.2 312.0h0M1603.7 299.5h0M1604.0 301.3h0M1603.5 299.5h0M1603.6 310.1h0M1587.9 316.8h0M1600.7 268.5h0M1596.9 313.7h0M1602.4 294.2h0M1597.5 245.9h0M1600.3 313.9h0M1604.1 293.7h0M1593.6 309.7h0M1598.2 278.0h0M1604.3 312.0h0M1600.8 310.8h0M1603.8 287.7h0M1603.5 290.5h0M1576.9 317.2h0M1602.9 315.1h0M1601.0 274.1h0M1597.0 307.3h0M1602.3 295.6h0M1600.3 315.9h0M1591.8 271.3h0M1597.4 315.6h0M1600.2 313.9h0M1590.7 312.4h0M1603.8 297.4h0M1600.8 301.3h0M1597.6 294.5h0M1601.5 257.7h0M1603.1 296.7h0M1604.0 273.1h0M1603.2 294.1h0M1598.1 315.7h0M1603.9 298.0h0M1599.5 311.9h0M1602.2 235.4h0M1598.9 312.7h0M1599.4 309.3h0M1596.0 223.0h0M1602.9 280.2h0M1596.8 313.2h0M1587.6 254.8h0M1604.1 310.3h0M1597.6 304.0h0M1603.6 317.3h0M1592.8 236.8h0M1601.3 279.2h0M1602.5 299.3h0M1599.5 237.7h0M1591.5 274.3h0M1600.4 306.3h0M1584.1 279.1h0M1587.0 308.6h0M1601.1 300.6h0M1601.5 256.1h0M1600.9 279.8h0M1600.7 250.3h0M1595.1 307.8h0M1571.4 262.1h0M1596.1 285.1h0M1601.3 313.9h0M1603.8 305.4h0M1599.2 258.5h0M1601.9 283.2h0M1599.6 251.3h0M1597.4 308.3h0M1589.6 316.2h0M1601.9 317.1h0M1599.4 316.8h0M1603.9 293.1h0M1593.4 265.7h0M1600.8 263.3h0M1599.8 258.4h0M1603.8 317.1h0M1598.4 308.0h0M1599.9 279.0h0M1600.6 308.1h0M1589.0 304.2h0M1601.3 297.1h0M1604.1 295.6h0M1599.4 312.8h0M1598.1 300.9h0M1589.3 304.4h0M1603.9 245.1h0M1602.6 226.7h0M1598.7 305.8h0M1600.7 271.7h0M1593.5 314.0h0M1602.5 315.4h0M1600.6 308.9h0M1602.6 287.3h0M1586.0 311.6h0M1600.5 302.2h0M1600.0 306.7h0M1603.3 308.2h0M1591.5 298.5h0M1603.2 244.5h0M1603.7 293.0h0M1603.3 314.0h0M1601.0 259.0h0M1596.4 296.9h0M1602.3 307.2h0M1604.1 310.7h0M1594.6 305.1h0M1594.4 227.3h0M1598.4 308.3h0M1601.4 314.5h0M1603.0 305.8h0M1604.1 262.6h0M1600.7 305.6h0M1599.3 300.7h0M1602.4 304.2h0M1601.3 307.6h0M1602.0 300.1h0M1594.2 270.7h0M1594.0 299.9h0M1588.6 316.5h0M1594.6 286.1h0M1604.2 264.4h0M1602.3 291.2h0M1604.0 288.0h0M1598.8 305.6h0M1602.2 272.5h0M1602.5 296.6h0M1602.4 306.7h0M1600.0 263.9h0M1595.9 304.1h0M1603.5 312.3h0M1585.3 315.3h0M1595.6 311.8h0M1602.8 275.1h0M1602.8 302.2h0M1589.9 287.1h0M1601.4 223.0h0M1592.6 234.3h0M1600.5 314.4h0M1602.4 312.4h0M1602.6 313.4h0M1598.6 274.8h0M1604.2 269.5h0M1595.9 297.7h0M1583.7 315.1h0M1604.1 314.6h0M1603.5 276.2h0M1599.2 314.4h0M1595.3 282.0h0M1599.9 309.2h0M1599.5 316.5h0M1601.4 294.2h0M1598.3 296.1h0M1603.1 285.3h0M1600.7 286.3h0M1582.3 249.6h0M1602.3 276.7h0M1603.1 305.9h0M1604.0 273.6h0M1603.0 266.9h0M1599.6 268.4h0M1598.2 312.4h0M1597.5 270.0h0M1601.4 273.8h0M1602.3 315.3h0M1600.7 316.0h0M1602.0 243.3h0M1594.2 278.2h0M1601.7 313.6h0M1600.5 315.6h0M1596.8 271.5h0M1603.9 307.1h0M1600.4 304.1h0M1598.2 317.1h0M1597.1 286.8h0M1603.0 315.8h0M1603.6 313.4h0M1601.1 313.3h0M1604.3 304.7h0M1595.6 291.9h0M1602.8 308.4h0M1601.6 302.2h0M1599.4 312.8h0M1599.5 289.0h0M1594.1 269.7h0M1596.8 292.8h0M1604.1 252.8h0M1598.9 291.6h0M1602.0 315.6h0M1603.7 249.7h0M1601.1 303.6h0M1592.5 299.0h0M1602.3 303.4h0M1600.8 290.7h0M1597.9 317.0h0M1597.1 282.3h0M1591.2 305.7h0M1602.6 264.4h0M1591.3 280.5h0M1602.6 297.6h0M1600.0 309.0h0M1599.8 291.7h0M1601.3 309.7h0M1594.6 315.4h0M1601.0 290.6h0M1581.8 312.7h0M1588.8 288.3h0M1604.1 307.0h0M1603.6 257.3h0M1598.8 254.4h0M1604.1 301.6h0M1594.2 313.9h0M1602.2 290.5h0M1593.9 311.1h0M1603.0 317.0h0M1600.0 288.3h0M1604.1 314.2h0M1601.1 289.6h0M1604.1 256.2h0M1600.2 290.4h0M1599.0 304.5h0M1599.7 303.9h0M1597.4 297.4h0M1604.0 304.6h0M1604.0 254.2h0M1603.9 301.3h0M1597.5 302.6h0M1604.2 311.7h0M1601.6 309.8h0M1595.2 311.1h0M1588.8 285.0h0M1603.0 302.4h0M1599.8 313.1h0M1592.2 313.8h0M1598.4 297.7h0M1594.8 315.6h0M1603.6 294.3h0M1602.8 310.0h0M1602.4 276.2h0M1600.4 313.7h0M1599.0 313.1h0M1604.3 309.1h0M1601.8 298.8h0M1602.9 313.5h0M1595.4 314.9h0M1600.5 270.8h0M1602.1 287.0h0M1602.7 287.9h0M1603.9 224.0h0M1589.5 225.5h0M1598.5 300.5h0M1599.3 271.0h0M1593.0 298.6h0M1602.2 312.1h0M1602.5 283.0h0M1603.9 290.7h0M1604.1 274.4h0M1603.0 301.0h0M1594.2 278.7h0M1603.7 286.2h0M1603.0 290.5h0M1601.0 298.1h0M1599.1 302.6h0M1596.5 290.0h0M1602.8 311.4h0M1598.9 295.1h0M1603.4 301.9h0M1591.2 302.6h0M1602.5 290.1h0M1604.0 305.5h0M1591.4 317.1h0M1603.6 305.8h0M1603.0 317.0h0M1600.6 291.0h0M1604.2 281.3h0M1600.2 289.4h0M1602.9 289.3h0M1567.7 253.0h0M1602.0 277.0h0M1601.6 290.5h0M1598.4 301.8h0M1603.1 278.3h0M1601.1 296.9h0M1602.2 295.5h0M1599.5 267.2h0M1598.1 295.0h0M1594.6 276.2h0M1596.6 315.2h0M1590.8 300.9h0M1602.7 278.5h0M1603.3 290.3h0M1604.0 285.7h0M1596.5 280.8h0M1600.4 274.4h0M1603.1 299.6h0M1600.1 308.8h0M1590.9 241.1h0M1602.3 280.5h0M1600.5 281.6h0M1600.1 272.6h0M1594.2 232.0h0M1600.8 278.6h0M1595.2 309.8h0M1589.4 315.1h0M1601.2 315.9h0M1593.2 279.4h0M1604.0 306.4h0M1598.1 311.1h0M1603.3 307.4h0M1601.7 298.0h0M1602.9 308.3h0M1591.6 316.8h0M1603.2 311.5h0M1600.8 288.5h0M1600.9 234.4h0M1600.9 315.0h0M1603.7 291.9h0M1603.8 276.9h0M1598.0 309.8h0M1587.4 218.0h0M1602.0 313.7h0M1601.1 308.3h0M1595.6 314.2h0M1600.8 303.1h0M1595.5 303.4h0M1601.4 304.5h0M1601.6 280.2h0M1602.1 296.4h0M1601.5 284.7h0M1602.3 233.7h0M1603.9 314.8h0M1602.9 311.4h0M1603.7 312.8h0M1584.5 307.1h0M1593.2 251.8h0M1601.3 275.0h0M1597.2 289.0h0M1599.8 291.4h0M1603.9 289.2h0M1599.5 256.4h0M1596.8 298.7h0M1599.4 308.8h0M1602.9 313.2h0M1599.7 308.0h0M1603.0 280.8h0M1592.7 314.3h0M1583.4 305.6h0M1601.4 285.4h0M1591.9 264.2h0M1594.7 290.8h0M1600.4 316.4h0M1592.1 308.6h0M1599.1 316.5h0M1595.5 312.0h0M1604.0 307.9h0M1598.5 292.4h0M1602.6 302.8h0M1604.3 312.4h0M1603.8 226.8h0M1603.2 287.5h0M1599.0 315.8h0M1596.7 271.4h0M1596.9 315.2h0M1604.0 287.5h0M1587.8 281.1h0M1604.2 286.6h0M1603.8 311.7h0M1601.7 284.0h0M1602.1 309.5h0M1597.3 306.0h0M1601.9 315.6h0M1602.6 277.5h0M1604.3 297.0h0M1602.6 287.7h0M1602.9 299.4h0M1598.9 240.4h0M1603.6 297.9h0M1603.6 311.1h0M1603.1 301.3h0M1596.1 222.9h0M1592.6 315.3h0M1603.8 294.1h0M1600.5 314.3h0M1600.7 241.5h0M1601.0 301.2h0M1602.2 289.9h0M1587.6 292.7h0M1602.1 284.0h0M1600.3 291.3h0M1601.7 315.3h0M1596.9 307.5h0M1604.0 305.0h0M1603.1 282.4h0M1604.2 266.4h0M1599.7 315.1h0M1597.5 303.2h0M1599.6 308.1h0M1603.5 306.4h0M1598.7 298.0h0M1597.2 277.7h0M1601.9 316.8h0M1593.6 313.6h0M1603.4 307.6h0M1598.1 302.3h0M1601.6 313.3h0M1596.6 279.6h0M1599.2 252.5h0M1604.1 269.0h0M1596.6 299.5h0M1596.2 232.3h0M1604.1 278.9h0M1602.7 317.2h0M1595.5 254.3h0M1596.3 295.6h0M1600.0 315.4h0M1598.7 308.6h0M1595.5 315.7h0M1603.2 309.3h0M1600.4 307.4h0M1601.9 298.6h0M1603.5 296.1h0M1604.2 301.8h0M1599.6 296.7h0M1604.2 296.9h0M1592.2 304.7h0M1602.7 267.3h0M1594.8 271.3h0M1601.1 311.1h0M1603.7 289.4h0M1603.5 287.1h0M1603.6 301.2h0M1598.9 288.2h0M1602.4 292.6h0M1592.6 276.7h0M1601.2 317.0h0M1603.9 311.8h0M1604.2 285.6h0M1599.2 316.8h0M1586.7 300.4h0M1592.4 312.0h0M1598.6 238.4h0M1598.2 308.7h0M1590.2 307.0h0M1601.7 298.6h0M1602.6 256.8h0M1601.0 315.2h0M1602.3 278.0h0M1592.4 316.4h0M1597.3 261.0h0M1604.3 295.6h0M1592.2 289.7h0M1590.2 282.8h0M1602.9 263.1h0M1600.9 314.7h0M1593.3 313.0h0M1603.9 286.4h0M1600.0 296.3h0M1602.5 304.3h0M1601.5 248.3h0M1600.2 258.7h0M1600.1 306.4h0M1603.6 297.5h0M1602.0 286.0h0M1602.6 215.7h0M1600.1 277.7h0M1603.2 266.1h0M1602.1 314.1h0M1601.3 312.1h0M1601.2 248.8h0M1601.8 311.6h0M1597.6 305.7h0M1599.8 271.4h0M1602.8 310.9h0M1603.7 287.4h0M1604.0 244.2h0M1604.0 263.4h0M1596.5 277.7h0M1584.0 304.5h0M1598.0 292.9h0M1604.3 295.5h0M1598.6 307.6h0M1602.6 315.3h0M1604.2 312.8h0M1602.4 297.6h0M1597.9 313.7h0M1591.0 264.4h0M1601.2 315.1h0M1603.6 291.0h0M1602.1 245.2h0M1599.5 284.6h0M1594.6 298.3h0M1601.6 288.2h0M1603.8 312.5h0M1603.8 275.2h0M1599.3 312.4h0M1593.4 313.5h0M1603.2 306.6h0M1596.5 291.3h0M1576.7 279.4h0M1596.4 281.3h0M1597.3 296.6h0M1588.2 279.5h0M1600.6 290.8h0M1600.9 305.9h0M1598.6 266.8h0M1598.8 316.6h0M1601.8 302.6h0M1582.6 308.0h0M1602.6 316.2h0M1604.2 305.7h0M1601.5 294.6h0M1604.1 232.0h0M1594.9 312.7h0M1601.2 281.1h0M1603.8 310.6h0M1603.0 295.6h0M1597.4 271.6h0M1603.8 305.1h0M1603.8 308.3h0M1596.2 299.3h0M1602.5 302.8h0M1598.2 315.5h0M1595.5 257.2h0M1601.3 313.2h0M1598.5 269.7h0M1584.0 268.1h0M1603.0 312.9h0M1589.2 260.4h0M1598.5 316.5h0M1603.7 293.4h0M1587.8 280.1h0M1599.9 292.1h0M1601.0 264.5h0M1601.1 255.2h0M1601.3 299.8h0M1581.1 286.9h0M1601.5 310.8h0M1601.6 316.9h0M1601.6 304.7h0M1595.7 307.0h0M1597.3 292.7h0M1599.6 273.2h0M1593.4 314.0h0M1602.6 317.1h0M1599.8 316.6h0M1602.5 250.5h0M1601.7 303.3h0M1602.7 273.4h0M1600.6 299.1h0M1594.2 313.1h0M1604.2 253.0h0M1596.3 279.2h0M1595.9 296.9h0M1603.8 312.0h0M1597.9 313.9h0M1599.6 303.2h0M1590.8 276.2h0M1602.1 314.4h0M1600.3 289.0h0M1604.1 299.2h0M1603.5 306.9h0M1597.2 244.6h0M1603.8 305.9h0M1600.6 236.2h0M1592.8 272.5h0M1603.4 277.6h0M1598.5 317.0h0M1601.6 297.6h0M1603.3 313.2h0M1602.2 297.3h0M1602.7 297.0h0M1592.8 300.0h0M1601.8 285.3h0M1593.2 314.5h0M1595.2 249.3h0M1591.6 312.1h0M1592.6 306.5h0M1602.1 308.5h0M1596.3 289.3h0M1603.5 307.8h0M1599.8 267.0h0M1599.5 286.6h0M1602.4 263.0h0M1599.4 291.6h0M1602.6 293.8h0M1602.3 303.5h0M1589.7 301.3h0M1603.2 302.9h0M1603.0 282.6h0M1603.1 282.6h0M1601.1 302.7h0M1599.7 311.4h0M1602.3 313.7h0M1599.1 248.9h0M1604.0 309.1h0M1603.7 296.5h0M1595.0 313.4h0M1595.2 303.5h0M1600.4 291.6h0M1590.0 236.2h0M1584.0 293.0h0M1588.1 273.7h0M1599.9 292.2h0M1602.4 313.3h0M1601.2 309.8h0M1604.3 240.3h0M1603.1 220.6h0M1600.7 309.6h0M1601.7 315.4h0M1600.2 307.4h0M1604.3 311.0h0M1601.5 246.5h0M1603.0 267.4h0M1601.3 305.9h0M1601.8 297.4h0M1602.3 291.0h0M1597.0 255.4h0M1601.5 293.0h0M1603.5 297.1h0M1593.3 312.1h0M1602.8 304.6h0M1600.2 303.9h0M1582.7 294.1h0M1593.5 310.5h0M1602.9 295.8h0M1604.3 282.7h0M1602.3 282.0h0M1600.6 265.0h0M1603.2 237.2h0M1583.9 303.0h0M1600.1 302.4h0M1596.5 279.1h0M1604.2 306.2h0M1599.4 248.4h0M1602.3 274.7h0M1595.6 298.8h0M1598.1 278.4h0M1598.7 264.8h0M1604.0 266.7h0M1604.0 292.4h0M1602.0 296.6h0M1594.8 308.5h0M1600.7 277.9h0M1600.4 294.7h0M1603.9 301.8h0M1595.6 317.1h0M1596.6 305.5h0M1603.3 276.9h0M1598.3 280.2h0M1597.2 278.3h0M1579.7 263.3h0M1604.0 315.6h0M1598.9 306.4h0M1602.2 247.9h0M1602.9 302.7h0M1586.4 285.8h0M1599.6 311.7h0M1595.9 303.1h0M1587.9 304.9h0M1601.8 302.5h0M1591.8 279.0h0M1599.5 317.1h0M1603.4 306.5h0M1597.7 306.0h0M1602.1 302.2h0M1604.3 269.9h0M1602.5 222.1h0M1591.9 292.6h0M1599.6 282.1h0M1599.6 294.5h0M1598.1 292.8h0M1595.3 297.1h0M1602.3 312.7h0M1602.5 304.2h0M1602.3 295.4h0M1599.4 306.2h0M1601.1 284.2h0M1569.0 312.0h0M1604.0 284.0h0M1596.5 278.9h0M1602.2 316.0h0M1602.0 267.5h0M1603.1 286.8h0M1602.1 251.1h0M1604.3 291.6h0M1602.6 280.7h0M1600.4 302.5h0M1582.1 300.5h0M1598.9 289.1h0M1602.4 292.7h0M1601.4 290.2h0M1598.5 314.9h0M1602.7 293.6h0M1593.6 301.9h0M1595.7 293.6h0M1595.2 242.6h0M1602.3 304.0h0M1604.1 273.0h0M1600.6 258.4h0M1603.8 300.9h0M1594.9 311.6h0M1600.3 258.2h0M1596.5 311.5h0M1601.3 304.7h0M1601.4 315.9h0M1559.7 313.1h0M1561.7 311.3h0M1601.0 315.4h0M1596.7 316.0h0M1566.5 308.8h0M1603.4 309.3h0M1574.1 307.9h0M1601.8 307.4h0M1587.1 306.6h0M1565.5 314.2h0M1574.3 314.7h0M1599.8 312.6h0M1580.7 316.4h0M1584.9 312.3h0M1590.9 315.5h0M1602.9 310.3h0M1565.1 287.3h0M1581.5 315.1h0M1586.4 312.2h0M1582.0 302.2h0M1588.8 312.3h0M1556.1 317.4h0M1557.4 315.7h0M1579.1 315.9h0M1590.1 314.5h0M1572.0 313.0h0M1599.8 310.2h0M1585.7 301.3h0M1569.4 302.8h0M1589.6 317.4h0M1601.7 316.7h0M1604.2 298.6h0M1566.8 305.0h0M1591.1 317.3h0M1564.0 309.2h0M1591.5 310.6h0M1556.4 317.1h0M1572.9 315.9h0M1580.4 308.3h0M1598.0 316.2h0M1583.4 315.8h0M1571.9 306.2h0M1563.7 311.9h0M1577.9 311.4h0M1590.2 310.6h0M1595.6 301.7h0M1566.5 309.8h0M1581.2 312.5h0M1581.9 311.4h0M1600.4 313.8h0M1584.1 305.0h0M1600.2 305.7h0M1557.6 298.4h0M1590.6 316.0h0M1596.7 308.3h0M1569.2 316.6h0M1569.7 316.4h0M1560.8 314.8h0M1560.5 313.6h0M1598.3 309.0h0M1597.2 317.3h0M1584.2 313.2h0M1575.3 302.5h0M1580.8 313.3h0M1570.1 298.5h0M1558.9 313.5h0M1596.3 316.8h0M1581.4 312.4h0M1599.2 313.6h0M1561.1 304.7h0M1561.8 307.1h0M1580.9 313.9h0M1600.7 296.3h0M1561.6 309.7h0M1571.7 316.6h0M1601.0 312.7h0M1593.9 313.4h0M1569.5 315.3h0M1563.7 305.1h0M1580.5 309.6h0M1587.4 310.0h0M1597.6 313.9h0M1555.1 315.1h0M1600.5 313.2h0M1595.8 313.7h0M1560.5 296.8h0M1569.8 310.8h0M1583.5 311.6h0M1578.0 315.0h0M1587.7 314.2h0M1603.8 309.9h0M1574.3 315.6h0M1568.3 309.8h0M1580.8 313.3h0M1563.9 316.1h0M1568.2 315.0h0M1566.4 305.5h0M1601.1 317.2h0M1603.9 314.8h0M1600.0 301.9h0M1573.9 310.1h0M1593.7 309.2h0M1598.5 317.2h0M1569.0 314.3h0M1598.4 315.1h0M1578.8 314.9h0M1563.4 310.1h0M1568.6 311.5h0M1587.7 312.6h0M1593.3 303.3h0M1585.3 312.3h0M1568.1 310.2h0M1590.2 313.5h0M1588.8 316.2h0M1567.3 317.3h0M1594.8 314.3h0M1599.0 307.2h0M1574.5 303.6h0M1590.3 313.6h0M1580.2 306.8h0M1584.2 311.9h0M1557.0 314.5h0M1600.4 310.6h0M1591.2 311.7h0M1555.3 303.7h0M1558.5 315.5h0M1590.6 313.7h0M1591.3 312.7h0M1593.3 308.8h0M1560.1 307.1h0M1557.5 316.4h0M1587.3 314.8h0M1600.8 313.7h0M1596.7 306.0h0M1596.3 316.5h0M1594.6 310.3h0M1579.1 315.9h0M1576.3 312.8h0M1560.7 317.4h0M1577.4 316.4h0M1596.0 300.6h0M1565.7 316.5h0M1564.5 316.9h0M1595.7 316.3h0M1557.8 304.5h0M1568.3 316.1h0M1560.5 311.7h0M1597.0 302.5h0M1584.2 305.5h0M1603.9 301.2h0M1591.9 305.3h0M1584.7 314.4h0M1559.0 310.7h0M1600.0 315.0h0M1555.3 310.1h0M1582.2 316.3h0M1558.6 317.2h0M1584.6 314.3h0M1574.8 306.6h0M1567.8 312.7h0M1564.7 309.5h0M1559.1 310.1h0M1594.0 313.3h0M1583.4 315.8h0M1598.3 309.9h0M1585.1 315.7h0M1561.4 316.8h0M1602.2 298.2h0M1580.3 316.2h0M1563.5 314.1h0M1585.3 314.0h0M1556.7 314.4h0M1574.6 307.9h0M1570.4 315.6h0M1578.7 308.7h0M1599.7 317.3h0M1593.7 289.3h0M1576.0 313.1h0M1566.7 300.5h0M1555.7 316.5h0M1555.1 285.7h0M1569.7 316.8h0M1601.9 313.8h0M1577.8 306.6h0M1577.6 301.4h0M1592.5 310.1h0M1596.1 313.9h0M1586.2 305.3h0M1555.3 313.9h0M1600.4 317.2h0M1601.5 311.2h0M1567.9 314.9h0M1573.7 282.8h0M1590.6 313.4h0M1577.3 316.5h0M1595.0 308.6h0M1579.2 301.0h0M1588.0 315.3h0M1569.0 308.5h0M1574.8 292.3h0M1570.2 314.3h0M1587.3 299.8h0M1578.1 310.9h0M1604.2 313.4h0M1579.8 305.3h0M1591.9 312.4h0M1571.2 308.9h0M1570.0 313.9h0M1594.5 316.7h0M1573.0 307.6h0M1593.7 311.6h0M1594.6 297.5h0M1570.8 301.0h0M1570.6 304.8h0M1562.4 301.1h0M1596.3 315.1h0M1555.3 312.6h0M1556.9 315.2h0M1596.0 310.8h0M1567.4 308.8h0M1566.2 289.4h0M1558.2 310.7h0M1588.0 314.1h0M1600.3 314.9h0M1586.7 315.5h0M1583.9 315.5h0M1587.9 311.0h0M1575.7 304.7h0M1566.4 309.0h0M1560.0 300.9h0M1575.0 316.5h0M1593.0 312.0h0M1572.9 316.8h0M1555.0 312.8h0M1603.8 316.2h0M1572.8 316.2h0M1574.4 313.1h0M1603.2 316.1h0M1563.8 315.3h0M1584.0 306.4h0M1556.2 307.6h0M1561.1 313.3h0M1582.8 315.1h0M1599.7 314.8h0M1603.7 314.2h0M1576.7 315.3h0M1574.9 304.9h0M1559.7 315.3h0M1576.0 297.3h0M1555.6 316.2h0M1590.8 317.1h0M1557.0 313.6h0M1593.0 305.5h0M1560.7 316.1h0M1575.7 315.3h0M1563.2 300.6h0M1559.6 316.3h0M1602.1 316.8h0M1577.3 309.4h0M1579.1 305.3h0M1586.4 313.7h0M1580.8 307.1h0M1576.0 314.3h0M1586.1 298.2h0M1560.0 291.8h0M1568.2 315.4h0M1572.0 317.4h0M1596.7 315.6h0M1592.4 313.8h0M1569.3 312.7h0M1583.2 306.5h0M1586.9 317.1h0M1562.0 313.9h0M1600.3 311.0h0M1601.2 307.9h0M1583.3 312.9h0M1566.6 311.7h0M1557.2 315.5h0M1593.9 309.2h0M1557.4 312.1h0M1596.9 313.1h0M1593.1 314.4h0M1560.0 316.5h0M1556.3 311.6h0M1574.4 317.0h0M1583.8 304.3h0M1572.0 303.0h0M1566.1 302.8h0M1589.1 316.2h0M1597.9 317.4h0M1569.7 315.1h0M1594.8 316.0h0M1591.5 315.2h0M1576.8 296.6h0M1578.4 295.2h0M1566.3 313.0h0M1578.4 317.2h0M1577.5 315.9h0M1604.3 315.2h0M1601.2 314.0h0M1580.8 317.3h0M1559.2 314.4h0M1588.1 312.0h0M1599.2 314.6h0M1577.1 317.2h0M1598.0 317.2h0M1562.0 311.9h0M1561.5 312.4h0M1576.0 314.5h0M1588.3 313.8h0M1596.1 299.3h0M1581.4 316.6h0M1562.1 303.2h0M1595.2 304.8h0M1560.0 313.4h0M1571.9 313.3h0M1560.0 311.5h0M1561.1 310.9h0M1570.0 299.7h0M1584.6 286.8h0M1575.4 316.4h0M1563.1 309.2h0M1592.0 314.1h0M1596.0 309.2h0M1568.0 310.9h0M1592.3 317.3h0M1577.4 314.5h0M1591.9 302.9h0M1572.8 314.8h0M1569.6 316.8h0M1566.5 317.3h0M1575.6 311.7h0M1585.3 297.2h0M1555.6 311.9h0M1594.4 316.5h0M1564.5 315.3h0M1585.5 313.6h0M1587.7 317.4h0M1588.6 315.2h0M1565.1 304.2h0M1596.8 309.9h0M1569.6 309.1h0M1564.0 315.2h0M1587.5 307.3h0M1568.1 314.5h0M1581.9 312.4h0M1597.6 317.3h0M1575.4 312.5h0M1595.7 311.5h0M1567.5 305.0h0M1561.3 304.2h0M1593.6 313.4h0M1595.5 311.3h0M1592.1 302.7h0M1564.8 308.7h0M1558.2 316.1h0M1559.5 312.8h0M1562.7 310.6h0M1559.8 311.9h0M1594.3 313.9h0M1585.2 300.1h0M1555.2 305.9h0M1596.1 311.4h0M1598.9 306.4h0M1584.1 316.6h0M1574.1 306.8h0M1572.3 315.3h0M1560.1 303.3h0M1564.2 312.2h0M1564.4 315.6h0M1572.8 295.9h0M1598.0 308.8h0M1565.6 310.1h0M1593.7 288.3h0M1569.4 308.8h0M1579.7 317.1h0M1590.6 308.2h0M1560.8 315.8h0M1563.5 317.4h0M1588.3 308.8h0M1569.6 317.0h0M1556.5 311.4h0M1564.4 292.4h0M1563.0 312.5h0M1588.8 315.1h0M1562.2 291.2h0M1556.8 312.1h0M1588.6 314.0h0M1569.0 317.1h0M1588.6 313.6h0M1558.9 306.7h0M1578.1 316.8h0M1580.6 316.3h0M1582.7 316.2h0M1577.3 312.5h0M1556.7 315.8h0M1582.7 314.4h0M1590.6 316.2h0M1598.5 302.0h0M1567.5 315.0h0M1570.9 308.8h0M1560.6 310.8h0M1598.0 311.2h0M1582.8 314.9h0M1567.8 311.3h0M1581.3 316.9h0M1560.1 313.5h0M1590.4 314.6h0M1571.5 316.1h0M1581.8 310.2h0M1572.2 313.5h0M1571.6 315.7h0M1556.5 290.1h0M1563.2 311.0h0M1601.3 315.5h0M1590.7 301.6h0M1572.9 311.4h0M1578.8 316.5h0M1555.9 316.3h0M1572.6 313.1h0M1553.1 280.8h0M1588.1 310.4h0M1601.4 285.4h0M1597.2 305.1h0M1587.3 201.2h0M1591.3 237.0h0M1596.7 287.1h0M1587.5 309.6h0M1583.6 262.3h0M1577.1 266.4h0M1594.3 267.1h0M1587.4 302.6h0M1573.4 283.8h0M1594.5 260.3h0M1593.6 288.3h0M1591.8 207.2h0M1567.7 225.8h0M1573.0 317.4h0M1569.7 300.2h0M1593.9 289.4h0M1580.3 241.4h0M1562.7 307.4h0M1591.3 268.0h0M1601.5 261.4h0M1598.6 303.1h0M1603.8 247.2h0M1603.2 222.3h0M1587.2 251.9h0M1597.9 194.4h0M1567.6 280.3h0M1592.9 297.6h0M1598.1 288.9h0M1593.8 205.0h0M1600.1 269.7h0M1602.3 305.9h0M1594.3 287.5h0M1598.6 194.4h0M1604.1 314.1h0M1603.1 317.1h0M1597.6 298.5h0M1581.7 299.4h0M1602.4 266.3h0M1556.8 298.0h0M1601.4 198.5h0M1602.8 295.4h0M1581.8 260.6h0M1592.6 287.3h0M1603.0 264.6h0M1594.9 307.7h0M1583.0 305.2h0M1599.5 291.7h0M1591.0 276.6h0M1581.9 294.2h0M1595.2 284.3h0M1598.5 219.7h0M1580.7 236.6h0M1584.2 218.9h0M1598.8 238.5h0M1555.0 303.6h0M1589.8 302.8h0M1588.7 264.0h0M1603.3 312.5h0M1566.9 317.2h0M1594.8 239.8h0M1599.7 293.6h0M1579.7 296.0h0M1602.4 259.4h0M1598.4 297.3h0M1570.3 310.7h0M1578.0 305.3h0M1554.9 291.3h0M1599.9 300.7h0M1572.4 211.8h0M1593.7 273.4h0M1602.5 199.9h0M1595.6 300.7h0M1559.6 265.4h0M1579.1 311.8h0M1591.1 309.7h0M1591.4 179.6h0M1590.0 213.7h0M1597.8 269.0h0M1596.2 253.5h0M1586.0 299.9h0M1593.5 232.8h0M1599.3 294.2h0M1584.3 206.0h0M1600.9 237.3h0M1600.4 317.3h0M1602.9 305.2h0M1601.3 275.8h0M1577.9 251.9h0M1566.7 313.9h0M1596.6 256.0h0M1595.8 298.5h0M1596.5 289.9h0M1564.3 278.9h0M1597.1 266.9h0M1597.1 252.7h0M1576.4 299.3h0M1598.2 244.3h0M1603.7 288.2h0M1600.3 269.7h0M1595.7 302.1h0M1600.7 240.9h0M1590.7 314.1h0M1564.8 316.4h0M1598.2 304.1h0M1590.3 310.5h0M1602.9 314.3h0M1592.3 314.5h0M1589.8 265.4h0M1586.7 277.0h0M1591.7 316.7h0M1585.0 315.3h0M1597.7 277.7h0M1576.6 280.1h0M1578.4 303.8h0M1571.4 301.1h0M1576.4 306.2h0M1598.1 311.5h0M1575.6 272.5h0M1586.8 295.1h0M1593.8 230.8h0M1587.4 315.3h0M1598.1 183.3h0M1596.5 310.8h0M1592.4 284.7h0M1580.7 299.7h0M1588.4 258.4h0M1598.0 268.5h0M1579.5 310.4h0M1597.6 287.9h0M1587.3 287.5h0M1604.2 294.7h0M1543.8 298.5h0M1597.5 308.2h0M1603.4 316.5h0M1589.4 283.1h0M1589.7 296.5h0M1565.8 279.1h0M1602.1 301.9h0M1595.8 207.3h0M1601.3 310.3h0M1600.3 278.9h0M1574.3 307.7h0M1587.1 290.4h0M1588.0 284.2h0M1600.4 280.4h0M1598.9 278.0h0M1602.8 251.1h0M1603.1 263.8h0M1590.2 250.0h0M1604.2 316.2h0M1592.8 269.8h0M1592.1 254.5h0M1603.1 300.3h0M1596.9 293.3h0M1541.0 277.7h0M1580.5 273.4h0M1575.9 254.9h0M1598.8 286.3h0M1583.5 266.3h0M1591.4 287.9h0M1599.8 282.8h0M1603.1 226.5h0M1589.2 218.8h0M1574.8 272.5h0M1602.8 231.0h0M1599.9 292.3h0M1597.4 263.6h0M1579.7 310.7h0M1584.9 197.0h0M1597.6 304.5h0M1587.9 308.7h0M1596.5 207.2h0M1591.3 297.1h0M1601.6 307.7h0M1588.5 302.0h0M1600.9 217.9h0M1597.1 302.8h0M1603.0 292.0h0M1593.2 293.0h0M1580.7 290.5h0M1598.2 206.5h0M1577.4 301.4h0M1550.0 299.8h0M1587.6 254.9h0M1571.1 272.3h0M1601.6 305.6h0M1597.2 288.4h0M1599.6 301.6h0M1599.8 254.4h0M1604.0 294.8h0M1574.6 314.3h0M1570.9 300.7h0M1581.8 282.2h0M1600.0 309.8h0M1594.8 222.3h0M1597.9 293.3h0M1603.2 299.1h0M1553.6 303.6h0M1572.0 315.4h0M1586.5 276.6h0M1600.3 203.9h0M1589.9 292.4h0M1595.5 298.0h0M1593.4 198.3h0M1587.1 278.4h0M1602.4 314.1h0M1600.4 259.4h0M1596.2 213.7h0M1603.3 232.8h0M1593.6 202.9h0M1603.0 199.9h0M1582.1 282.9h0M1581.1 269.2h0M1590.2 296.7h0M1573.8 307.1h0M1601.0 300.9h0M1563.3 313.4h0M1578.5 309.3h0M1590.4 268.2h0M1581.6 222.8h0M1603.1 289.1h0M1589.5 221.5h0M1594.2 219.9h0M1600.9 257.0h0M1566.6 272.8h0M1561.5 270.9h0M1583.4 244.0h0M1562.6 302.1h0M1602.9 271.7h0M1597.4 303.0h0M1584.5 272.2h0M1587.2 302.6h0M1538.6 299.7h0M1604.1 313.5h0M1603.5 313.8h0M1583.5 272.1h0M1576.0 316.1h0M1591.7 287.4h0M1568.1 282.2h0M1575.8 253.8h0M1595.5 296.8h0M1592.4 186.0h0M1587.2 249.7h0M1585.7 297.3h0M1578.7 280.0h0M1601.9 304.3h0M1602.5 275.4h0M1601.5 256.1h0M1602.4 209.9h0M1571.3 258.2h0M1599.0 236.8h0M1597.1 286.5h0M1601.8 202.3h0M1594.9 304.5h0M1598.9 301.9h0M1592.7 206.1h0M1601.6 197.6h0M1577.3 313.9h0M1585.5 272.2h0M1590.6 311.8h0M1566.2 294.0h0M1592.5 303.7h0M1599.0 256.5h0M1599.7 241.8h0M1583.0 286.4h0M1581.3 297.6h0M1554.2 305.6h0M1586.8 309.7h0M1598.1 294.4h0M1603.9 315.4h0M1561.9 290.6h0M1601.9 269.0h0M1574.2 311.1h0M1599.2 270.8h0M1596.7 257.7h0M1602.4 299.2h0M1569.0 308.8h0M1604.2 208.2h0M1550.2 308.7h0M1598.6 270.9h0M1592.8 289.8h0M1585.8 232.2h0M1604.3 277.1h0M1592.7 215.3h0M1597.7 311.8h0M1596.4 313.8h0M1597.7 316.3h0M1597.9 284.1h0M1586.8 200.7h0M1590.8 222.8h0M1600.3 305.0h0M1575.6 254.9h0M1594.9 226.6h0M1599.2 277.2h0M1573.0 315.5h0M1588.9 304.8h0M1594.4 268.4h0M1552.5 302.6h0M1602.3 274.9h0M1561.6 273.9h0M1589.8 300.2h0M1596.1 288.4h0M1559.8 311.3h0M1577.4 238.0h0M1570.6 280.3h0M1566.5 297.1h0M1601.9 283.4h0M1591.2 257.2h0M1602.3 282.9h0M1572.8 315.2h0M1603.1 285.4h0M1598.7 267.2h0M1557.0 277.2h0M1584.8 286.3h0M1593.8 273.1h0M1573.6 257.4h0M1597.6 312.3h0M1597.5 279.0h0M1603.5 254.6h0M1602.9 251.3h0M1599.1 228.7h0M1595.6 298.6h0M1584.8 298.8h0M1596.5 214.9h0M1602.4 192.9h0M1594.6 182.5h0M1600.3 302.2h0M1601.1 299.7h0M1601.0 260.6h0M1577.5 311.7h0M1591.5 179.6h0M1598.2 184.1h0M1596.4 200.3h0M1590.8 315.8h0M1600.2 308.5h0M1594.4 215.3h0M1567.4 283.1h0M1595.9 290.7h0M1599.0 284.1h0M1599.8 195.1h0M1568.8 283.5h0M1567.0 285.6h0M1570.6 313.8h0M1595.6 233.2h0M1561.7 311.4h0M1588.5 283.6h0M1599.2 270.1h0M1592.4 312.7h0M1584.4 276.5h0M1586.3 304.7h0M1603.9 257.6h0M1600.0 240.5h0M1603.8 308.5h0M1602.6 302.9h0M1561.9 291.7h0M1585.8 292.9h0M1549.2 316.5h0M1531.6 317.1h0M1550.3 315.5h0M1501.1 316.9h0M1539.3 314.3h0M1484.8 316.6h0M1525.3 315.9h0M1513.4 316.9h0M1484.2 315.3h0M1535.9 314.3h0M1485.3 317.0h0M1496.7 317.1h0M1541.9 317.0h0M1533.0 316.9h0M1493.5 316.5h0M1553.8 315.9h0M1543.1 316.1h0M1536.8 314.8h0M1508.3 316.5h0M1534.8 315.8h0M1549.4 315.9h0M1514.2 316.8h0M1525.6 317.2h0M1519.2 316.7h0M1527.9 317.1h0M1512.6 316.8h0M1539.3 317.0h0M1542.4 317.2h0M1502.8 317.1h0M1505.4 316.9h0M1547.5 317.0h0M1502.3 316.9h0M1514.1 317.2h0M1485.8 316.8h0M1496.5 317.0h0M1486.5 317.0h0M1505.1 315.5h0M1508.9 317.1h0M1491.7 316.1h0M1505.4 316.5h0M1551.0 317.0h0M1530.8 317.0h0M1496.5 317.1h0M1535.9 317.1h0M1542.4 315.6h0M1552.2 317.2h0M1498.9 317.0h0M1533.7 317.1h0M1510.8 317.1h0M1523.8 316.5h0M1554.9 316.8h0M1545.2 317.2h0M1497.2 317.2h0M1541.5 314.8h0M1551.6 316.8h0M1503.6 316.6h0M1484.3 316.8h0M1490.6 317.0h0M1524.0 316.5h0M1493.2 315.6h0M1488.1 317.2h0M1528.5 315.1h0M1528.3 317.0h0M1537.0 315.8h0M1513.8 316.9h0M1541.2 317.0h0M1536.8 316.7h0M1550.9 316.6h0M1511.5 316.2h0M1515.2 316.1h0M1542.6 315.9h0M1539.5 316.9h0M1511.0 317.2h0M1495.5 316.0h0M1502.7 316.9h0M1541.6 317.1h0M1538.5 316.5h0M1537.7 316.6h0M1499.0 315.6h0M1500.6 316.9h0M1502.0 314.9h0M1507.4 317.2h0M1516.2 316.7h0M1553.9 317.0h0M1492.7 316.7h0M1487.8 315.8h0M1520.5 316.6h0M1541.7 316.4h0M1544.3 316.6h0M1520.0 316.3h0M1576.6 29.4h0M1571.9 42.0h0M1574.2 48.7h0M1575.4 84.3h0M1587.2 83.3h0M1574.2 100.7h0M1584.8 104.5h0M1567.2 122.8h0M1571.9 127.6h0M1576.6 132.4h0M1593.0 131.5h0M1564.8 153.6h0M1566.0 167.1h0M1566.0 176.7h0M1564.8 197.9h0M1533.1 176.7h0M1533.1 179.6h0M1542.5 200.8h0M1530.8 215.2h0M1532.0 223.9h0M1590.7 160.3h0M1588.3 164.2h0M1593.0 169.0h0M1583.6 173.8h0M1597.8 178.6h0M1579.0 181.5h0M1586.0 185.4h0M1595.4 191.1h0M1576.6 188.3h0M1593.0 195.0h0M1600.1 202.7h0M1553.1 224.8h0M1553.1 246.0h0M1537.8 265.3h0M1546.0 265.3h0M1557.8 252.8h0M1560.1 226.8h0M1567.2 221.9h0M1455.6 310.5h0M1482.6 308.6h0M1516.7 306.6h0M1671.8 29.4h0M1675.3 29.4h0M1680.0 29.4h0M1684.7 29.4h0M1689.4 29.4h0M1720.0 29.4h0M1670.6 45.8h0M1695.3 42.0h0M1720.0 57.4h0M1673.0 74.7h0M1697.6 72.8h0M1665.9 90.1h0M1676.5 86.2h0M1685.9 85.3h0M1682.3 91.0h0M1664.7 98.7h0M1676.5 96.8h0M1670.6 111.3h0M1669.4 114.1h0M1671.8 120.9h0M1687.0 116.1h0M1671.8 129.5h0M1673.0 134.4h0M1687.0 130.5h0M1673.0 138.2h0M1689.4 133.4h0M1674.1 142.1h0M1665.9 144.9h0M1675.3 145.9h0M1661.2 150.7h0M1677.6 152.6h0M1683.5 151.7h0M1667.1 156.5h0M1665.9 164.2h0M1685.9 164.2h0M1704.7 165.2h0M1682.3 169.0h0M1673.0 173.8h0M1687.0 178.6h0M1680.0 175.7h0M1701.1 183.4h0M1730.5 184.4h0M1724.6 193.1h0M1689.4 188.3h0M1698.8 193.1h0M1663.5 183.4h0M1658.8 188.3h0M1656.5 200.8h0M1651.8 204.6h0M1745.8 210.4h0M1737.6 225.8h0M1708.2 212.3h0M1712.9 214.2h0M1703.5 221.9h0M1743.5 265.3h0M1698.8 220.0h0M1705.8 226.8h0M1743.5 295.1h0M1736.4 293.2h0M1750.5 298.9h0M1769.3 297.0h0M1801.0 302.8h0M1729.3 260.4h0M1724.6 268.1h0M1715.2 258.5h0M1710.5 250.8h0M1745.8 293.2h0M1752.8 297.0h0M1734.0 298.9h0" stroke="#f20000" stroke-width="3.8" stroke-linecap="round" fill="none"/>
<line x1="1422.7" y1="25.0" x2="1422.7" y2="331.3" stroke="#000" stroke-width="1.6"/>
<line x1="1421.9" y1="330.5" x2="1833.6" y2="330.5" stroke="#000" stroke-width="1.6"/>
<line x1="1417.7" y1="29.4" x2="1422.7" y2="29.4" stroke="#222" stroke-width="1.5"/>
<text x="1400.8" y="37.2" font-size="21.840000000000003" stroke="#4d4d4d" stroke-width="0.22" stroke-linejoin="round" text-anchor="end" textLength="34.2" lengthAdjust="spacingAndGlyphs" fill="#4d4d4d">300</text>
<line x1="1417.7" y1="125.9" x2="1422.7" y2="125.9" stroke="#222" stroke-width="1.5"/>
<text x="1400.8" y="133.7" font-size="21.840000000000003" stroke="#4d4d4d" stroke-width="0.22" stroke-linejoin="round" text-anchor="end" textLength="34.2" lengthAdjust="spacingAndGlyphs" fill="#4d4d4d">200</text>
<line x1="1417.7" y1="222.0" x2="1422.7" y2="222.0" stroke="#222" stroke-width="1.5"/>
<text x="1400.8" y="229.8" font-size="21.840000000000003" stroke="#4d4d4d" stroke-width="0.22" stroke-linejoin="round" text-anchor="end" textLength="34.2" lengthAdjust="spacingAndGlyphs" fill="#4d4d4d">100</text>
<line x1="1417.7" y1="318.2" x2="1422.7" y2="318.2" stroke="#222" stroke-width="1.5"/>
<text x="1412.8" y="326.0" font-size="21.840000000000003" stroke="#4d4d4d" stroke-width="0.22" stroke-linejoin="round" text-anchor="end" textLength="11.4" lengthAdjust="spacingAndGlyphs" fill="#4d4d4d">0</text>
<line x1="1511.0" y1="330.5" x2="1511.0" y2="335.0" stroke="#222" stroke-width="1.5"/>
<text x="1511.0" y="355.9" font-size="21.840000000000003" stroke="#4d4d4d" stroke-width="0.22" stroke-linejoin="round" text-anchor="middle" textLength="18.2" lengthAdjust="spacingAndGlyphs" fill="#4d4d4d">-5</text>
<line x1="1628.3" y1="330.5" x2="1628.3" y2="335.0" stroke="#222" stroke-width="1.5"/>
<text x="1628.3" y="355.9" font-size="21.840000000000003" stroke="#4d4d4d" stroke-width="0.22" stroke-linejoin="round" text-anchor="middle" textLength="11.4" lengthAdjust="spacingAndGlyphs" fill="#4d4d4d">0</text>
<line x1="1745.8" y1="330.5" x2="1745.8" y2="335.0" stroke="#222" stroke-width="1.5"/>
<text x="1745.8" y="355.9" font-size="21.840000000000003" stroke="#4d4d4d" stroke-width="0.22" stroke-linejoin="round" text-anchor="middle" textLength="11.4" lengthAdjust="spacingAndGlyphs" fill="#4d4d4d">5</text>
<text x="1627.5" y="388.0" font-size="26.4" stroke="#000" stroke-width="0.22" stroke-linejoin="round" text-anchor="middle" textLength="91.0" lengthAdjust="spacingAndGlyphs">log2 FC</text>
<text font-size="26.4" stroke="#000" stroke-width="0.22" stroke-linejoin="round" textLength="130.0" lengthAdjust="spacingAndGlyphs" transform="translate(1349.5,250.0) rotate(-90)">-log10 pval</text>
<text x="1741.8" y="62.8" font-size="19" stroke="#000" stroke-width="0.35" stroke-linejoin="round" textLength="60.8" lengthAdjust="spacingAndGlyphs">NUPR1</text>
<line x1="1725.8" y1="56.8" x2="1738.0" y2="56.8" stroke="#000" stroke-width="1.7"/>
<text x="1707.0" y="96.0" font-size="19" stroke="#000" stroke-width="0.35" stroke-linejoin="round" textLength="63.0" lengthAdjust="spacingAndGlyphs">LAMC2</text>
<line x1="1690.7" y1="86.0" x2="1703.4" y2="88.8" stroke="#000" stroke-width="1.7"/>
<text x="1707.0" y="151.0" font-size="19" stroke="#000" stroke-width="0.35" stroke-linejoin="round" textLength="67.0" lengthAdjust="spacing">WNT7A</text>
<line x1="1689.0" y1="148.6" x2="1701.4" y2="146.0" stroke="#000" stroke-width="1.7"/>
<text x="1752.5" y="191.0" font-size="19" stroke="#000" stroke-width="0.35" stroke-linejoin="round" textLength="52.5" lengthAdjust="spacingAndGlyphs">S100P</text>
<line x1="1735.8" y1="184.0" x2="1748.0" y2="184.0" stroke="#000" stroke-width="1.7"/>
<text x="1766.0" y="285.5" font-size="19" stroke="#000" stroke-width="0.35" stroke-linejoin="round" textLength="65.6" lengthAdjust="spacingAndGlyphs">S100A9</text>
<line x1="1754.0" y1="307.0" x2="1766.0" y2="289.0" stroke="#000" stroke-width="1.7"/>
<text x="1826.0" y="303.0" font-size="19" stroke="#000" stroke-width="0.35" stroke-linejoin="round" textLength="53.0" lengthAdjust="spacingAndGlyphs">CXLC1</text>
<line x1="1807.6" y1="300.0" x2="1819.0" y2="297.0" stroke="#000" stroke-width="1.7"/>
<text x="20.1" y="463.1" font-size="49.6" stroke="#000" stroke-width="1.0" stroke-linejoin="round" font-weight="bold" textLength="34.2" lengthAdjust="spacingAndGlyphs">D</text>
<text x="217.3" y="478.6" font-size="16.4" stroke="#c00000" stroke-width="0.35" stroke-linejoin="round" textLength="57.7" lengthAdjust="spacingAndGlyphs" fill="#c00000">LAMC2</text>
<path d="M292.4 469.2L429.4 472.6L292.4 476.0M429.4 469.2L477.3 472.6L429.4 476.0M477.3 469.2L495.3 472.6L477.3 476.0M495.3 469.2L511.2 472.6L495.3 476.0M511.2 469.2L519.2 472.6L511.2 476.0M519.2 469.2L526.2 472.6L519.2 476.0M526.2 469.2L541.0 472.6L526.2 476.0M541.0 469.2L547.9 472.6L541.0 476.0M547.9 469.2L552.9 472.6L547.9 476.0M552.9 469.2L557.9 472.6L552.9 476.0M557.9 469.2L574.9 472.6L557.9 476.0M574.9 469.2L582.9 472.6L574.9 476.0M582.9 469.2L585.9 472.6L582.9 476.0M585.9 469.2L596.8 472.6L585.9 476.0M596.8 469.2L602.8 472.6L596.8 476.0M602.8 469.2L607.8 472.6L602.8 476.0M607.8 469.2L612.8 472.6L607.8 476.0M612.8 469.2L617.8 472.6L612.8 476.0M617.8 469.2L622.8 472.6L617.8 476.0M622.8 469.2L629.0 472.6L622.8 476.0M640.5 469.2L652.5 472.6L640.5 476.0" stroke="#c9141b" stroke-width="1.25" fill="none" stroke-linejoin="miter"/>
<path d="M292.4 465.3V479.9M429.4 465.3V479.9M477.3 465.3V479.9M495.3 465.3V479.9M511.2 465.3V479.9M519.2 465.3V479.9M526.2 465.3V479.9M541.0 465.3V479.9M547.9 465.3V479.9M552.9 465.3V479.9M557.9 465.3V479.9M574.9 465.3V479.9M582.9 465.3V479.9M585.9 465.3V479.9M596.8 465.3V479.9M602.8 465.3V479.9M607.8 465.3V479.9M612.8 465.3V479.9M617.8 465.3V479.9M622.8 465.3V479.9" stroke="#c9141b" stroke-width="2.2" fill="none"/>
<rect x="628.4" y="465.3" width="12.3" height="14.6" fill="#e01018"/>
<rect x="652.1" y="465.3" width="11.6" height="14.6" fill="#e01018"/>
<rect x="684.2" y="465.3" width="28.6" height="14.6" fill="#0000dc"/>
<path d="M764 469.4L712.8 472.6L764 475.8M874.5 469.4L766 472.6L874.5 475.8" stroke="#1a1ab4" stroke-width="1.25" fill="none"/>
<rect x="763.1" y="465.3" width="4.0" height="14.6" fill="#0a0ad2"/>
<line x1="172.0" y1="548.2" x2="877.2" y2="548.2" stroke="#bdbdbd" stroke-width="1"/>
<line x1="172.0" y1="604.6" x2="877.2" y2="604.6" stroke="#a6a6a6" stroke-width="1"/>
<line x1="172.0" y1="660.9" x2="877.2" y2="660.9" stroke="#a9adb3" stroke-width="1"/>
<line x1="172.0" y1="717.4" x2="877.2" y2="717.4" stroke="#a6a6ae" stroke-width="1"/>
<line x1="172.0" y1="721.5" x2="877.2" y2="721.5" stroke="#2a2a2a" stroke-width="1.2"/>
<line x1="221.5" y1="721.5" x2="221.5" y2="727.7" stroke="#2a2a2a" stroke-width="1.1"/>
<line x1="379.5" y1="721.5" x2="379.5" y2="727.7" stroke="#2a2a2a" stroke-width="1.1"/>
<line x1="537.3" y1="721.5" x2="537.3" y2="727.7" stroke="#2a2a2a" stroke-width="1.1"/>
<line x1="695.6" y1="721.5" x2="695.6" y2="727.7" stroke="#2a2a2a" stroke-width="1.1"/>
<text x="94.3" y="529.8" font-size="19.5" stroke="#a6a6a6" stroke-width="0.22" stroke-linejoin="round" textLength="58.5" lengthAdjust="spacingAndGlyphs" fill="#a6a6a6">DMSO</text>
<text x="60.2" y="586.0" font-size="19.5" stroke="#000" stroke-width="0.22" stroke-linejoin="round" textLength="92.6" lengthAdjust="spacingAndGlyphs">SP600125</text>
<text x="114.4" y="641.9" font-size="19.5" stroke="#5b9bd5" stroke-width="0.22" stroke-linejoin="round" textLength="38.4" lengthAdjust="spacingAndGlyphs" fill="#5b9bd5">JUN</text>
<text x="100.3" y="698.1" font-size="19.5" stroke="#1515c0" stroke-width="0.22" stroke-linejoin="round" textLength="52.5" lengthAdjust="spacingAndGlyphs" fill="#1515c0">JUND</text>
<text x="118.7" y="752.0" font-size="21.3" stroke="#333" stroke-width="0.22" stroke-linejoin="round" textLength="47.5" lengthAdjust="spacingAndGlyphs" fill="#333">chr1:</text>
<text x="240.0" y="752.0" font-size="21.3" stroke="#333" stroke-width="0.22" stroke-linejoin="round" text-anchor="middle" textLength="118.8" lengthAdjust="spacingAndGlyphs" fill="#333">183,175,000</text>
<text x="398.0" y="752.0" font-size="21.3" stroke="#333" stroke-width="0.22" stroke-linejoin="round" text-anchor="middle" textLength="118.8" lengthAdjust="spacingAndGlyphs" fill="#333">183,200,000</text>
<text x="556.0" y="752.0" font-size="21.3" stroke="#333" stroke-width="0.22" stroke-linejoin="round" text-anchor="middle" textLength="118.8" lengthAdjust="spacingAndGlyphs" fill="#333">183,225,000</text>
<text x="714.3" y="752.0" font-size="21.3" stroke="#333" stroke-width="0.22" stroke-linejoin="round" text-anchor="middle" textLength="118.8" lengthAdjust="spacingAndGlyphs" fill="#333">183,250,000</text>
<rect x="293.30" y="547.3" width="1.6" height="1.2" fill="#ababab"/>
<rect x="429.20" y="547.3" width="2.4" height="1.2" fill="#ababab"/>
<rect x="477.50" y="547.3" width="1.6" height="1.2" fill="#ababab"/>
<rect x="495.90" y="547.3" width="1.6" height="1.2" fill="#ababab"/>
<rect x="510.60" y="547.3" width="2.4" height="1.2" fill="#ababab"/>
<rect x="519.00" y="547.3" width="1.6" height="1.2" fill="#ababab"/>
<rect x="526.00" y="547.3" width="1.6" height="1.2" fill="#ababab"/>
<rect x="519.80" y="547.3" width="1.6" height="1.2" fill="#ababab"/>
<rect x="541.00" y="547.3" width="2" height="1.2" fill="#ababab"/>
<rect x="548.70" y="547.3" width="1.6" height="1.2" fill="#ababab"/>
<rect x="554.10" y="547.2" width="1.6" height="1.3" fill="#ababab"/>
<rect x="559.10" y="546.1" width="1.6" height="2.4" fill="#ababab"/>
<rect x="575.50" y="547.2" width="1.6" height="1.3" fill="#ababab"/>
<rect x="582.90" y="546.9" width="2.0" height="1.6" fill="#ababab"/>
<rect x="586.10" y="546.2" width="2.4" height="2.3" fill="#ababab"/>
<rect x="596.50" y="546.5" width="1.8" height="2.0" fill="#ababab"/>
<rect x="604.40" y="546.9" width="2" height="1.6" fill="#ababab"/>
<rect x="610.20" y="547.1" width="2" height="1.4" fill="#ababab"/>
<rect x="615.30" y="547.1" width="2.2" height="1.4" fill="#ababab"/>
<rect x="621.40" y="544.6" width="2.4" height="3.9" fill="#ababab"/>
<rect x="627.90" y="545.3" width="2.2" height="3.2" fill="#ababab"/>
<rect x="634.00" y="545.8" width="1.6" height="2.7" fill="#ababab"/>
<path d="M652.0 548.2H664.0M685.0 548.2H708.0" stroke="#ababab" stroke-width="1.8" opacity="1" fill="none"/>
<rect x="706.75" y="546.2" width="1.5" height="2.0" fill="#ababab"/>
<rect x="765.75" y="546.6" width="1.5" height="1.6" fill="#ababab"/>
<rect x="293.30" y="592.6" width="1.6" height="12.5" fill="#000"/>
<rect x="429.20" y="592.2" width="2.4" height="12.9" fill="#000"/>
<rect x="477.55" y="592.6" width="1.5" height="12.5" fill="#000"/>
<rect x="495.90" y="597.6" width="1.6" height="7.5" fill="#000"/>
<rect x="510.60" y="593.2" width="2.4" height="11.9" fill="#000"/>
<rect x="519.00" y="595.6" width="1.6" height="9.5" fill="#000"/>
<rect x="526.00" y="596.6" width="1.6" height="8.5" fill="#000"/>
<rect x="519.90" y="595.6" width="1.4" height="9.5" fill="#000"/>
<rect x="541.00" y="596.6" width="2" height="8.5" fill="#000"/>
<rect x="548.70" y="593.2" width="1.6" height="11.9" fill="#000"/>
<rect x="554.10" y="588.6" width="1.6" height="16.5" fill="#000"/>
<rect x="559.10" y="574.1" width="1.6" height="31.0" fill="#000"/>
<rect x="575.60" y="588.6" width="1.4" height="16.5" fill="#000"/>
<rect x="582.90" y="584.6" width="2.0" height="20.5" fill="#000"/>
<rect x="586.10" y="576.1" width="2.4" height="29.0" fill="#000"/>
<rect x="596.50" y="579.6" width="1.8" height="25.5" fill="#000"/>
<rect x="604.40" y="584.6" width="2" height="20.5" fill="#000"/>
<rect x="610.20" y="587.0" width="2" height="18.1" fill="#000"/>
<rect x="615.30" y="587.6" width="2.2" height="17.5" fill="#000"/>
<rect x="621.40" y="555.3" width="2.4" height="49.8" fill="#000"/>
<rect x="627.90" y="564.6" width="2.2" height="40.5" fill="#000"/>
<rect x="634.00" y="570.6" width="1.6" height="34.5" fill="#000"/>
<rect x="292.30" y="600.6" width="3.6" height="4.5" fill="#000"/>
<rect x="632.30" y="582.1" width="3.4" height="23.0" fill="#000"/>
<rect x="630.50" y="597.1" width="5" height="8.0" fill="#000"/>
<rect x="560.00" y="581.1" width="1.2" height="24.0" fill="#000"/>
<path d="M652.0 605.1V583.1H653.0V581.1H654.0V576.6H655.0V578.1H656.0V583.1H657.0V588.1H658.0V592.1H659.0V595.1H660.0V594.1H661.0V597.1H662.0V598.1H663.0V601.1H664.0V605.1Z" fill="#000"/>
<path d="M684.6 605.1V603.9H686.4V603.7H688.2V603.5H690.0V603.5H691.9V603.3H693.7V602.7H695.5V603.1H697.3V603.5H699.1V603.7H700.9V602.9H702.7V602.1H704.5V599.5H706.4V601.1H708.2V603.1H710.0V601.6H711.8V600.6H713.6V605.1Z" fill="#000"/>
<path d="M764.8 605.1V599.3H766.0V600.7H767.2V602.5H768.4V605.1Z" fill="#000"/>
<rect x="750.30" y="603.2" width="1.4" height="1.4" fill="#000"/>
<path d="M288.2 660.9V653.9H290.2V642.9H291.4V630.9H292.2L292.9 611.9L293.6 611.9L294.2 630.9V642.9H295.0V652.9H296.2V660.9Z" fill="#5b9bd9"/>
<path d="M257.0 660.9V659.7H258.8V659.7H260.5V659.5H262.2V659.3H264.0V657.5H265.8V658.7H267.5V660.9Z" fill="#5b9bd9"/>
<path d="M346.8 660.9L346.8 660.9L347.0 660.7L347.2 660.5L347.4 660.2L347.7 659.9L347.9 659.5L348.1 659.2L348.3 658.8L348.5 658.4L348.7 658.0L348.9 657.5L349.2 657.1L349.4 656.6L349.6 656.2L349.8 655.7L350.0 656.2L350.2 656.6L350.4 657.1L350.7 657.5L350.9 658.0L351.1 658.4L351.3 658.8L351.5 659.2L351.7 659.5L351.9 659.9L352.2 660.2L352.4 660.5L352.6 660.7L352.8 660.9Z" fill="#5b9bd9"/>
<path d="M368.0 660.9L368.0 660.9L368.3 660.8L368.5 660.4L368.8 660.0L369.0 659.3L369.3 658.5L369.5 657.6L369.8 656.5L370.1 655.3L370.3 654.0L370.6 652.6L370.8 651.1L371.1 649.4L371.3 647.6L371.6 645.7L371.9 647.6L372.1 649.4L372.4 651.1L372.6 652.6L372.9 654.0L373.1 655.3L373.4 656.5L373.7 657.6L373.9 658.5L374.2 659.3L374.4 660.0L374.7 660.4L374.9 660.8L375.2 660.9Z" fill="#5b9bd9"/>
<path d="M436.4 660.9V653.5H437.8V655.4H439.2V657.4H440.6V658.4H442.0V660.9Z" fill="#5b9bd9"/>
<path d="M556.0 660.9L556.0 660.9L556.1 660.7L556.3 660.6L556.4 660.3L556.6 660.1L556.7 659.9L556.9 659.6L557.0 659.3L557.1 659.1L557.3 658.8L557.4 658.5L557.6 658.2L557.7 657.9L557.9 657.6L558.0 657.3L558.2 657.6L558.3 657.9L558.5 658.2L558.7 658.5L558.9 658.8L559.0 659.1L559.2 659.3L559.4 659.6L559.5 659.9L559.7 660.1L559.9 660.3L560.1 660.6L560.2 660.7L560.4 660.9Z" fill="#5b9bd9"/>
<path d="M594.6 660.9L595.4 652.9L596 630.9L597 622.9L598 620.9L599 622.9L600 634.9L601.4 646.9L603 654.9L605.8 658.9L606 660.9Z" fill="#5b9bd9"/>
<path d="M186.0 660.9H191.0M256.0 660.9H262.0M326.0 660.9H331.0M354.0 660.9H357.0M377.0 660.9H380.0M390.0 660.9H392.0M399.0 660.9H406.0M457.0 660.9H463.0M469.0 660.9H481.0M507.0 660.9H510.0M530.0 660.9H533.0M541.0 660.9H543.0M549.0 660.9H551.0M560.0 660.9H563.0M590.0 660.9H592.0M604.0 660.9H606.0M617.0 660.9H620.0M673.0 660.9H678.0M691.0 660.9H703.0M725.0 660.9H727.0M762.0 660.9H764.0M785.0 660.9H787.0" stroke="#8fb4de" stroke-width="1.8" opacity="0.85" fill="none"/>
<path d="M285.7 717.4L285.7 717.4L286.2 717.4L286.8 717.3L287.3 717.0L287.8 716.5L288.3 715.9L288.9 714.9L289.4 713.7L289.9 712.2L290.5 710.3L291.0 708.1L291.5 705.4L292.0 702.4L292.6 698.9L293.1 695.0L293.6 698.9L294.0 702.4L294.5 705.4L295.0 708.1L295.5 710.3L295.9 712.2L296.4 713.7L296.9 714.9L297.3 715.9L297.8 716.5L298.3 717.0L298.8 717.3L299.2 717.4L299.7 717.4Z" fill="#1a2fd6"/>
<path d="M360.6 717.4V713.0H361.8V712.4H362.9V711.4H364.1V712.8H365.3V712.4H366.4V714.4H367.6V717.4Z" fill="#1a2fd6"/>
<path d="M370.6 717.4V714.4H371.6V710.8H372.6V710.8H373.6V717.4Z" fill="#1a2fd6"/>
<path d="M436.4 717.4V708.0H437.5V708.4H438.7V709.0H439.9V711.4H441.0V710.4H442.1V711.0H443.3V712.4H444.5V715.0H445.6V717.4Z" fill="#1a2fd6"/>
<path d="M594.8 717.4L595.6 697.4L597 693.4L598.8 691.0L599.4 701.4L600.6 706.4L602 710.9L603.8 714.4L604 717.4Z" fill="#1a2fd6"/>
<path d="M652.5 717.4V716.2H653.5V715.4H654.5V714.2H655.5V713.2H656.5V715.0H657.5V716.0H658.5V717.4Z" fill="#1a2fd6"/>
<path d="M193.0 717.4H199.0M285.0 717.4H300.0M308.0 717.4H315.0M334.0 717.4H336.0M347.0 717.4H350.0M405.0 717.4H408.0M422.0 717.4H426.0M472.0 717.4H474.0M477.0 717.4H484.0M506.0 717.4H510.0M528.5 717.4H530.0M547.0 717.4H550.0M554.0 717.4H559.0M569.0 717.4H574.0M586.0 717.4H589.0M594.0 717.4H607.5M642.0 717.4H645.0M648.0 717.4H664.0M677.0 717.4H684.0M712.0 717.4H715.0M722.0 717.4H726.0M773.0 717.4H775.0" stroke="#8c8ce6" stroke-width="1.8" opacity="0.8" fill="none"/>
<text x="1103.8" y="476.6" font-size="16.4" stroke="#14149c" stroke-width="0.35" stroke-linejoin="round" textLength="61.5" lengthAdjust="spacingAndGlyphs" fill="#14149c">WNT7A</text>
<rect x="1176.2" y="462.6" width="17.4" height="14.3" fill="#0000dc"/>
<path d="M1389.5 466.7L1193.6 469.7L1389.5 472.7M1439.8 468.1L1389.5 469.7L1439.8 471.3M1501.7 466.7L1439.8 469.7L1501.7 472.7M1513.3 467.1L1505.7 469.7L1513.3 472.3M1529.6 466.7L1513.3 469.7L1529.6 472.7" stroke="#2222b8" stroke-width="1.2" fill="none"/>
<path d="M1389.5 462.5V476.9M1439.8 462.5V476.9M1501.7 462.5V476.9M1505.7 462.5V476.9M1513.3 462.5V476.9M1529.6 462.5V476.9" stroke="#1010b8" stroke-width="2.3" fill="none"/>
<line x1="1016.0" y1="547.8" x2="1714.3" y2="547.8" stroke="#bdbdbd" stroke-width="1"/>
<line x1="1016.0" y1="604.6" x2="1714.3" y2="604.6" stroke="#a6a6a6" stroke-width="1"/>
<line x1="1016.0" y1="660.5" x2="1714.3" y2="660.5" stroke="#a9adb3" stroke-width="1"/>
<line x1="1016.0" y1="717.4" x2="1714.3" y2="717.4" stroke="#a6a6ae" stroke-width="1"/>
<line x1="1016.0" y1="721.5" x2="1714.3" y2="721.5" stroke="#2a2a2a" stroke-width="1.2"/>
<line x1="1085.5" y1="721.5" x2="1085.5" y2="727.7" stroke="#2a2a2a" stroke-width="1.1"/>
<line x1="1363.3" y1="721.5" x2="1363.3" y2="727.7" stroke="#2a2a2a" stroke-width="1.1"/>
<line x1="1640.5" y1="721.5" x2="1640.5" y2="727.7" stroke="#2a2a2a" stroke-width="1.1"/>
<text x="950.2" y="529.8" font-size="19.5" stroke="#a6a6a6" stroke-width="0.22" stroke-linejoin="round" textLength="58.5" lengthAdjust="spacingAndGlyphs" fill="#a6a6a6">DMSO</text>
<text x="916.0" y="586.0" font-size="19.5" stroke="#000" stroke-width="0.22" stroke-linejoin="round" textLength="92.7" lengthAdjust="spacingAndGlyphs">SP600125</text>
<text x="970.3" y="641.9" font-size="19.5" stroke="#5b9bd5" stroke-width="0.22" stroke-linejoin="round" textLength="38.4" lengthAdjust="spacingAndGlyphs" fill="#5b9bd5">JUN</text>
<text x="956.2" y="698.1" font-size="19.5" stroke="#1515c0" stroke-width="0.22" stroke-linejoin="round" textLength="52.5" lengthAdjust="spacingAndGlyphs" fill="#1515c0">JUND</text>
<text x="959.5" y="752.0" font-size="21.3" stroke="#333" stroke-width="0.22" stroke-linejoin="round" textLength="47.5" lengthAdjust="spacingAndGlyphs" fill="#333">chr3:</text>
<text x="1085.4" y="752.0" font-size="21.3" stroke="#333" stroke-width="0.22" stroke-linejoin="round" text-anchor="middle" textLength="107.0" lengthAdjust="spacingAndGlyphs" fill="#333">13,800,000</text>
<text x="1363.2" y="752.0" font-size="21.3" stroke="#333" stroke-width="0.22" stroke-linejoin="round" text-anchor="middle" textLength="107.0" lengthAdjust="spacingAndGlyphs" fill="#333">13,850,000</text>
<text x="1640.9" y="752.0" font-size="21.3" stroke="#333" stroke-width="0.22" stroke-linejoin="round" text-anchor="middle" textLength="107.0" lengthAdjust="spacingAndGlyphs" fill="#333">13,900,000</text>
<path d="M1176.0 547.4H1190.0" stroke="#ababab" stroke-width="1.4" opacity="1" fill="none"/>
<rect x="1190.10" y="543.8" width="3.4" height="4.0" fill="#ababab"/>
<rect x="1388.70" y="544.2" width="1.8" height="3.6" fill="#ababab"/>
<rect x="1502.00" y="544.2" width="1.4" height="3.6" fill="#ababab"/>
<rect x="1528.60" y="545.8" width="2" height="2.0" fill="#ababab"/>
<path d="M1175.2 605.1V603.1H1176.4V598.1H1177.7V596.1H1178.9V599.1H1180.1V598.1H1181.3V600.1H1182.5V597.6H1183.8V600.1H1185.0V599.1H1186.2V598.1H1187.5V599.6H1188.7V597.1H1189.9V599.1H1191.1V594.1H1192.3V585.1H1193.6V575.6H1194.8V605.1Z" fill="#000"/>
<rect x="1388.50" y="574.1" width="1.4" height="31.0" fill="#000"/>
<rect x="1388.80" y="582.1" width="2.2" height="23.0" fill="#000"/>
<rect x="1388.90" y="589.1" width="3" height="16.0" fill="#000"/>
<rect x="1501.80" y="593.1" width="1.8" height="12.0" fill="#000"/>
<rect x="1528.40" y="596.1" width="1.8" height="9.0" fill="#000"/>
<rect x="1529.20" y="599.6" width="2.4" height="5.5" fill="#000"/>
<path d="M1200.0 660.5V659.7H1201.8V659.5H1203.6V658.9H1205.4V659.3H1207.2V659.5H1209.0V659.5H1210.8V659.1H1212.6V658.9H1214.4V658.5H1216.2V657.5H1218.0V660.5Z" fill="#5b9bd9"/>
<path d="M1217.6 660.5L1218.6 656.0L1221.5 655.5L1222.6 648.5L1224 630.5L1225 617.5L1226 616.0L1227.2 617.0L1228 648.5L1229 651.5L1229.6 657.5L1231 660.5Z" fill="#5b9bd9"/>
<path d="M1361.6 660.5L1363.4 654.5L1365 630.5L1366.2 612.5L1366.9 611.0L1367.6 616.5L1368.6 630.5L1370 646.5L1371.6 655.5L1373.6 659.0L1377 659.0L1378.6 656.5L1380.6 646.5L1382.6 638.5L1383.4 639.5L1385.4 632.0L1386.4 633.5L1387.4 646.5L1389.4 655.5L1391 660.5Z" fill="#5b9bd9"/>
<path d="M1520.6 660.5V659.1H1521.8V658.1H1523.0V657.9H1524.2V658.3H1525.4V659.3H1526.6V660.5Z" fill="#5b9bd9"/>
<path d="M1587.4 660.5L1587.4 660.5L1587.7 660.2L1587.9 659.8L1588.2 659.3L1588.4 658.8L1588.7 658.2L1588.9 657.6L1589.2 657.0L1589.5 656.3L1589.7 655.7L1590.0 654.9L1590.2 654.2L1590.5 653.5L1590.7 652.7L1591.0 651.9L1591.2 652.7L1591.5 653.5L1591.7 654.2L1592.0 654.9L1592.2 655.7L1592.5 656.3L1592.7 657.0L1592.9 657.6L1593.2 658.2L1593.4 658.8L1593.7 659.3L1593.9 659.8L1594.2 660.2L1594.4 660.5Z" fill="#5b9bd9"/>
<path d="M1394.0 660.5H1400.0M1402.0 660.5H1408.0M1418.0 660.5H1424.0M1427.0 660.5H1431.0M1526.0 660.5H1534.0M1614.0 660.5H1618.0M1621.0 660.5H1628.0" stroke="#8fb4de" stroke-width="1.6" opacity="0.8" fill="none"/>
<path d="M1199.6 717.4V716.6H1201.5V716.0H1203.5V714.4H1205.4V715.4H1207.4V716.0H1209.3V716.2H1211.3V716.4H1213.2V716.6H1215.2V715.8H1217.1V716.4H1219.1V716.2H1221.0V715.8H1223.0V716.2H1224.9V715.8H1226.9V716.0H1228.8V716.6H1230.8V716.4H1232.8V716.0H1234.7V716.4H1236.6V716.8H1238.6V717.4Z" fill="#1a2fd6"/>
<path d="M1220.8 717.4L1222.2 712.4L1223.4 695.4L1224.4 689.9L1226.6 689.9L1227.4 697.4L1228.2 711.4L1229.6 717.4Z" fill="#1a2fd6"/>
<path d="M1357 717.4L1361.8 715.4L1363.6 709.4L1365.4 691.4L1366.6 679.9L1367.2 681.4L1368.2 689.4L1369.4 698.4L1370.8 708.4L1372 714.4L1373 717.4Z" fill="#1a2fd6"/>
<path d="M1376 717.4L1380 715.9L1382.2 707.9L1384.6 707.4L1385.4 699.4L1386 695.4L1386.6 701.4L1388 709.4L1389.6 714.4L1391 717.4Z" fill="#1a2fd6"/>
<path d="M1583.5 717.4V716.4H1585.0V716.0H1586.5V715.4H1588.0V713.0H1589.5V712.4H1591.0V712.8H1592.5V715.4H1594.0V716.4H1595.5V717.4Z" fill="#1a2fd6"/>
<rect x="1616.00" y="712.4" width="1.6" height="5.0" fill="#1a2fd6"/>
<path d="M1024.0 717.4H1028.0M1034.0 717.4H1037.5M1073.0 717.4H1076.0M1080.0 717.4H1090.0M1115.0 717.4H1117.0M1256.0 717.4H1260.0M1265.0 717.4H1268.0M1291.0 717.4H1292.5M1305.0 717.4H1307.0M1317.0 717.4H1322.0M1334.0 717.4H1336.0M1350.0 717.4H1357.0M1395.0 717.4H1403.0M1405.0 717.4H1416.0M1420.0 717.4H1424.0M1428.0 717.4H1438.0M1456.0 717.4H1460.0M1463.0 717.4H1466.0M1508.0 717.4H1516.0M1519.0 717.4H1526.0M1530.0 717.4H1538.0M1541.0 717.4H1544.0M1570.0 717.4H1577.0M1597.0 717.4H1600.0M1603.0 717.4H1610.0M1612.0 717.4H1624.0M1627.0 717.4H1632.0M1634.0 717.4H1638.0" stroke="#4a5ae0" stroke-width="1.5" opacity="0.85" fill="none"/>
<text x="22.0" y="881.9" font-size="49.6" stroke="#000" stroke-width="1.0" stroke-linejoin="round" font-weight="bold" textLength="23.0" lengthAdjust="spacingAndGlyphs">E</text>
<text x="352.5" y="884.4" font-size="23.5" stroke="#000" stroke-width="0.3" stroke-linejoin="round" font-weight="bold" textLength="315.5" lengthAdjust="spacingAndGlyphs">Upregulated genes (n=1,915)</text>
<rect x="359.4" y="904.8" width="308.6" height="16.5" fill="#bebebe" stroke="#000" stroke-width="1.8"/>
<line x1="335.1" y1="913.0" x2="339.6" y2="913.0" stroke="#222" stroke-width="1.5"/>
<text x="245.8" y="918.2" font-size="17.4" stroke="#4d4d4d" stroke-width="0.22" stroke-linejoin="round" textLength="84.3" lengthAdjust="spacingAndGlyphs" fill="#4d4d4d">locomotion</text>
<rect x="359.4" y="929.6" width="319.3" height="16.5" fill="#bebebe" stroke="#000" stroke-width="1.8"/>
<line x1="335.1" y1="937.9" x2="339.6" y2="937.9" stroke="#222" stroke-width="1.5"/>
<text x="189.7" y="943.1" font-size="17.4" stroke="#4d4d4d" stroke-width="0.22" stroke-linejoin="round" textLength="137.8" lengthAdjust="spacingAndGlyphs" fill="#4d4d4d">localization of cell</text>
<rect x="359.4" y="954.5" width="379.8" height="16.5" fill="#bebebe" stroke="#000" stroke-width="1.8"/>
<line x1="335.1" y1="962.7" x2="339.6" y2="962.7" stroke="#222" stroke-width="1.5"/>
<text x="121.0" y="967.9" font-size="17.4" stroke="#4d4d4d" stroke-width="0.22" stroke-linejoin="round" textLength="205.4" lengthAdjust="spacingAndGlyphs" fill="#4d4d4d">extracellular structure org.</text>
<rect x="359.4" y="979.3" width="381.5" height="16.5" fill="#bebebe" stroke="#000" stroke-width="1.8"/>
<line x1="335.1" y1="987.5" x2="339.6" y2="987.5" stroke="#222" stroke-width="1.5"/>
<text x="142.8" y="992.8" font-size="17.4" stroke="#4d4d4d" stroke-width="0.22" stroke-linejoin="round" textLength="184.2" lengthAdjust="spacingAndGlyphs" fill="#4d4d4d">extracellular matrix org.</text>
<rect x="359.4" y="1004.1" width="319.3" height="16.5" fill="#bebebe" stroke="#000" stroke-width="1.8"/>
<line x1="335.1" y1="1012.4" x2="339.6" y2="1012.4" stroke="#222" stroke-width="1.5"/>
<text x="244.1" y="1017.6" font-size="17.4" stroke="#4d4d4d" stroke-width="0.22" stroke-linejoin="round" textLength="86.0" lengthAdjust="spacingAndGlyphs" fill="#4d4d4d">cell motility</text>
<rect x="359.4" y="1029.0" width="362.5" height="16.5" fill="#bebebe" stroke="#000" stroke-width="1.8"/>
<line x1="335.1" y1="1037.2" x2="339.6" y2="1037.2" stroke="#222" stroke-width="1.5"/>
<text x="226.0" y="1042.5" font-size="17.4" stroke="#4d4d4d" stroke-width="0.22" stroke-linejoin="round" textLength="103.6" lengthAdjust="spacingAndGlyphs" fill="#4d4d4d">cell migration</text>
<rect x="359.4" y="1053.8" width="347.4" height="16.5" fill="#bebebe" stroke="#000" stroke-width="1.8"/>
<line x1="335.1" y1="1062.1" x2="339.6" y2="1062.1" stroke="#222" stroke-width="1.5"/>
<text x="226.9" y="1067.3" font-size="17.4" stroke="#4d4d4d" stroke-width="0.22" stroke-linejoin="round" textLength="102.3" lengthAdjust="spacingAndGlyphs" fill="#4d4d4d">cell adhesion</text>
<rect x="359.4" y="1078.7" width="363.4" height="16.5" fill="#bebebe" stroke="#000" stroke-width="1.8"/>
<line x1="335.1" y1="1087.0" x2="339.6" y2="1087.0" stroke="#222" stroke-width="1.5"/>
<text x="177.7" y="1092.2" font-size="17.4" stroke="#4d4d4d" stroke-width="0.22" stroke-linejoin="round" textLength="149.8" lengthAdjust="spacingAndGlyphs" fill="#4d4d4d">biological adhesion</text>
<line x1="339.6" y1="898.3" x2="339.6" y2="1102.3" stroke="#000" stroke-width="1.6"/>
<line x1="338.8" y1="1101.5" x2="788.8" y2="1101.5" stroke="#000" stroke-width="1.6"/>
<line x1="359.4" y1="1101.5" x2="359.4" y2="1106.0" stroke="#222" stroke-width="1.5"/>
<text x="359.8" y="1129.0" font-size="21.525000000000002" stroke="#4d4d4d" stroke-width="0.22" stroke-linejoin="round" text-anchor="middle" textLength="11.2" lengthAdjust="spacingAndGlyphs" fill="#4d4d4d">0</text>
<line x1="461.7" y1="1101.5" x2="461.7" y2="1106.0" stroke="#222" stroke-width="1.5"/>
<text x="462.1" y="1129.0" font-size="21.525000000000002" stroke="#4d4d4d" stroke-width="0.22" stroke-linejoin="round" text-anchor="middle" textLength="11.2" lengthAdjust="spacingAndGlyphs" fill="#4d4d4d">5</text>
<line x1="563.9" y1="1101.5" x2="563.9" y2="1106.0" stroke="#222" stroke-width="1.5"/>
<text x="564.3" y="1129.0" font-size="21.525000000000002" stroke="#4d4d4d" stroke-width="0.22" stroke-linejoin="round" text-anchor="middle" textLength="22.5" lengthAdjust="spacingAndGlyphs" fill="#4d4d4d">10</text>
<line x1="666.2" y1="1101.5" x2="666.2" y2="1106.0" stroke="#222" stroke-width="1.5"/>
<text x="666.6" y="1129.0" font-size="21.525000000000002" stroke="#4d4d4d" stroke-width="0.22" stroke-linejoin="round" text-anchor="middle" textLength="22.5" lengthAdjust="spacingAndGlyphs" fill="#4d4d4d">15</text>
<line x1="768.5" y1="1101.5" x2="768.5" y2="1106.0" stroke="#222" stroke-width="1.5"/>
<text x="770.1" y="1129.0" font-size="21.525000000000002" stroke="#4d4d4d" stroke-width="0.22" stroke-linejoin="round" text-anchor="middle" textLength="22.5" lengthAdjust="spacingAndGlyphs" fill="#4d4d4d">20</text>
<text x="582.5" y="1157.3" font-size="27" stroke="#000" stroke-width="0.22" stroke-linejoin="round" text-anchor="middle" textLength="129.5" lengthAdjust="spacingAndGlyphs">-log10 pval</text>
<text x="352.5" y="1203.2" font-size="23.5" stroke="#000" stroke-width="0.3" stroke-linejoin="round" font-weight="bold" textLength="329.5" lengthAdjust="spacingAndGlyphs">Downregulated genes (n=972)</text>
<rect x="360.3" y="1218.8" width="111.3" height="17.6" fill="#bebebe" stroke="#000" stroke-width="1.9"/>
<line x1="336.0" y1="1227.6" x2="340.5" y2="1227.6" stroke="#222" stroke-width="1.5"/>
<text x="326.5" y="1232.6" font-size="17.4" stroke="#4d4d4d" stroke-width="0.22" stroke-linejoin="round" text-anchor="end" textLength="296.5" lengthAdjust="spacingAndGlyphs" fill="#4d4d4d">unsaturated fatty acid metab. process</text>
<rect x="360.3" y="1244.1" width="162.7" height="17.6" fill="#bebebe" stroke="#000" stroke-width="1.9"/>
<line x1="336.0" y1="1252.9" x2="340.5" y2="1252.9" stroke="#222" stroke-width="1.5"/>
<text x="326.5" y="1257.9" font-size="17.4" stroke="#4d4d4d" stroke-width="0.22" stroke-linejoin="round" text-anchor="end" textLength="243.5" lengthAdjust="spacingAndGlyphs" fill="#4d4d4d">small molecule metab. process</text>
<rect x="360.3" y="1269.4" width="174.7" height="17.6" fill="#bebebe" stroke="#000" stroke-width="1.9"/>
<line x1="336.0" y1="1278.2" x2="340.5" y2="1278.2" stroke="#222" stroke-width="1.5"/>
<text x="326.5" y="1283.2" font-size="17.4" stroke="#4d4d4d" stroke-width="0.22" stroke-linejoin="round" text-anchor="end" textLength="187.5" lengthAdjust="spacingAndGlyphs" fill="#4d4d4d">oxoacid metab. process</text>
<rect x="360.3" y="1294.7" width="167.9" height="17.6" fill="#bebebe" stroke="#000" stroke-width="1.9"/>
<line x1="336.0" y1="1303.5" x2="340.5" y2="1303.5" stroke="#222" stroke-width="1.5"/>
<text x="326.5" y="1308.5" font-size="17.4" stroke="#4d4d4d" stroke-width="0.22" stroke-linejoin="round" text-anchor="end" textLength="222.0" lengthAdjust="spacingAndGlyphs" fill="#4d4d4d">organic acid metab. process</text>
<rect x="360.3" y="1320.0" width="171.3" height="17.6" fill="#bebebe" stroke="#000" stroke-width="1.9"/>
<line x1="336.0" y1="1328.8" x2="340.5" y2="1328.8" stroke="#222" stroke-width="1.5"/>
<text x="326.5" y="1333.8" font-size="17.4" stroke="#4d4d4d" stroke-width="0.22" stroke-linejoin="round" text-anchor="end" textLength="287.0" lengthAdjust="spacingAndGlyphs" fill="#4d4d4d">monocarboxylic acid metab. process</text>
<rect x="360.3" y="1345.3" width="140.7" height="17.6" fill="#bebebe" stroke="#000" stroke-width="1.9"/>
<line x1="336.0" y1="1354.1" x2="340.5" y2="1354.1" stroke="#222" stroke-width="1.5"/>
<text x="326.5" y="1359.1" font-size="17.4" stroke="#4d4d4d" stroke-width="0.22" stroke-linejoin="round" text-anchor="end" textLength="197.0" lengthAdjust="spacingAndGlyphs" fill="#4d4d4d">fatty acid metab. process</text>
<rect x="360.3" y="1370.6" width="180.8" height="17.6" fill="#bebebe" stroke="#000" stroke-width="1.9"/>
<line x1="336.0" y1="1379.4" x2="340.5" y2="1379.4" stroke="#222" stroke-width="1.5"/>
<text x="326.5" y="1384.4" font-size="17.4" stroke="#4d4d4d" stroke-width="0.22" stroke-linejoin="round" text-anchor="end" textLength="242.0" lengthAdjust="spacingAndGlyphs" fill="#4d4d4d">carboxylic acid metab. process</text>
<rect x="360.3" y="1395.9" width="110.5" height="17.6" fill="#bebebe" stroke="#000" stroke-width="1.9"/>
<line x1="336.0" y1="1404.7" x2="340.5" y2="1404.7" stroke="#222" stroke-width="1.5"/>
<text x="326.5" y="1409.7" font-size="17.4" stroke="#4d4d4d" stroke-width="0.22" stroke-linejoin="round" text-anchor="end" textLength="160.0" lengthAdjust="spacingAndGlyphs" fill="#4d4d4d">biosynthetic process</text>
<line x1="340.5" y1="1212.6" x2="340.5" y2="1421.4" stroke="#000" stroke-width="1.6"/>
<line x1="339.7" y1="1420.6" x2="791.8" y2="1420.6" stroke="#000" stroke-width="1.6"/>
<line x1="360.3" y1="1420.6" x2="360.3" y2="1425.1" stroke="#222" stroke-width="1.5"/>
<text x="360.7" y="1449.0" font-size="21.525000000000002" stroke="#4d4d4d" stroke-width="0.22" stroke-linejoin="round" text-anchor="middle" textLength="11.2" lengthAdjust="spacingAndGlyphs" fill="#4d4d4d">0</text>
<line x1="463.0" y1="1420.6" x2="463.0" y2="1425.1" stroke="#222" stroke-width="1.5"/>
<text x="463.4" y="1449.0" font-size="21.525000000000002" stroke="#4d4d4d" stroke-width="0.22" stroke-linejoin="round" text-anchor="middle" textLength="11.2" lengthAdjust="spacingAndGlyphs" fill="#4d4d4d">5</text>
<line x1="565.7" y1="1420.6" x2="565.7" y2="1425.1" stroke="#222" stroke-width="1.5"/>
<text x="566.1" y="1449.0" font-size="21.525000000000002" stroke="#4d4d4d" stroke-width="0.22" stroke-linejoin="round" text-anchor="middle" textLength="22.5" lengthAdjust="spacingAndGlyphs" fill="#4d4d4d">10</text>
<line x1="668.4" y1="1420.6" x2="668.4" y2="1425.1" stroke="#222" stroke-width="1.5"/>
<text x="668.8" y="1449.0" font-size="21.525000000000002" stroke="#4d4d4d" stroke-width="0.22" stroke-linejoin="round" text-anchor="middle" textLength="22.5" lengthAdjust="spacingAndGlyphs" fill="#4d4d4d">15</text>
<line x1="771.1" y1="1420.6" x2="771.1" y2="1425.1" stroke="#222" stroke-width="1.5"/>
<text x="772.7" y="1449.0" font-size="21.525000000000002" stroke="#4d4d4d" stroke-width="0.22" stroke-linejoin="round" text-anchor="middle" textLength="22.5" lengthAdjust="spacingAndGlyphs" fill="#4d4d4d">20</text>
<text x="581.3" y="1477.3" font-size="27" stroke="#000" stroke-width="0.22" stroke-linejoin="round" text-anchor="middle" textLength="129.5" lengthAdjust="spacingAndGlyphs">-log10 pval</text>
<text x="799.7" y="882.0" font-size="49.6" stroke="#000" stroke-width="1.0" stroke-linejoin="round" font-weight="bold" textLength="22.6" lengthAdjust="spacingAndGlyphs">F</text>
<text font-size="23.5" stroke="#000" stroke-width="0.3" stroke-linejoin="round" font-weight="bold" textLength="211.5" lengthAdjust="spacingAndGlyphs" transform="translate(873.0,1142.0) rotate(-90)">SP600125, RNA-seq</text>
<text font-size="26.4" stroke="#000" stroke-width="0.22" stroke-linejoin="round" textLength="268.8" lengthAdjust="spacingAndGlyphs" transform="translate(919.3,1170.7) rotate(-90)">Normalised expression</text>
<text font-size="23.5" stroke="#000" stroke-width="0.3" stroke-linejoin="round" font-weight="bold" textLength="199.5" lengthAdjust="spacingAndGlyphs" transform="translate(873.0,1401.0) rotate(-90)">SR11302, RT-qPCR</text>
<text font-size="26.4" stroke="#000" stroke-width="0.22" stroke-linejoin="round" textLength="229.0" lengthAdjust="spacingAndGlyphs" transform="translate(919.3,1420.7) rotate(-90)">Relative expression</text>
<text x="1068.9" y="900.4" font-size="23.5" stroke="#000" stroke-width="0.3" stroke-linejoin="round" text-anchor="middle" font-weight="bold" textLength="85.5" lengthAdjust="spacing">MMP14</text>
<text x="1270.3" y="900.4" font-size="23.5" stroke="#000" stroke-width="0.3" stroke-linejoin="round" text-anchor="middle" font-weight="bold" textLength="59.5" lengthAdjust="spacingAndGlyphs">NOS3</text>
<text x="1478.3" y="900.4" font-size="23.5" stroke="#000" stroke-width="0.3" stroke-linejoin="round" text-anchor="middle" font-weight="bold" textLength="45.3" lengthAdjust="spacingAndGlyphs">ENG</text>
<text x="1682.3" y="900.4" font-size="23.5" stroke="#000" stroke-width="0.3" stroke-linejoin="round" text-anchor="middle" font-weight="bold" textLength="65.5" lengthAdjust="spacingAndGlyphs">CSF1R</text>
<rect x="1011.4" y="1029.4" width="46.8" height="105.1" fill="#add8e6" stroke="#000" stroke-width="1.8"/>
<rect x="1077.8" y="937.3" width="47.2" height="197.2" fill="#add8e6" stroke="#000" stroke-width="1.8"/>
<line x1="994.5" y1="924.6" x2="994.5" y2="1145.1" stroke="#000" stroke-width="1.6"/>
<line x1="993.7" y1="1144.3" x2="1141.0" y2="1144.3" stroke="#000" stroke-width="1.6"/>
<line x1="990.0" y1="925.5" x2="994.5" y2="925.5" stroke="#222" stroke-width="1.5"/>
<text x="988.5" y="934.1" font-size="23.31" stroke="#4d4d4d" stroke-width="0.22" stroke-linejoin="round" text-anchor="end" textLength="35.3" lengthAdjust="spacingAndGlyphs" fill="#4d4d4d">25k</text>
<line x1="990.0" y1="967.2" x2="994.5" y2="967.2" stroke="#222" stroke-width="1.5"/>
<text x="988.5" y="975.8" font-size="23.31" stroke="#4d4d4d" stroke-width="0.22" stroke-linejoin="round" text-anchor="end" textLength="35.3" lengthAdjust="spacingAndGlyphs" fill="#4d4d4d">20k</text>
<line x1="990.0" y1="1009.1" x2="994.5" y2="1009.1" stroke="#222" stroke-width="1.5"/>
<text x="988.5" y="1017.7" font-size="23.31" stroke="#4d4d4d" stroke-width="0.22" stroke-linejoin="round" text-anchor="end" textLength="35.3" lengthAdjust="spacingAndGlyphs" fill="#4d4d4d">15k</text>
<line x1="990.0" y1="1050.8" x2="994.5" y2="1050.8" stroke="#222" stroke-width="1.5"/>
<text x="988.5" y="1059.1" font-size="23.31" stroke="#4d4d4d" stroke-width="0.22" stroke-linejoin="round" text-anchor="end" textLength="35.3" lengthAdjust="spacingAndGlyphs" fill="#4d4d4d">10k</text>
<line x1="990.0" y1="1092.8" x2="994.5" y2="1092.8" stroke="#222" stroke-width="1.5"/>
<text x="982.2" y="1100.9" font-size="23.31" stroke="#4d4d4d" stroke-width="0.22" stroke-linejoin="round" text-anchor="end" textLength="23.1" lengthAdjust="spacingAndGlyphs" fill="#4d4d4d">5k</text>
<line x1="990.0" y1="1134.5" x2="994.5" y2="1134.5" stroke="#222" stroke-width="1.5"/>
<text x="982.7" y="1144.7" font-size="23.31" stroke="#4d4d4d" stroke-width="0.22" stroke-linejoin="round" text-anchor="end" textLength="12.2" lengthAdjust="spacingAndGlyphs" fill="#4d4d4d">0</text>
<line x1="1034.7" y1="1144.3" x2="1034.7" y2="1148.8" stroke="#222" stroke-width="1.5"/>
<line x1="1101.4" y1="1144.3" x2="1101.4" y2="1148.8" stroke="#222" stroke-width="1.5"/>
<circle cx="1032.5" cy="1030.9" r="3.3" fill="#000"/>
<circle cx="1036.7" cy="1027.3" r="3.3" fill="#000"/>
<circle cx="1097.2" cy="939.0" r="3.3" fill="#000"/>
<circle cx="1101.4" cy="934.2" r="3.3" fill="#000"/>
<circle cx="1103.8" cy="940.3" r="3.3" fill="#000"/>
<text x="995.0" y="1173.5" font-size="27.3" stroke="#4d4d4d" stroke-width="0.22" stroke-linejoin="round" textLength="78.0" lengthAdjust="spacingAndGlyphs" fill="#4d4d4d">DMSO</text>
<text x="1086.6" y="1173.5" font-size="27.3" stroke="#4d4d4d" stroke-width="0.22" stroke-linejoin="round" textLength="32.4" lengthAdjust="spacingAndGlyphs" fill="#4d4d4d">SP</text>
<rect x="1211.3" y="1089.5" width="49.0" height="45.0" fill="#add8e6" stroke="#000" stroke-width="1.8"/>
<rect x="1280.5" y="972.9" width="49.2" height="161.6" fill="#add8e6" stroke="#000" stroke-width="1.8"/>
<line x1="1193.8" y1="924.6" x2="1193.8" y2="1145.1" stroke="#000" stroke-width="1.6"/>
<line x1="1193.0" y1="1144.3" x2="1347.1" y2="1144.3" stroke="#000" stroke-width="1.6"/>
<line x1="1189.3" y1="930.0" x2="1193.8" y2="930.0" stroke="#222" stroke-width="1.5"/>
<text x="1186.8" y="938.6" font-size="23.31" stroke="#4d4d4d" stroke-width="0.22" stroke-linejoin="round" text-anchor="end" textLength="48.6" lengthAdjust="spacingAndGlyphs" fill="#4d4d4d">1200</text>
<line x1="1189.3" y1="981.0" x2="1193.8" y2="981.0" stroke="#222" stroke-width="1.5"/>
<text x="1186.8" y="989.6" font-size="23.31" stroke="#4d4d4d" stroke-width="0.22" stroke-linejoin="round" text-anchor="end" textLength="36.5" lengthAdjust="spacingAndGlyphs" fill="#4d4d4d">900</text>
<line x1="1189.3" y1="1032.1" x2="1193.8" y2="1032.1" stroke="#222" stroke-width="1.5"/>
<text x="1186.8" y="1040.7" font-size="23.31" stroke="#4d4d4d" stroke-width="0.22" stroke-linejoin="round" text-anchor="end" textLength="36.5" lengthAdjust="spacingAndGlyphs" fill="#4d4d4d">600</text>
<line x1="1189.3" y1="1083.2" x2="1193.8" y2="1083.2" stroke="#222" stroke-width="1.5"/>
<text x="1186.8" y="1091.8" font-size="23.31" stroke="#4d4d4d" stroke-width="0.22" stroke-linejoin="round" text-anchor="end" textLength="36.5" lengthAdjust="spacingAndGlyphs" fill="#4d4d4d">300</text>
<line x1="1189.3" y1="1134.5" x2="1193.8" y2="1134.5" stroke="#222" stroke-width="1.5"/>
<text x="1186.8" y="1143.1" font-size="23.31" stroke="#4d4d4d" stroke-width="0.22" stroke-linejoin="round" text-anchor="end" textLength="12.2" lengthAdjust="spacingAndGlyphs" fill="#4d4d4d">0</text>
<line x1="1235.8" y1="1144.3" x2="1235.8" y2="1148.8" stroke="#222" stroke-width="1.5"/>
<line x1="1305.2" y1="1144.3" x2="1305.2" y2="1148.8" stroke="#222" stroke-width="1.5"/>
<circle cx="1236.7" cy="1088.3" r="3.3" fill="#000"/>
<circle cx="1240.6" cy="1090.7" r="3.3" fill="#000"/>
<circle cx="1305.3" cy="934.2" r="3.3" fill="#000"/>
<circle cx="1305.3" cy="973.8" r="3.3" fill="#000"/>
<circle cx="1305.3" cy="1010.7" r="3.3" fill="#000"/>
<text x="1198.3" y="1173.5" font-size="27.3" stroke="#4d4d4d" stroke-width="0.22" stroke-linejoin="round" textLength="77.8" lengthAdjust="spacingAndGlyphs" fill="#4d4d4d">DMSO</text>
<text x="1289.0" y="1173.5" font-size="27.3" stroke="#4d4d4d" stroke-width="0.22" stroke-linejoin="round" textLength="32.4" lengthAdjust="spacingAndGlyphs" fill="#4d4d4d">SP</text>
<rect x="1419.2" y="989.2" width="48.8" height="145.1" fill="#add8e6" stroke="#000" stroke-width="1.8"/>
<rect x="1488.5" y="944.9" width="48.9" height="189.4" fill="#add8e6" stroke="#000" stroke-width="1.8"/>
<line x1="1402.0" y1="923.0" x2="1402.0" y2="1145.3" stroke="#000" stroke-width="1.6"/>
<line x1="1401.2" y1="1144.5" x2="1554.6" y2="1144.5" stroke="#000" stroke-width="1.6"/>
<line x1="1397.5" y1="924.4" x2="1402.0" y2="924.4" stroke="#222" stroke-width="1.5"/>
<text x="1395.0" y="933.0" font-size="23.31" stroke="#4d4d4d" stroke-width="0.22" stroke-linejoin="round" text-anchor="end" textLength="48.6" lengthAdjust="spacingAndGlyphs" fill="#4d4d4d">1200</text>
<line x1="1397.5" y1="976.6" x2="1402.0" y2="976.6" stroke="#222" stroke-width="1.5"/>
<text x="1395.0" y="985.2" font-size="23.31" stroke="#4d4d4d" stroke-width="0.22" stroke-linejoin="round" text-anchor="end" textLength="36.5" lengthAdjust="spacingAndGlyphs" fill="#4d4d4d">900</text>
<line x1="1397.5" y1="1029.0" x2="1402.0" y2="1029.0" stroke="#222" stroke-width="1.5"/>
<text x="1395.0" y="1037.6" font-size="23.31" stroke="#4d4d4d" stroke-width="0.22" stroke-linejoin="round" text-anchor="end" textLength="36.5" lengthAdjust="spacingAndGlyphs" fill="#4d4d4d">600</text>
<line x1="1397.5" y1="1081.5" x2="1402.0" y2="1081.5" stroke="#222" stroke-width="1.5"/>
<text x="1395.0" y="1090.1" font-size="23.31" stroke="#4d4d4d" stroke-width="0.22" stroke-linejoin="round" text-anchor="end" textLength="36.5" lengthAdjust="spacingAndGlyphs" fill="#4d4d4d">300</text>
<line x1="1397.5" y1="1134.3" x2="1402.0" y2="1134.3" stroke="#222" stroke-width="1.5"/>
<text x="1395.0" y="1142.9" font-size="23.31" stroke="#4d4d4d" stroke-width="0.22" stroke-linejoin="round" text-anchor="end" textLength="12.2" lengthAdjust="spacingAndGlyphs" fill="#4d4d4d">0</text>
<line x1="1443.6" y1="1144.5" x2="1443.6" y2="1149.0" stroke="#222" stroke-width="1.5"/>
<line x1="1513.0" y1="1144.5" x2="1513.0" y2="1149.0" stroke="#222" stroke-width="1.5"/>
<circle cx="1443.6" cy="959.4" r="3.3" fill="#000"/>
<circle cx="1443.6" cy="998.6" r="3.3" fill="#000"/>
<circle cx="1443.6" cy="1009.5" r="3.3" fill="#000"/>
<circle cx="1513.0" cy="934.0" r="3.3" fill="#000"/>
<circle cx="1513.0" cy="944.0" r="3.3" fill="#000"/>
<circle cx="1513.0" cy="957.6" r="3.3" fill="#000"/>
<text x="1406.0" y="1173.5" font-size="27.3" stroke="#4d4d4d" stroke-width="0.22" stroke-linejoin="round" textLength="77.4" lengthAdjust="spacingAndGlyphs" fill="#4d4d4d">DMSO</text>
<text x="1495.8" y="1173.5" font-size="27.3" stroke="#4d4d4d" stroke-width="0.22" stroke-linejoin="round" textLength="32.8" lengthAdjust="spacingAndGlyphs" fill="#4d4d4d">SP</text>
<rect x="1619.7" y="1057.4" width="50.7" height="76.9" fill="#add8e6" stroke="#000" stroke-width="1.8"/>
<rect x="1692.0" y="946.7" width="50.7" height="187.6" fill="#add8e6" stroke="#000" stroke-width="1.8"/>
<line x1="1601.9" y1="923.0" x2="1601.9" y2="1145.3" stroke="#000" stroke-width="1.6"/>
<line x1="1601.1" y1="1144.5" x2="1760.2" y2="1144.5" stroke="#000" stroke-width="1.6"/>
<line x1="1597.4" y1="953.7" x2="1601.9" y2="953.7" stroke="#222" stroke-width="1.5"/>
<text x="1594.9" y="962.3" font-size="23.31" stroke="#4d4d4d" stroke-width="0.22" stroke-linejoin="round" text-anchor="end" textLength="36.5" lengthAdjust="spacingAndGlyphs" fill="#4d4d4d">300</text>
<line x1="1597.4" y1="1013.7" x2="1601.9" y2="1013.7" stroke="#222" stroke-width="1.5"/>
<text x="1594.9" y="1022.3" font-size="23.31" stroke="#4d4d4d" stroke-width="0.22" stroke-linejoin="round" text-anchor="end" textLength="36.5" lengthAdjust="spacingAndGlyphs" fill="#4d4d4d">200</text>
<line x1="1597.4" y1="1074.0" x2="1601.9" y2="1074.0" stroke="#222" stroke-width="1.5"/>
<text x="1594.9" y="1082.6" font-size="23.31" stroke="#4d4d4d" stroke-width="0.22" stroke-linejoin="round" text-anchor="end" textLength="36.5" lengthAdjust="spacingAndGlyphs" fill="#4d4d4d">100</text>
<line x1="1597.4" y1="1134.3" x2="1601.9" y2="1134.3" stroke="#222" stroke-width="1.5"/>
<text x="1594.9" y="1142.9" font-size="23.31" stroke="#4d4d4d" stroke-width="0.22" stroke-linejoin="round" text-anchor="end" textLength="12.2" lengthAdjust="spacingAndGlyphs" fill="#4d4d4d">0</text>
<line x1="1645.0" y1="1144.5" x2="1645.0" y2="1149.0" stroke="#222" stroke-width="1.5"/>
<line x1="1717.4" y1="1144.5" x2="1717.4" y2="1149.0" stroke="#222" stroke-width="1.5"/>
<circle cx="1642.6" cy="1057.7" r="3.3" fill="#000"/>
<circle cx="1645.6" cy="1054.7" r="3.3" fill="#000"/>
<circle cx="1652.3" cy="1060.0" r="3.3" fill="#000"/>
<circle cx="1717.4" cy="934.0" r="3.3" fill="#000"/>
<circle cx="1717.4" cy="941.9" r="3.3" fill="#000"/>
<circle cx="1717.4" cy="963.0" r="3.3" fill="#000"/>
<text x="1608.0" y="1173.5" font-size="27.3" stroke="#4d4d4d" stroke-width="0.22" stroke-linejoin="round" textLength="77.4" lengthAdjust="spacingAndGlyphs" fill="#4d4d4d">DMSO</text>
<text x="1700.0" y="1173.5" font-size="27.3" stroke="#4d4d4d" stroke-width="0.22" stroke-linejoin="round" textLength="32.8" lengthAdjust="spacingAndGlyphs" fill="#4d4d4d">SP</text>
<rect x="1011.7" y="1376.6" width="41.3" height="27.8" fill="#add8e6" stroke="#000" stroke-width="1.8"/>
<rect x="1079.6" y="1218.9" width="41.4" height="185.5" fill="#add8e6" stroke="#000" stroke-width="1.8"/>
<line x1="992.0" y1="1193.6" x2="992.0" y2="1414.8" stroke="#000" stroke-width="1.6"/>
<line x1="991.2" y1="1414.0" x2="1141.0" y2="1414.0" stroke="#000" stroke-width="1.6"/>
<line x1="987.5" y1="1241.9" x2="992.0" y2="1241.9" stroke="#222" stroke-width="1.5"/>
<text x="985.0" y="1250.5" font-size="23.31" stroke="#4d4d4d" stroke-width="0.22" stroke-linejoin="round" text-anchor="end" textLength="54.7" lengthAdjust="spacingAndGlyphs" fill="#4d4d4d">0.075</text>
<line x1="987.5" y1="1296.0" x2="992.0" y2="1296.0" stroke="#222" stroke-width="1.5"/>
<text x="985.0" y="1304.6" font-size="23.31" stroke="#4d4d4d" stroke-width="0.22" stroke-linejoin="round" text-anchor="end" textLength="54.7" lengthAdjust="spacingAndGlyphs" fill="#4d4d4d">0.050</text>
<line x1="987.5" y1="1350.3" x2="992.0" y2="1350.3" stroke="#222" stroke-width="1.5"/>
<text x="985.0" y="1358.9" font-size="23.31" stroke="#4d4d4d" stroke-width="0.22" stroke-linejoin="round" text-anchor="end" textLength="54.7" lengthAdjust="spacingAndGlyphs" fill="#4d4d4d">0.025</text>
<line x1="987.5" y1="1404.4" x2="992.0" y2="1404.4" stroke="#222" stroke-width="1.5"/>
<text x="985.0" y="1413.0" font-size="23.31" stroke="#4d4d4d" stroke-width="0.22" stroke-linejoin="round" text-anchor="end" textLength="54.7" lengthAdjust="spacingAndGlyphs" fill="#4d4d4d">0.000</text>
<line x1="1032.5" y1="1414.0" x2="1032.5" y2="1418.5" stroke="#222" stroke-width="1.5"/>
<line x1="1100.2" y1="1414.0" x2="1100.2" y2="1418.5" stroke="#222" stroke-width="1.5"/>
<circle cx="1034.0" cy="1373.3" r="3.3" fill="#000"/>
<circle cx="1034.0" cy="1378.1" r="3.3" fill="#000"/>
<circle cx="1100.2" cy="1203.8" r="3.3" fill="#000"/>
<circle cx="1100.2" cy="1235.8" r="3.3" fill="#000"/>
<text x="993.0" y="1443.8" font-size="27.3" stroke="#4d4d4d" stroke-width="0.22" stroke-linejoin="round" textLength="77.6" lengthAdjust="spacingAndGlyphs" fill="#4d4d4d">DMSO</text>
<text x="1083.0" y="1443.8" font-size="27.3" stroke="#4d4d4d" stroke-width="0.22" stroke-linejoin="round" textLength="34.4" lengthAdjust="spacingAndGlyphs" fill="#4d4d4d">SR</text>
<rect x="1212.2" y="1384.5" width="42.9" height="19.9" fill="#add8e6" stroke="#000" stroke-width="1.8"/>
<rect x="1283.2" y="1237.0" width="42.9" height="167.4" fill="#add8e6" stroke="#000" stroke-width="1.8"/>
<line x1="1191.4" y1="1193.6" x2="1191.4" y2="1414.8" stroke="#000" stroke-width="1.6"/>
<line x1="1190.6" y1="1414.0" x2="1346.5" y2="1414.0" stroke="#000" stroke-width="1.6"/>
<line x1="1186.9" y1="1207.2" x2="1191.4" y2="1207.2" stroke="#222" stroke-width="1.5"/>
<text x="1184.4" y="1215.8" font-size="23.31" stroke="#4d4d4d" stroke-width="0.22" stroke-linejoin="round" text-anchor="end" textLength="42.6" lengthAdjust="spacingAndGlyphs" fill="#4d4d4d">0.03</text>
<line x1="1186.9" y1="1272.7" x2="1191.4" y2="1272.7" stroke="#222" stroke-width="1.5"/>
<text x="1184.4" y="1281.3" font-size="23.31" stroke="#4d4d4d" stroke-width="0.22" stroke-linejoin="round" text-anchor="end" textLength="42.6" lengthAdjust="spacingAndGlyphs" fill="#4d4d4d">0.02</text>
<line x1="1186.9" y1="1338.5" x2="1191.4" y2="1338.5" stroke="#222" stroke-width="1.5"/>
<text x="1184.4" y="1347.1" font-size="23.31" stroke="#4d4d4d" stroke-width="0.22" stroke-linejoin="round" text-anchor="end" textLength="42.6" lengthAdjust="spacingAndGlyphs" fill="#4d4d4d">0.01</text>
<line x1="1186.9" y1="1404.4" x2="1191.4" y2="1404.4" stroke="#222" stroke-width="1.5"/>
<text x="1184.4" y="1413.0" font-size="23.31" stroke="#4d4d4d" stroke-width="0.22" stroke-linejoin="round" text-anchor="end" textLength="42.6" lengthAdjust="spacingAndGlyphs" fill="#4d4d4d">0.00</text>
<line x1="1233.7" y1="1414.0" x2="1233.7" y2="1418.5" stroke="#222" stroke-width="1.5"/>
<line x1="1304.7" y1="1414.0" x2="1304.7" y2="1418.5" stroke="#222" stroke-width="1.5"/>
<circle cx="1232.2" cy="1385.0" r="3.3" fill="#000"/>
<circle cx="1237.9" cy="1384.2" r="3.3" fill="#000"/>
<circle cx="1304.7" cy="1203.8" r="3.3" fill="#000"/>
<circle cx="1304.7" cy="1271.2" r="3.3" fill="#000"/>
<text x="1196.2" y="1443.8" font-size="27.3" stroke="#4d4d4d" stroke-width="0.22" stroke-linejoin="round" textLength="77.4" lengthAdjust="spacingAndGlyphs" fill="#4d4d4d">DMSO</text>
<text x="1286.5" y="1443.8" font-size="27.3" stroke="#4d4d4d" stroke-width="0.22" stroke-linejoin="round" textLength="34.8" lengthAdjust="spacingAndGlyphs" fill="#4d4d4d">SR</text>
<rect x="1425.2" y="1380.5" width="41.3" height="23.8" fill="#add8e6" stroke="#000" stroke-width="1.8"/>
<rect x="1493.0" y="1259.2" width="41.7" height="145.1" fill="#add8e6" stroke="#000" stroke-width="1.8"/>
<line x1="1405.3" y1="1193.5" x2="1405.3" y2="1415.0" stroke="#000" stroke-width="1.6"/>
<line x1="1404.5" y1="1414.2" x2="1554.6" y2="1414.2" stroke="#000" stroke-width="1.6"/>
<line x1="1400.8" y1="1200.2" x2="1405.3" y2="1200.2" stroke="#222" stroke-width="1.5"/>
<text x="1398.3" y="1208.8" font-size="23.31" stroke="#4d4d4d" stroke-width="0.22" stroke-linejoin="round" text-anchor="end" textLength="54.7" lengthAdjust="spacingAndGlyphs" fill="#4d4d4d">0.003</text>
<line x1="1400.8" y1="1268.0" x2="1405.3" y2="1268.0" stroke="#222" stroke-width="1.5"/>
<text x="1398.3" y="1276.6" font-size="23.31" stroke="#4d4d4d" stroke-width="0.22" stroke-linejoin="round" text-anchor="end" textLength="54.7" lengthAdjust="spacingAndGlyphs" fill="#4d4d4d">0.002</text>
<line x1="1400.8" y1="1335.8" x2="1405.3" y2="1335.8" stroke="#222" stroke-width="1.5"/>
<text x="1398.3" y="1344.4" font-size="23.31" stroke="#4d4d4d" stroke-width="0.22" stroke-linejoin="round" text-anchor="end" textLength="54.7" lengthAdjust="spacingAndGlyphs" fill="#4d4d4d">0.001</text>
<line x1="1400.8" y1="1404.3" x2="1405.3" y2="1404.3" stroke="#222" stroke-width="1.5"/>
<text x="1398.3" y="1412.9" font-size="23.31" stroke="#4d4d4d" stroke-width="0.22" stroke-linejoin="round" text-anchor="end" textLength="54.7" lengthAdjust="spacingAndGlyphs" fill="#4d4d4d">0.000</text>
<line x1="1445.7" y1="1414.2" x2="1445.7" y2="1418.7" stroke="#222" stroke-width="1.5"/>
<line x1="1513.9" y1="1414.2" x2="1513.9" y2="1418.7" stroke="#222" stroke-width="1.5"/>
<circle cx="1445.7" cy="1375.3" r="3.3" fill="#000"/>
<circle cx="1445.7" cy="1402.5" r="3.3" fill="#000"/>
<circle cx="1513.9" cy="1203.5" r="3.3" fill="#000"/>
<circle cx="1513.9" cy="1332.8" r="3.3" fill="#000"/>
<text x="1408.0" y="1443.8" font-size="27.3" stroke="#4d4d4d" stroke-width="0.22" stroke-linejoin="round" textLength="77.8" lengthAdjust="spacingAndGlyphs" fill="#4d4d4d">DMSO</text>
<text x="1495.8" y="1443.8" font-size="27.3" stroke="#4d4d4d" stroke-width="0.22" stroke-linejoin="round" textLength="35.0" lengthAdjust="spacingAndGlyphs" fill="#4d4d4d">SR</text>
<text x="20.9" y="1594.8" font-size="49.6" stroke="#000" stroke-width="1.0" stroke-linejoin="round" font-weight="bold" textLength="33.3" lengthAdjust="spacingAndGlyphs">G</text>
<rect x="185.0" y="1735.0" width="38.9" height="142.0" fill="#f8766d" stroke="#000" stroke-width="1.8"/>
<rect x="223.9" y="1611.5" width="38.9" height="265.5" fill="#00bfc4" stroke="#000" stroke-width="1.8"/>
<rect x="271.1" y="1846.0" width="38.5" height="31.0" fill="#f8766d" stroke="#000" stroke-width="1.8"/>
<rect x="309.6" y="1829.8" width="38.5" height="47.2" fill="#00bfc4" stroke="#000" stroke-width="1.8"/>
<rect x="356.8" y="1704.4" width="38.9" height="172.6" fill="#f8766d" stroke="#000" stroke-width="1.8"/>
<rect x="395.7" y="1766.3" width="38.5" height="110.7" fill="#00bfc4" stroke="#000" stroke-width="1.8"/>
<rect x="442.5" y="1733.9" width="38.9" height="143.1" fill="#f8766d" stroke="#000" stroke-width="1.8"/>
<rect x="481.4" y="1764.8" width="38.9" height="112.2" fill="#00bfc4" stroke="#000" stroke-width="1.8"/>
<line x1="172.9" y1="1575.7" x2="172.9" y2="1892.9" stroke="#000" stroke-width="1.6"/>
<line x1="172.1" y1="1892.1" x2="532.4" y2="1892.1" stroke="#000" stroke-width="1.6"/>
<line x1="168.4" y1="1660.6" x2="172.9" y2="1660.6" stroke="#222" stroke-width="1.5"/>
<text x="165.4" y="1669.2" font-size="23.31" stroke="#4d4d4d" stroke-width="0.22" stroke-linejoin="round" text-anchor="end" textLength="12.2" lengthAdjust="spacingAndGlyphs" fill="#4d4d4d">4</text>
<line x1="168.4" y1="1769.0" x2="172.9" y2="1769.0" stroke="#222" stroke-width="1.5"/>
<text x="165.4" y="1777.6" font-size="23.31" stroke="#4d4d4d" stroke-width="0.22" stroke-linejoin="round" text-anchor="end" textLength="12.2" lengthAdjust="spacingAndGlyphs" fill="#4d4d4d">2</text>
<line x1="168.4" y1="1877.0" x2="172.9" y2="1877.0" stroke="#222" stroke-width="1.5"/>
<text x="165.4" y="1885.6" font-size="23.31" stroke="#4d4d4d" stroke-width="0.22" stroke-linejoin="round" text-anchor="end" textLength="12.2" lengthAdjust="spacingAndGlyphs" fill="#4d4d4d">0</text>
<circle cx="204.6" cy="1727.0" r="3.3" fill="#000"/>
<circle cx="204.6" cy="1733.0" r="3.3" fill="#000"/>
<circle cx="204.6" cy="1746.7" r="3.3" fill="#000"/>
<circle cx="243.5" cy="1589.3" r="3.3" fill="#000"/>
<circle cx="243.5" cy="1616.0" r="3.3" fill="#000"/>
<circle cx="243.5" cy="1630.4" r="3.3" fill="#000"/>
<circle cx="290.3" cy="1846.4" r="3.3" fill="#000"/>
<circle cx="328.9" cy="1824.0" r="3.3" fill="#000"/>
<circle cx="328.9" cy="1833.0" r="3.3" fill="#000"/>
<circle cx="376.0" cy="1693.5" r="3.3" fill="#000"/>
<circle cx="376.0" cy="1703.3" r="3.3" fill="#000"/>
<circle cx="376.0" cy="1716.9" r="3.3" fill="#000"/>
<circle cx="414.6" cy="1755.0" r="3.3" fill="#000"/>
<circle cx="414.6" cy="1772.4" r="3.3" fill="#000"/>
<circle cx="461.8" cy="1726.3" r="3.3" fill="#000"/>
<circle cx="461.8" cy="1728.0" r="3.3" fill="#000"/>
<circle cx="461.8" cy="1749.4" r="3.3" fill="#000"/>
<circle cx="500.6" cy="1762.2" r="3.3" fill="#000"/>
<circle cx="500.6" cy="1766.0" r="3.3" fill="#000"/>
<circle cx="500.6" cy="1769.7" r="3.3" fill="#000"/>
<text font-size="26.4" stroke="#000" stroke-width="0.22" stroke-linejoin="round" textLength="268.0" lengthAdjust="spacingAndGlyphs" transform="translate(132.0,1870.9) rotate(-90)">Normalised expression</text>
<line x1="223.9" y1="1892.1" x2="223.9" y2="1896.6" stroke="#222" stroke-width="1.5"/>
<g transform="translate(211.5,1895.7) rotate(-39.5)" font-size="21.3" fill="#4d4d4d" text-anchor="end" letter-spacing="0.35"><text x="0" y="15">HERVIP10F-int</text><text x="0" y="41.5">(LTR10A)</text></g>
<line x1="309.6" y1="1892.1" x2="309.6" y2="1896.6" stroke="#222" stroke-width="1.5"/>
<g transform="translate(297.2,1895.7) rotate(-39.5)" font-size="21.3" fill="#4d4d4d" text-anchor="end" letter-spacing="0.35"><text x="0" y="15">HERVIP10FH-int</text><text x="0" y="41.5">(LTR10F)</text></g>
<line x1="395.7" y1="1892.1" x2="395.7" y2="1896.6" stroke="#222" stroke-width="1.5"/>
<g transform="translate(383.3,1895.7) rotate(-39.5)" font-size="21.3" fill="#4d4d4d" text-anchor="end" letter-spacing="0.35"><text x="0" y="15">Harlequin-int</text><text x="0" y="41.5">(LTR2B)</text></g>
<line x1="481.4" y1="1892.1" x2="481.4" y2="1896.6" stroke="#222" stroke-width="1.5"/>
<g transform="translate(469.0,1895.7) rotate(-39.5)" font-size="21.3" fill="#4d4d4d" text-anchor="end" letter-spacing="0.35"><text x="0" y="15">HERVK3-int</text><text x="0" y="41.5">(LTR3A)</text></g>
<rect x="518.4" y="1614.2" width="24.6" height="23.4" fill="#f8766d" stroke="#000" stroke-width="1.3"/>
<rect x="518.4" y="1644.4" width="24.6" height="23.4" fill="#00bfc4" stroke="#000" stroke-width="1.3"/>
<circle cx="530.7" cy="1625.9" r="3.1" fill="#000"/>
<circle cx="530.7" cy="1656.1" r="3.1" fill="#000"/>
<text x="553.0" y="1633.8" font-size="21.5" stroke="#000" stroke-width="0.22" stroke-linejoin="round" textLength="65.0" lengthAdjust="spacingAndGlyphs">DMSO</text>
<text x="553.0" y="1664.0" font-size="21.5" stroke="#000" stroke-width="0.22" stroke-linejoin="round" textLength="102.0" lengthAdjust="spacingAndGlyphs">SP600125</text>
<text x="949.8" y="1652.0" font-size="17.4" stroke="#4f7f2e" stroke-width="0.22" stroke-linejoin="round" textLength="64.2" lengthAdjust="spacingAndGlyphs" fill="#4f7f2e">LTR10A</text>
<text x="893.9" y="1673.0" font-size="17.4" stroke="#b3d69c" stroke-width="0.22" stroke-linejoin="round" textLength="120.0" lengthAdjust="spacingAndGlyphs" fill="#b3d69c">HERVIP10F-int</text>
<rect x="1026.4" y="1638.4" width="12.4" height="15.2" fill="#548235"/>
<rect x="1408.0" y="1638.4" width="12.2" height="15.2" fill="#548235"/>
<rect x="1038.8" y="1658.3" width="83.0" height="15.7" fill="#a9d18e"/>
<rect x="1134.4" y="1658.3" width="10.8" height="15.7" fill="#a9d18e"/>
<rect x="1152.0" y="1658.3" width="156.0" height="15.7" fill="#a9d18e"/>
<rect x="1322.5" y="1658.3" width="18.0" height="15.7" fill="#a9d18e"/>
<rect x="1347.3" y="1658.3" width="11.4" height="15.7" fill="#a9d18e"/>
<rect x="1364.2" y="1658.3" width="8.8" height="15.7" fill="#a9d18e"/>
<rect x="1377.6" y="1658.3" width="29.4" height="15.7" fill="#a9d18e"/>
<line x1="856.5" y1="1731.5" x2="1483.2" y2="1731.5" stroke="#b0b0b0" stroke-width="1"/>
<line x1="856.5" y1="1779.6" x2="1483.2" y2="1779.6" stroke="#a0a0a0" stroke-width="1"/>
<line x1="856.5" y1="1828.6" x2="1483.2" y2="1828.6" stroke="#a9adb3" stroke-width="1"/>
<line x1="856.5" y1="1877.4" x2="1483.2" y2="1877.4" stroke="#b8b8bc" stroke-width="1"/>
<line x1="856.5" y1="1881.5" x2="1483.2" y2="1881.5" stroke="#3a3a3a" stroke-width="1.1"/>
<line x1="951.8" y1="1881.5" x2="951.8" y2="1887.7" stroke="#2a2a2a" stroke-width="1.1"/>
<line x1="1165.3" y1="1881.5" x2="1165.3" y2="1887.7" stroke="#2a2a2a" stroke-width="1.1"/>
<line x1="1378.7" y1="1881.5" x2="1378.7" y2="1887.7" stroke="#2a2a2a" stroke-width="1.1"/>
<text x="788.0" y="1716.9" font-size="19.5" stroke="#a6a6a6" stroke-width="0.22" stroke-linejoin="round" textLength="58.5" lengthAdjust="spacingAndGlyphs" fill="#a6a6a6">DMSO</text>
<text x="753.5" y="1764.1" font-size="19.5" stroke="#000" stroke-width="0.22" stroke-linejoin="round" textLength="93.0" lengthAdjust="spacingAndGlyphs">SP600125</text>
<text x="807.7" y="1812.5" font-size="19.5" stroke="#5b9bd5" stroke-width="0.22" stroke-linejoin="round" textLength="38.8" lengthAdjust="spacingAndGlyphs" fill="#5b9bd5">JUN</text>
<text x="794.0" y="1863.7" font-size="19.5" stroke="#1515c0" stroke-width="0.22" stroke-linejoin="round" textLength="52.5" lengthAdjust="spacingAndGlyphs" fill="#1515c0">JUND</text>
<text x="808.5" y="1913.2" font-size="21.3" stroke="#333" stroke-width="0.22" stroke-linejoin="round" textLength="47.5" lengthAdjust="spacingAndGlyphs" fill="#333">chr1:</text>
<text x="950.1" y="1913.2" font-size="21.3" stroke="#333" stroke-width="0.22" stroke-linejoin="round" text-anchor="middle" textLength="107.0" lengthAdjust="spacingAndGlyphs" fill="#333">31,450,000</text>
<text x="1164.5" y="1913.2" font-size="21.3" stroke="#333" stroke-width="0.22" stroke-linejoin="round" text-anchor="middle" textLength="107.0" lengthAdjust="spacingAndGlyphs" fill="#333">31,460,000</text>
<text x="1377.6" y="1913.2" font-size="21.3" stroke="#333" stroke-width="0.22" stroke-linejoin="round" text-anchor="middle" textLength="107.0" lengthAdjust="spacingAndGlyphs" fill="#333">31,470,000</text>
<path d="M951.4 1731.8V1730.9H953.4V1730.0H955.4V1730.0H957.4V1730.7H959.4V1730.4H961.4V1731.2H963.4V1731.4H965.3V1731.3H967.3V1730.0H969.3V1729.7H971.3V1731.3H973.3V1731.3H975.3V1731.0H977.3V1731.4H979.3V1731.4H981.3V1731.4H983.3V1731.4H985.3V1731.4H987.3V1730.4H989.2V1729.7H991.2V1730.1H993.2V1731.3H995.2V1730.0H997.2V1729.3H999.2V1728.4H1001.2V1729.4H1003.2V1728.6H1005.2V1727.6H1007.2V1728.5H1009.2V1727.9H1011.2V1728.7H1013.1V1727.8H1015.1V1728.6H1017.1V1731.3H1019.1V1728.8H1021.1V1728.6H1023.1V1729.3H1025.1V1730.0H1027.1V1730.8H1029.1V1731.3H1031.1V1730.4H1033.1V1730.8H1035.1V1731.4H1037.0V1730.7H1039.0V1731.4H1041.0V1731.4H1043.0V1730.9H1045.0V1731.3H1047.0V1731.4H1049.0V1731.4H1051.0V1731.4H1053.0V1730.5H1055.0V1730.3H1057.0V1731.0H1059.0V1730.2H1060.9V1730.7H1062.9V1730.2H1064.9V1730.8H1066.9V1730.0H1068.9V1731.3H1070.9V1731.1H1072.9V1731.4H1074.9V1731.4H1076.9V1731.2H1078.9V1731.4H1080.9V1731.4H1082.9V1731.3H1084.8V1731.1H1086.8V1730.2H1088.8V1731.2H1090.8V1731.3H1092.8V1731.4H1094.8V1731.3H1096.8V1731.4H1098.8V1730.4H1100.8V1730.1H1102.8V1731.3H1104.8V1731.4H1106.8V1731.0H1108.7V1731.4H1110.7V1731.4H1112.7V1731.4H1114.7V1731.4H1116.7V1730.9H1118.7V1730.5H1120.7V1729.9H1122.7V1730.2H1124.7V1729.4H1126.7V1729.5H1128.7V1728.8H1130.7V1728.5H1132.6V1728.4H1134.6V1729.2H1136.6V1728.2H1138.6V1727.8H1140.6V1727.6H1142.6V1727.7H1144.6V1728.6H1146.6V1729.5H1148.6V1729.5H1150.6V1729.1H1152.6V1728.9H1154.6V1731.3H1156.5V1729.8H1158.5V1730.4H1160.5V1729.6H1162.5V1729.7H1164.5V1730.0H1166.5V1730.6H1168.5V1730.0H1170.5V1729.3H1172.5V1729.1H1174.5V1729.8H1176.5V1729.2H1178.5V1728.7H1180.5V1729.2H1182.4V1729.3H1184.4V1729.8H1186.4V1729.6H1188.4V1730.0H1190.4V1729.0H1192.4V1731.3H1194.4V1731.3H1196.4V1728.7H1198.4V1729.1H1200.4V1730.0H1202.4V1731.3H1204.4V1729.5H1206.3V1731.3H1208.3V1729.9H1210.3V1729.7H1212.3V1729.0H1214.3V1728.7H1216.3V1728.7H1218.3V1729.7H1220.3V1729.3H1222.3V1729.7H1224.3V1729.3H1226.3V1729.1H1228.3V1729.3H1230.2V1731.3H1232.2V1727.6H1234.2V1728.4H1236.2V1728.1H1238.2V1728.4H1240.2V1727.6H1242.2V1727.6H1244.2V1727.6H1246.2V1727.6H1248.2V1727.6H1250.2V1728.2H1252.2V1727.6H1254.1V1727.6H1256.1V1728.0H1258.1V1727.6H1260.1V1728.4H1262.1V1728.3H1264.1V1731.3H1266.1V1731.3H1268.1V1727.6H1270.1V1727.9H1272.1V1728.6H1274.1V1728.6H1276.1V1727.9H1278.0V1727.6H1280.0V1731.3H1282.0V1728.2H1284.0V1728.6H1286.0V1728.3H1288.0V1727.6H1290.0V1728.0H1292.0V1727.6H1294.0V1728.2H1296.0V1727.6H1298.0V1727.6H1300.0V1727.6H1301.9V1731.3H1303.9V1727.6H1305.9V1727.8H1307.9V1727.7H1309.9V1731.3H1311.9V1727.6H1313.9V1727.6H1315.9V1728.1H1317.9V1728.8H1319.9V1728.2H1321.9V1728.2H1323.9V1728.8H1325.8V1728.0H1327.8V1731.3H1329.8V1728.2H1331.8V1727.8H1333.8V1728.1H1335.8V1728.9H1337.8V1729.7H1339.8V1730.2H1341.8V1730.1H1343.8V1730.4H1345.8V1730.3H1347.8V1730.9H1349.7V1730.6H1351.7V1729.9H1353.7V1729.2H1355.7V1728.7H1357.7V1727.9H1359.7V1728.3H1361.7V1728.8H1363.7V1728.1H1365.7V1728.6H1367.7V1731.3H1369.7V1728.4H1371.7V1727.8H1373.6V1728.0H1375.6V1729.0H1377.6V1728.6H1379.6V1731.3H1381.6V1727.7H1383.6V1727.7H1385.6V1731.3H1387.6V1731.3H1389.6V1728.1H1391.6V1728.0H1393.6V1728.6H1395.6V1728.3H1397.5V1728.1H1399.5V1728.4H1401.5V1726.8H1403.5V1724.2H1405.5V1725.3H1407.5V1727.8H1409.5V1731.8Z" fill="#adadad"/>
<path d="M921.0 1731.5H925.0" stroke="#adadad" stroke-width="1.4" opacity="1" fill="none"/>
<path d="M951.4 1780.6V1775.0H953.3V1777.2H955.2V1776.1H957.2V1776.7H959.1V1768.6H961.0V1764.5H962.9V1769.8H964.8V1768.3H966.7V1768.3H968.7V1770.6H970.6V1773.2H972.5V1772.6H974.4V1771.7H976.3V1771.3H978.2V1768.6H980.2V1769.7H982.1V1768.3H984.0V1770.7H985.9V1772.9H987.8V1772.6H989.7V1772.2H991.7V1766.3H993.6V1774.1H995.5V1774.8H997.4V1779.5H999.3V1779.5H1001.2V1777.2H1003.2V1777.2H1005.1V1777.6H1007.0V1775.9H1008.9V1769.0H1010.8V1763.7H1012.7V1772.1H1014.7V1776.8H1016.6V1777.0H1018.5V1772.1H1020.4V1774.2H1022.3V1768.3H1024.2V1767.0H1026.2V1772.7H1028.1V1776.5H1030.0V1772.9H1031.9V1774.2H1033.8V1773.7H1035.8V1775.3H1037.7V1773.2H1039.6V1774.3H1041.5V1776.7H1043.4V1775.5H1045.3V1776.2H1047.3V1777.1H1049.2V1772.3H1051.1V1775.8H1053.0V1777.1H1054.9V1776.3H1056.8V1776.0H1058.8V1778.1H1060.7V1773.1H1062.6V1776.2H1064.5V1772.7H1066.4V1771.9H1068.3V1777.0H1070.3V1776.6H1072.2V1774.6H1074.1V1772.4H1076.0V1773.4H1077.9V1771.1H1079.8V1771.8H1081.8V1773.7H1083.7V1770.8H1085.6V1770.5H1087.5V1769.6H1089.4V1768.3H1091.3V1769.5H1093.3V1765.8H1095.2V1765.6H1097.1V1768.3H1099.0V1768.3H1100.9V1768.8H1102.8V1768.3H1104.8V1768.3H1106.7V1768.8H1108.6V1768.3H1110.5V1768.3H1112.4V1768.3H1114.4V1770.4H1116.3V1768.7H1118.2V1768.7H1120.1V1772.5H1122.0V1770.6H1123.9V1769.4H1125.9V1768.9H1127.8V1767.3H1129.7V1773.0H1131.6V1772.4H1133.5V1768.6H1135.4V1766.2H1137.4V1762.7H1139.3V1766.6H1141.2V1769.9H1143.1V1772.5H1145.0V1770.1H1146.9V1772.3H1148.9V1774.2H1150.8V1772.2H1152.7V1769.9H1154.6V1765.1H1156.5V1764.9H1158.4V1766.9H1160.4V1758.6H1162.3V1757.7H1164.2V1775.8H1166.1V1768.6H1168.0V1775.2H1169.9V1770.0H1171.9V1768.5H1173.8V1770.0H1175.7V1771.0H1177.6V1773.7H1179.5V1775.1H1181.5V1777.2H1183.4V1777.2H1185.3V1777.2H1187.2V1777.2H1189.1V1777.2H1191.0V1777.2H1193.0V1769.6H1194.9V1773.6H1196.8V1776.1H1198.7V1774.8H1200.6V1776.2H1202.5V1777.2H1204.5V1777.2H1206.4V1775.5H1208.3V1772.3H1210.2V1773.3H1212.1V1769.4H1214.0V1768.4H1216.0V1770.4H1217.9V1772.2H1219.8V1772.0H1221.7V1773.9H1223.6V1773.8H1225.5V1775.4H1227.5V1774.0H1229.4V1776.0H1231.3V1778.1H1233.2V1777.2H1235.1V1776.9H1237.0V1774.7H1239.0V1774.2H1240.9V1774.1H1242.8V1770.4H1244.7V1772.5H1246.6V1774.8H1248.5V1773.9H1250.5V1773.9H1252.4V1773.6H1254.3V1773.2H1256.2V1774.5H1258.1V1771.4H1260.1V1770.8H1262.0V1771.6H1263.9V1771.2H1265.8V1769.3H1267.7V1769.7H1269.6V1769.6H1271.6V1769.9H1273.5V1768.3H1275.4V1768.3H1277.3V1770.6H1279.2V1772.1H1281.1V1770.4H1283.1V1773.0H1285.0V1768.5H1286.9V1768.9H1288.8V1768.3H1290.7V1771.6H1292.6V1765.2H1294.6V1764.0H1296.5V1769.8H1298.4V1767.0H1300.3V1772.2H1302.2V1772.4H1304.1V1772.0H1306.1V1772.9H1308.0V1768.3H1309.9V1770.2H1311.8V1768.7H1313.7V1769.8H1315.6V1768.8H1317.6V1769.7H1319.5V1770.7H1321.4V1771.4H1323.3V1770.9H1325.2V1768.6H1327.1V1762.7H1329.1V1769.6H1331.0V1769.4H1332.9V1771.7H1334.8V1773.0H1336.7V1774.7H1338.7V1777.2H1340.6V1777.2H1342.5V1777.2H1344.4V1777.2H1346.3V1777.2H1348.2V1776.2H1350.2V1778.1H1352.1V1777.2H1354.0V1775.7H1355.9V1775.8H1357.8V1771.5H1359.7V1775.7H1361.7V1771.0H1363.6V1767.7H1365.5V1764.9H1367.4V1769.6H1369.3V1761.4H1371.2V1751.4H1373.2V1756.2H1375.1V1777.2H1377.0V1772.1H1378.9V1778.1H1380.8V1776.8H1382.7V1773.9H1384.7V1776.4H1386.6V1774.5H1388.5V1775.4H1390.4V1776.7H1392.3V1768.3H1394.2V1763.3H1396.2V1756.2H1398.1V1761.7H1400.0V1775.3H1401.9V1766.8H1403.8V1759.6H1405.7V1749.6H1407.7V1761.9H1409.6V1777.2H1411.5V1780.6Z" fill="#000"/>
<path d="M866.0 1779.9H870.0M895.0 1779.9H903.0M908.0 1779.9H919.0M923.0 1779.9H926.0M937.0 1779.9H946.0" stroke="#111" stroke-width="1.8" opacity="1" fill="none"/>
<path d="M911 1779.6L914 1777.1999999999998L917 1776.6L919.5 1779.6Z" fill="#000"/>
<path d="M1028.5 1828.6V1827.2H1030.1V1826.4H1031.8V1824.6H1033.4V1821.8H1035.0V1822.4H1036.6V1825.4H1038.2V1826.4H1039.9V1827.0H1041.5V1826.0H1043.1V1826.2H1044.8V1827.2H1046.4V1827.4H1048.0V1828.6Z" fill="#5b9bd9"/>
<path d="M1402.6 1828.6L1403.4 1823.6L1406 1821.6L1407.6 1817.6L1409.6 1810.6L1411.6 1802.6L1413 1793.6L1414 1790.6L1415.2 1790.6L1416.2 1796.6L1417.4 1810.6L1419 1819.6L1420.6 1823.6L1422 1826.6L1422.6 1828.6Z" fill="#5b9bd9"/>
<path d="M859.0 1828.6H865.0M879.0 1828.6H882.0M922.0 1828.6H930.0M1088.0 1828.6H1094.0M1294.0 1828.6H1299.0M1317.0 1828.6H1327.0M1329.0 1828.6H1342.0M1348.0 1828.6H1364.0M1376.0 1828.6H1381.0M1422.0 1828.6H1432.0M1447.0 1828.6H1458.0M1461.0 1828.6H1478.0" stroke="#9cbbe0" stroke-width="1.5" opacity="0.85" fill="none"/>
<path d="M1030 1877.4L1032.6 1875.8000000000002L1033.8 1869.4L1035.4 1869.4L1035.8 1873.4L1037 1875.8000000000002L1039 1877.4Z" fill="#1a1ab8"/>
<path d="M1400.6 1877.4L1402 1874.4L1405 1871.4L1408 1866.4L1410.6 1860.4L1412.6 1852.4L1413.8 1848.4L1415.2 1848.4L1416.2 1855.4L1417.4 1864.4L1419 1869.4L1421 1871.8000000000002L1429.4 1872.4L1430.4 1870.4L1432 1870.8000000000002L1432.6 1875.0L1448 1875.8000000000002L1448.6 1877.4Z" fill="#1212d2"/>
<path d="M867.0 1877.4H873.0M941.0 1877.4H954.0M1150.0 1877.4H1152.0M1313.0 1877.4H1336.0M1339.0 1877.4H1346.0M1371.0 1877.4H1381.0M1467.0 1877.4H1473.0" stroke="#2a2ad0" stroke-width="1.2" opacity="0.9" fill="none"/>
</svg>
</body></html>
